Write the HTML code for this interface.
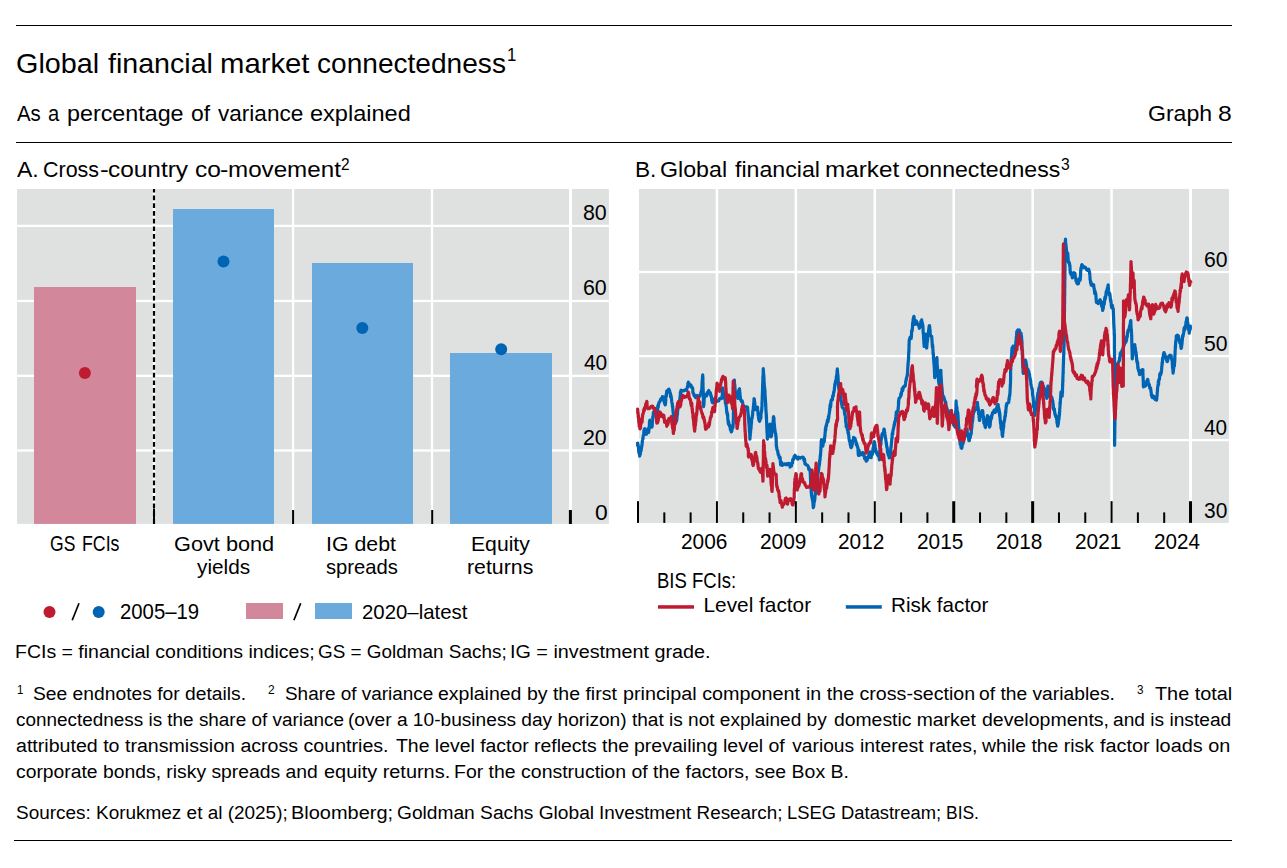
<!DOCTYPE html>
<html lang="en"><head><meta charset="utf-8"><title>Global financial market connectedness</title>
<style>
html,body{margin:0;padding:0;background:#fff;}
body{width:1287px;height:868px;position:relative;overflow:hidden;font-family:"Liberation Sans", sans-serif;color:#000;}
.t{position:absolute;white-space:nowrap;line-height:1;transform-origin:0 0;}
.rule{position:absolute;left:16px;width:1216px;height:1.2px;background:#000;}
svg{position:absolute;left:0;top:0;}
</style></head><body>
<div class="rule" style="top:24.9px"></div>
<div class="rule" style="top:141.9px"></div>
<div class="rule" style="top:839.9px;left:14px;width:1218px"></div>
<svg width="1287" height="868" viewBox="0 0 1287 868">
<rect x="17" y="189" width="591.9" height="334.9" fill="#dfe0e0"/>
<rect x="17" y="224.75" width="591.9" height="2.3" fill="#fff"/>
<rect x="17" y="299.85" width="591.9" height="2.3" fill="#fff"/>
<rect x="17" y="374.65000000000003" width="591.9" height="2.3" fill="#fff"/>
<rect x="17" y="449.35" width="591.9" height="2.3" fill="#fff"/>
<rect x="291.95000000000005" y="189" width="2.3" height="334.9" fill="#fff"/>
<rect x="430.85" y="189" width="2.3" height="334.9" fill="#fff"/>
<rect x="568.95" y="189" width="3.1" height="334.9" fill="#fff"/>
<rect x="34" y="287" width="102" height="236.89999999999998" fill="#d2879b"/>
<rect x="173" y="209" width="101" height="314.9" fill="#6baadc"/>
<rect x="312" y="263" width="101" height="260.9" fill="#6baadc"/>
<rect x="450" y="353" width="102" height="170.89999999999998" fill="#6baadc"/>
<rect x="152.75" y="189" width="2.5" height="334.9" fill="#fff"/>
<line x1="154" y1="189" x2="154" y2="523.9" stroke="#000" stroke-width="2.2" stroke-dasharray="4.7 3.0" stroke-dashoffset="1.1"/>
<rect x="153" y="508.5" width="2" height="15.5" fill="#000"/>
<rect x="292.1" y="510" width="2" height="14" fill="#000"/>
<rect x="431.2" y="510" width="2" height="14" fill="#000"/>
<rect x="568.9" y="510" width="3" height="14" fill="#000"/>
<circle cx="84.9" cy="373" r="6" fill="#be1a30"/>
<circle cx="223.5" cy="261.6" r="6" fill="#0064b4"/>
<circle cx="362.3" cy="328" r="6" fill="#0064b4"/>
<circle cx="501.2" cy="349.2" r="6" fill="#0064b4"/>
<circle cx="49.5" cy="612" r="6" fill="#be1a30"/>
<circle cx="98.7" cy="612" r="6" fill="#0064b4"/>
<rect x="246" y="603" width="37" height="16" fill="#d2879b"/>
<rect x="315" y="603" width="37" height="16" fill="#6baadc"/>
<line x1="72.2" y1="620.3" x2="79.0" y2="603.2" stroke="#000" stroke-width="1.7"/>
<line x1="293.9" y1="620.3" x2="300.7" y2="603.2" stroke="#000" stroke-width="1.7"/>
<rect x="639" y="189" width="589.9000000000001" height="333.9" fill="#dfe0e0"/>
<rect x="639" y="270.85" width="589.9000000000001" height="2.3" fill="#fff"/>
<rect x="639" y="354.95000000000005" width="589.9000000000001" height="2.3" fill="#fff"/>
<rect x="639" y="438.95000000000005" width="589.9000000000001" height="2.3" fill="#fff"/>
<rect x="715.6800000000001" y="189" width="2.5" height="333.9" fill="#fff"/>
<rect x="794.61" y="189" width="2.5" height="333.9" fill="#fff"/>
<rect x="873.54" y="189" width="2.5" height="333.9" fill="#fff"/>
<rect x="952.47" y="189" width="2.5" height="333.9" fill="#fff"/>
<rect x="1031.4" y="189" width="2.5" height="333.9" fill="#fff"/>
<rect x="1110.33" y="189" width="2.5" height="333.9" fill="#fff"/>
<rect x="1188.96" y="189" width="3.1" height="333.9" fill="#fff"/>
<path d="M637.5 442.1 L637.6 445.4 L637.7 443.2 L637.8 444.7 L638.0 445.0 L638.1 444.9 L638.2 445.7 L638.3 446.6 L638.5 447.9 L638.6 449.5 L638.7 451.3 L638.8 451.5 L639.0 453.1 L639.1 453.4 L639.2 453.6 L639.3 453.8 L639.4 453.5 L639.6 453.2 L639.7 456.1 L639.9 454.9 L640.1 454.8 L640.3 454.2 L640.5 451.5 L640.7 450.7 L640.8 449.4 L641.0 450.9 L641.2 449.5 L641.4 448.8 L641.6 446.7 L641.8 446.4 L641.9 444.7 L642.0 444.7 L642.1 444.8 L642.2 441.9 L642.3 442.6 L642.4 440.8 L642.5 440.1 L642.6 439.5 L642.7 438.7 L642.8 438.9 L643.0 438.9 L643.1 437.3 L643.2 435.8 L643.3 435.7 L643.5 435.1 L643.6 435.0 L643.8 433.7 L643.9 430.6 L644.1 429.9 L644.2 429.6 L644.4 430.6 L644.5 429.1 L644.7 428.7 L644.9 429.9 L645.1 428.9 L645.3 430.6 L645.5 432.3 L645.7 433.4 L645.9 432.1 L646.2 434.5 L647.1 433.1 L648.0 432.5 L648.2 430.8 L648.3 428.7 L648.4 428.3 L648.6 430.8 L648.7 432.4 L648.8 430.8 L649.0 429.0 L649.1 429.5 L649.2 427.4 L649.4 424.5 L649.5 421.3 L649.6 423.6 L649.8 420.2 L649.9 420.8 L650.2 420.6 L650.5 423.0 L650.8 423.2 L651.1 426.1 L651.4 426.3 L651.8 427.2 L651.9 426.8 L652.0 424.9 L652.1 424.6 L652.2 426.5 L652.3 422.7 L652.4 422.2 L652.5 421.9 L652.6 420.0 L652.7 419.4 L652.8 416.6 L652.9 416.6 L653.0 416.7 L653.1 417.4 L653.2 417.0 L653.3 414.4 L653.4 412.4 L653.5 414.6 L653.6 412.7 L654.4 411.0 L655.2 412.4 L656.0 412.5 L656.7 414.3 L656.9 411.3 L657.0 411.6 L657.1 411.1 L657.3 410.7 L657.4 411.6 L657.5 410.4 L657.7 407.8 L657.8 405.7 L657.9 405.9 L658.1 407.5 L658.2 407.2 L658.3 404.8 L658.5 405.5 L658.6 403.8 L659.1 402.3 L659.5 402.3 L660.0 401.1 L660.5 400.0 L661.0 398.6 L661.5 398.7 L662.0 399.6 L662.4 396.6 L662.9 396.7 L663.2 397.4 L663.5 398.1 L663.8 397.4 L664.0 400.6 L664.3 402.3 L664.6 403.8 L664.9 403.4 L665.2 405.0 L665.4 403.9 L665.5 404.3 L665.6 402.0 L665.7 401.3 L665.8 399.9 L665.8 397.9 L665.9 397.5 L666.0 396.0 L666.1 394.9 L666.2 394.9 L666.3 394.0 L666.3 396.4 L666.4 396.4 L666.5 395.0 L666.6 393.6 L666.7 390.9 L667.6 390.6 L668.5 389.3 L668.9 389.2 L669.3 390.2 L669.7 391.2 L670.0 393.5 L670.4 393.3 L670.6 397.0 L670.7 395.5 L670.9 397.1 L671.0 395.3 L671.2 398.2 L671.3 397.2 L671.5 399.1 L671.6 400.1 L671.8 402.0 L672.0 402.9 L672.1 403.5 L672.3 403.5 L672.4 406.7 L672.4 405.4 L672.5 406.1 L672.6 406.3 L672.7 407.6 L672.8 407.3 L672.8 408.4 L672.9 410.4 L673.0 410.3 L673.1 412.1 L673.2 412.0 L673.3 414.9 L673.3 414.6 L673.4 417.3 L673.5 416.3 L673.8 417.0 L674.1 418.7 L674.4 420.1 L674.8 421.5 L675.1 422.3 L675.4 422.5 L675.7 420.6 L676.0 422.4 L676.1 421.5 L676.2 421.0 L676.4 421.4 L676.5 418.5 L676.6 419.5 L676.7 420.6 L676.9 418.2 L677.0 415.8 L677.1 416.4 L677.2 414.7 L677.4 414.6 L677.5 414.2 L677.6 410.2 L677.7 410.5 L677.9 409.2 L678.0 407.4 L678.2 408.3 L678.4 405.9 L678.5 405.2 L678.7 404.7 L678.9 405.0 L679.0 404.6 L679.2 404.0 L679.4 402.2 L679.6 400.7 L679.7 401.1 L679.8 399.2 L679.9 398.0 L680.0 399.0 L680.1 396.9 L680.2 395.6 L680.3 397.1 L680.3 395.6 L680.4 392.0 L680.5 392.0 L680.6 394.7 L680.7 396.2 L680.8 392.4 L680.9 391.8 L681.0 390.2 L681.9 391.2 L682.8 390.5 L683.8 390.9 L684.7 390.0 L685.6 390.3 L686.6 390.5 L686.7 388.8 L686.9 388.8 L687.1 388.1 L687.2 387.9 L687.4 386.6 L687.6 387.3 L687.8 386.6 L687.9 383.7 L688.1 382.8 L688.3 383.2 L688.4 382.2 L688.8 384.6 L689.3 383.8 L689.7 384.9 L690.3 386.2 L690.9 385.0 L691.5 387.0 L691.8 387.7 L692.0 387.6 L692.2 388.1 L692.5 387.6 L692.7 388.4 L692.9 392.7 L693.2 392.8 L693.4 393.5 L693.8 394.4 L694.1 395.7 L694.5 395.0 L694.9 396.0 L695.3 397.3 L695.9 397.7 L696.5 396.3 L697.1 395.5 L697.8 396.1 L698.4 396.2 L699.0 396.7 L699.4 395.7 L699.8 396.1 L700.2 394.6 L700.7 393.7 L701.1 391.8 L701.5 392.0 L701.5 390.5 L701.6 390.1 L701.7 390.9 L701.7 389.9 L701.8 389.6 L701.8 389.2 L701.9 386.6 L702.0 387.3 L702.0 385.4 L702.1 382.6 L702.1 381.9 L702.2 381.8 L702.3 379.4 L702.3 382.7 L702.4 380.5 L702.4 380.2 L702.5 377.1 L702.5 377.1 L702.6 376.7 L702.7 374.8 L702.7 374.9 L702.7 375.6 L702.8 376.9 L702.8 376.0 L702.8 378.2 L702.8 378.6 L702.9 378.6 L702.9 377.4 L702.9 380.0 L702.9 381.2 L702.9 385.4 L703.0 383.1 L703.0 386.1 L703.0 387.4 L703.0 387.4 L703.1 387.7 L703.1 388.6 L703.1 387.1 L703.1 390.5 L703.1 390.2 L703.2 390.1 L703.2 391.5 L703.2 389.2 L703.2 390.6 L703.2 391.8 L703.3 392.3 L703.3 395.6 L703.3 398.5 L703.3 398.1 L703.4 398.1 L703.4 399.4 L703.4 399.4 L703.4 400.7 L703.4 402.0 L703.5 402.2 L703.5 402.6 L703.5 403.8 L703.5 404.7 L703.6 406.3 L703.6 404.8 L703.6 406.6 L703.7 405.1 L703.7 405.6 L703.8 403.1 L703.9 404.7 L703.9 405.0 L704.0 402.0 L704.1 402.6 L704.1 398.4 L704.2 398.8 L704.3 396.6 L704.3 398.5 L704.4 398.4 L704.5 397.4 L704.5 395.2 L704.6 394.3 L705.5 395.3 L706.5 395.8 L706.8 395.8 L707.2 392.7 L707.6 393.6 L707.9 393.5 L708.3 391.5 L708.8 390.5 L709.3 392.0 L709.8 393.1 L710.3 392.6 L710.8 395.7 L711.0 395.1 L711.2 397.0 L711.3 396.1 L711.5 397.1 L711.7 400.3 L711.9 399.2 L712.1 402.0 L712.7 402.9 L713.3 402.3 L713.9 399.1 L714.5 400.4 L715.4 400.1 L716.2 401.6 L717.0 401.4 L717.9 400.6 L718.7 400.8 L719.5 398.8 L720.3 398.2 L721.2 398.6 L722.0 398.3 L722.1 397.5 L722.1 397.9 L722.2 397.3 L722.2 394.7 L722.3 394.9 L722.4 394.8 L722.4 393.0 L722.5 392.1 L722.6 387.8 L722.6 388.9 L722.8 389.9 L723.0 389.3 L723.2 392.4 L723.4 394.5 L723.7 393.1 L723.9 393.0 L724.1 394.6 L724.3 396.2 L724.5 397.5 L724.6 398.0 L724.8 398.8 L724.9 398.4 L725.1 400.3 L725.3 400.3 L725.4 402.9 L725.6 404.0 L725.7 402.1 L725.9 404.4 L726.0 404.0 L726.2 406.9 L726.3 406.9 L726.5 409.0 L726.6 410.4 L726.7 412.4 L726.8 411.8 L726.9 411.7 L727.0 413.6 L727.1 411.9 L727.2 413.3 L727.3 414.0 L727.4 415.0 L727.5 414.1 L727.6 414.2 L727.7 414.8 L727.8 419.3 L727.9 419.3 L728.0 421.0 L728.1 421.2 L728.2 422.0 L728.4 424.2 L728.6 421.3 L728.8 423.3 L729.0 423.9 L729.2 424.5 L729.5 426.3 L729.8 425.0 L730.1 426.2 L730.4 429.9 L730.7 429.5 L731.0 430.2 L731.3 431.9 L731.5 431.6 L731.7 431.6 L731.9 430.1 L732.1 428.8 L732.4 428.4 L732.6 426.2 L732.8 426.1 L733.0 427.3 L733.2 424.6 L733.2 422.5 L733.2 420.6 L733.2 421.3 L733.3 421.7 L733.3 420.0 L733.3 419.1 L733.3 420.0 L733.3 418.4 L733.4 418.2 L733.4 416.3 L733.4 417.1 L733.4 416.4 L733.4 414.3 L733.4 412.6 L733.5 415.2 L733.5 411.2 L733.5 409.5 L733.5 406.5 L733.5 408.7 L733.6 408.2 L733.6 407.4 L733.6 404.8 L733.6 405.3 L733.6 403.9 L733.6 402.5 L733.7 402.6 L733.7 402.7 L733.7 401.7 L733.7 400.4 L733.7 400.9 L733.8 400.0 L733.8 398.4 L733.8 398.4 L733.8 397.6 L733.8 397.5 L733.8 396.9 L733.9 396.0 L733.9 393.6 L733.9 394.5 L733.9 393.9 L733.9 391.4 L734.0 392.1 L734.0 390.4 L734.0 388.0 L734.0 387.8 L734.0 385.7 L734.1 387.3 L734.1 384.5 L734.1 386.3 L734.1 383.6 L734.1 383.0 L734.1 383.9 L734.2 382.7 L734.2 380.6 L734.3 381.0 L734.4 380.1 L734.4 383.3 L734.5 382.9 L734.6 384.4 L734.7 385.4 L734.8 384.7 L734.9 387.1 L735.0 390.2 L735.1 388.6 L735.1 389.0 L735.2 390.8 L735.3 392.9 L735.4 391.7 L735.5 393.1 L735.6 394.3 L735.7 395.2 L736.6 394.8 L737.5 396.8 L737.8 398.4 L738.0 393.7 L738.2 392.2 L738.5 392.5 L738.7 390.9 L738.9 389.9 L739.2 389.6 L739.4 388.9 L739.5 388.8 L739.6 390.6 L739.7 391.1 L739.9 392.7 L740.0 394.6 L740.1 395.9 L740.2 395.7 L740.3 398.5 L740.4 397.2 L740.5 398.8 L740.6 399.3 L741.0 400.3 L741.4 401.3 L741.8 400.6 L742.1 400.7 L742.5 402.2 L742.8 403.6 L743.1 404.6 L743.4 405.9 L743.8 406.2 L744.7 406.6 L745.6 407.0 L746.6 406.8 L747.5 407.2 L747.6 407.9 L747.6 407.5 L747.7 410.7 L747.8 412.1 L747.9 412.1 L748.0 411.8 L748.1 414.1 L748.1 413.9 L748.2 414.4 L748.3 416.0 L748.4 415.8 L748.5 417.1 L748.6 417.3 L748.6 419.3 L748.7 419.8 L748.8 421.5 L748.8 422.1 L748.9 422.7 L748.9 423.5 L749.0 424.8 L749.1 423.7 L749.1 423.6 L749.2 425.6 L749.2 426.9 L749.3 427.4 L749.3 430.2 L749.4 430.5 L749.4 432.0 L749.5 431.7 L749.5 430.4 L749.6 430.5 L749.6 433.9 L749.7 434.4 L749.8 434.5 L749.8 437.2 L749.9 439.1 L749.9 438.8 L750.0 438.9 L750.0 437.8 L750.1 435.7 L750.2 433.6 L750.3 435.5 L750.3 432.6 L750.4 432.4 L750.5 432.3 L750.6 432.4 L750.6 429.0 L750.7 429.2 L750.8 428.1 L750.8 429.8 L750.9 428.0 L751.0 426.3 L751.1 427.9 L751.1 426.2 L751.2 425.0 L751.3 424.5 L751.4 423.0 L751.5 423.0 L751.6 420.7 L751.7 418.6 L751.8 418.2 L751.9 419.0 L752.0 417.6 L752.1 418.2 L752.2 417.5 L752.4 416.1 L752.5 415.1 L752.6 414.8 L752.7 413.7 L752.7 412.1 L752.8 411.2 L752.9 410.4 L753.0 410.9 L753.1 411.2 L753.2 410.1 L753.3 408.3 L753.4 406.7 L753.5 406.0 L753.6 404.3 L753.7 403.8 L753.8 402.7 L753.9 402.2 L754.0 398.7 L754.1 399.7 L754.2 400.3 L754.3 398.8 L754.4 401.6 L754.5 401.5 L754.6 401.2 L754.7 403.9 L754.8 402.6 L754.9 406.9 L755.0 405.0 L755.1 406.8 L755.2 408.5 L755.3 408.8 L755.4 408.7 L755.5 408.3 L755.6 409.6 L756.5 409.2 L757.4 408.8 L757.5 407.1 L757.6 410.0 L757.7 409.5 L757.8 410.5 L757.9 411.9 L758.0 412.3 L758.0 414.4 L758.1 413.1 L758.2 415.6 L758.3 415.2 L758.4 416.4 L758.5 417.6 L758.6 417.1 L758.7 419.6 L759.6 421.4 L760.5 418.4 L760.7 416.5 L760.8 418.0 L760.9 418.2 L761.0 413.4 L761.2 413.1 L761.3 411.9 L761.4 412.0 L761.5 411.2 L761.7 409.3 L761.8 409.4 L761.8 409.8 L761.8 407.3 L761.9 407.2 L761.9 407.1 L761.9 407.9 L762.0 406.1 L762.0 404.7 L762.0 402.3 L762.1 402.4 L762.1 403.1 L762.1 401.8 L762.1 401.7 L762.2 399.2 L762.2 399.2 L762.2 397.5 L762.3 395.9 L762.3 394.9 L762.3 396.1 L762.4 395.3 L762.4 393.6 L762.4 392.4 L762.4 392.7 L762.5 390.8 L762.5 391.4 L762.5 390.2 L762.6 388.2 L762.6 387.4 L762.6 385.6 L762.7 384.4 L762.7 384.1 L762.7 383.5 L762.8 382.9 L762.8 381.7 L762.8 380.9 L762.8 381.2 L762.9 378.9 L762.9 376.2 L762.9 379.6 L763.0 378.4 L763.0 377.5 L763.0 377.9 L763.1 377.4 L763.1 377.1 L763.1 375.9 L763.1 374.7 L763.2 373.4 L763.2 371.8 L763.2 370.7 L763.3 368.7 L763.3 371.2 L763.4 371.5 L763.5 371.2 L763.5 374.1 L763.6 373.5 L763.6 375.0 L763.7 374.7 L763.8 374.7 L763.8 377.9 L763.9 378.4 L764.0 377.2 L764.0 379.8 L764.1 381.6 L764.1 381.3 L764.2 382.9 L764.3 384.7 L764.3 385.7 L764.4 386.0 L764.5 386.7 L764.5 388.5 L764.6 388.1 L764.6 387.9 L764.7 388.3 L764.8 393.1 L764.8 390.3 L764.9 391.1 L764.9 389.7 L765.0 391.9 L765.0 393.0 L765.1 394.0 L765.1 395.9 L765.2 397.9 L765.2 397.7 L765.3 396.9 L765.3 397.6 L765.4 398.9 L765.4 399.0 L765.5 400.4 L765.5 402.1 L765.6 402.8 L765.6 405.7 L765.7 403.0 L765.7 404.6 L765.7 406.8 L765.8 405.6 L765.8 405.0 L765.9 409.7 L765.9 410.6 L766.0 410.9 L766.0 412.4 L766.1 410.8 L766.1 411.7 L766.2 414.3 L766.2 414.4 L766.2 412.9 L766.3 414.6 L766.3 417.8 L766.3 416.3 L766.4 415.7 L766.4 415.1 L766.5 418.0 L766.5 419.6 L766.5 420.0 L766.6 420.8 L766.6 421.9 L766.6 422.4 L766.7 423.2 L766.7 425.8 L766.8 426.0 L766.8 427.3 L766.8 425.5 L766.9 426.5 L766.9 429.6 L766.9 430.2 L767.0 432.0 L767.0 430.2 L767.0 432.6 L767.1 432.5 L767.1 433.7 L767.2 433.8 L767.2 434.0 L767.2 434.5 L767.3 436.3 L767.3 438.8 L767.3 437.8 L767.4 439.2 L767.6 437.2 L767.8 436.3 L768.0 437.3 L768.2 435.8 L768.4 434.1 L768.6 434.7 L768.7 434.2 L768.8 433.5 L768.9 432.4 L769.0 430.6 L769.1 431.1 L769.2 429.1 L769.3 428.8 L769.4 428.1 L769.5 428.5 L769.7 426.5 L769.8 426.5 L769.9 424.1 L769.9 425.0 L770.0 426.3 L770.1 427.2 L770.2 425.6 L770.3 428.8 L770.4 428.8 L770.4 429.3 L770.5 432.7 L770.6 432.3 L770.7 434.0 L770.8 432.1 L770.9 434.8 L770.9 435.7 L771.0 436.6 L771.1 436.8 L771.2 436.3 L771.4 435.2 L771.5 436.0 L771.7 433.6 L771.8 431.0 L771.9 432.6 L772.1 430.2 L772.2 429.8 L772.3 429.8 L772.4 430.9 L772.5 429.4 L772.6 428.5 L772.6 427.0 L772.7 425.9 L772.8 424.8 L772.9 424.3 L772.9 422.2 L773.0 422.3 L773.1 422.9 L773.2 421.4 L773.2 420.0 L773.3 420.0 L773.4 417.6 L773.4 417.0 L773.5 419.2 L773.6 416.5 L773.7 418.2 L773.7 417.9 L773.8 417.6 L773.9 417.6 L774.0 419.4 L774.0 422.1 L774.1 421.9 L774.2 423.5 L774.2 423.2 L774.3 424.1 L774.4 425.3 L774.5 429.2 L774.5 427.8 L774.6 426.6 L774.7 428.9 L774.8 429.1 L774.8 429.8 L775.0 429.9 L775.1 432.1 L775.2 431.6 L775.4 433.2 L775.5 433.4 L775.7 433.6 L775.8 435.8 L775.9 436.8 L776.1 436.4 L776.1 438.0 L776.1 439.7 L776.2 440.1 L776.2 441.0 L776.2 441.7 L776.3 442.6 L776.3 442.7 L776.3 444.8 L776.4 446.4 L776.4 445.0 L776.4 446.1 L776.4 446.7 L776.7 446.9 L776.9 449.5 L777.2 449.8 L777.4 450.7 L777.7 450.9 L777.9 452.8 L778.3 455.1 L778.6 454.9 L778.9 455.1 L779.2 457.6 L779.5 458.3 L779.8 457.3 L780.0 458.0 L780.2 457.5 L780.3 460.8 L780.5 462.9 L780.7 465.0 L780.9 463.9 L781.0 463.7 L781.5 462.3 L781.9 465.0 L782.3 465.4 L783.3 464.2 L784.4 463.9 L785.4 464.6 L786.3 463.7 L787.2 464.8 L788.1 463.6 L789.0 463.4 L789.9 463.7 L790.1 467.1 L790.3 466.5 L790.7 465.1 L791.1 465.4 L791.5 466.0 L791.8 463.6 L792.2 462.6 L792.5 463.1 L792.7 459.6 L793.0 459.7 L793.3 458.9 L793.5 459.2 L793.8 459.3 L794.1 456.7 L795.0 455.3 L795.9 456.9 L796.6 457.5 L797.2 457.6 L797.8 459.2 L798.6 457.2 L799.4 458.1 L800.1 458.2 L800.9 457.5 L801.8 457.5 L802.8 457.1 L803.0 457.2 L803.3 457.5 L803.5 458.1 L803.8 459.6 L804.0 460.5 L804.5 459.1 L805.0 464.2 L805.4 463.6 L805.9 464.2 L806.5 465.0 L807.1 465.0 L807.8 465.6 L808.4 467.0 L808.6 468.1 L808.9 469.7 L809.2 468.2 L809.4 470.1 L809.7 469.7 L810.0 469.6 L810.2 472.3 L810.3 473.4 L810.3 474.8 L810.4 475.7 L810.4 473.6 L810.4 476.3 L810.5 479.4 L810.5 479.0 L810.6 480.3 L810.6 481.8 L810.7 483.3 L810.7 479.4 L810.7 481.1 L810.8 482.4 L810.8 483.3 L810.9 485.0 L810.9 484.4 L811.0 483.1 L811.0 486.3 L811.1 487.4 L811.1 489.8 L811.2 491.2 L811.2 491.4 L811.3 493.2 L811.3 491.3 L811.4 492.6 L811.4 492.1 L811.5 495.1 L811.7 495.7 L811.9 497.4 L812.1 498.0 L812.3 499.1 L812.5 500.3 L812.7 500.1 L812.8 502.0 L812.9 502.0 L812.9 503.2 L813.0 501.2 L813.0 502.2 L813.1 505.9 L813.2 506.7 L813.2 505.3 L813.3 505.5 L813.3 507.7 L813.5 506.2 L813.6 507.1 L813.7 505.8 L813.8 505.7 L814.0 502.8 L814.1 502.5 L814.2 502.2 L814.3 501.8 L814.5 501.4 L814.6 499.7 L814.7 499.8 L814.8 499.7 L814.9 498.3 L815.0 495.3 L815.1 494.3 L815.2 493.2 L815.3 495.1 L815.4 494.3 L815.5 492.6 L815.6 490.8 L815.7 489.6 L815.8 490.0 L815.9 489.1 L816.0 487.4 L816.1 486.0 L816.2 486.7 L816.4 483.5 L816.5 483.3 L816.6 484.1 L816.7 484.0 L816.8 483.2 L816.9 481.3 L817.0 481.4 L817.1 480.3 L817.2 478.6 L817.4 477.0 L817.5 476.4 L817.6 476.2 L817.8 474.9 L817.9 473.7 L818.0 471.0 L818.2 473.0 L818.3 471.9 L818.4 471.0 L818.6 469.7 L818.7 470.1 L818.8 467.5 L818.9 466.2 L819.1 466.5 L819.2 466.0 L819.3 464.6 L819.4 464.6 L819.6 463.4 L819.6 462.1 L819.7 460.3 L819.8 460.4 L819.9 461.0 L820.0 459.5 L820.1 458.5 L820.1 458.8 L820.2 456.8 L820.3 455.3 L820.4 455.0 L820.5 456.2 L820.6 453.8 L820.6 452.7 L820.7 452.3 L820.8 451.0 L820.8 449.7 L820.9 450.7 L820.9 447.1 L821.0 447.8 L821.0 448.0 L821.1 447.9 L821.1 446.2 L821.1 445.3 L821.2 443.3 L821.2 440.7 L821.3 441.5 L821.3 441.2 L821.3 440.8 L821.4 441.1 L821.4 439.7 L821.6 441.3 L821.7 442.9 L821.8 442.3 L822.0 442.8 L822.1 442.0 L822.3 443.6 L822.4 443.8 L822.5 445.3 L822.7 445.6 L822.9 446.0 L823.1 443.0 L823.3 443.7 L823.5 440.5 L823.7 441.1 L823.9 441.2 L824.1 441.3 L824.3 441.6 L824.5 438.4 L824.6 437.5 L824.7 436.6 L824.8 436.2 L824.9 436.8 L825.0 434.4 L825.1 432.6 L825.2 431.9 L825.2 432.9 L825.3 430.8 L825.4 428.3 L825.5 428.5 L825.6 429.9 L825.7 430.4 L825.8 427.5 L826.0 425.9 L826.2 426.4 L826.4 426.3 L826.6 424.6 L826.8 423.5 L827.0 422.8 L827.4 420.2 L827.9 422.0 L828.3 419.8 L828.4 416.6 L828.5 418.8 L828.7 417.6 L828.8 417.4 L829.0 414.1 L829.1 414.5 L829.2 414.0 L829.3 413.3 L829.4 412.4 L829.5 411.3 L829.6 410.4 L829.7 408.3 L829.8 410.6 L829.9 408.0 L830.0 405.7 L830.1 406.1 L830.2 405.1 L830.3 404.3 L830.6 407.2 L830.8 404.7 L831.0 400.8 L831.3 400.4 L831.5 399.9 L831.7 399.6 L832.0 399.8 L832.2 398.6 L832.4 400.0 L832.6 397.1 L832.8 395.7 L833.0 396.3 L833.3 396.1 L833.5 393.6 L833.6 392.2 L833.7 393.0 L833.9 392.2 L834.0 392.0 L834.1 391.4 L834.3 390.0 L834.4 388.6 L834.5 387.5 L834.7 386.5 L834.8 384.1 L834.9 384.8 L835.1 385.0 L835.2 384.3 L835.3 382.2 L835.5 381.1 L835.7 381.9 L835.9 381.5 L836.2 378.6 L836.4 376.3 L836.6 377.2 L836.7 374.7 L836.8 377.2 L836.9 375.3 L837.0 375.0 L837.0 371.3 L837.1 371.9 L837.2 371.6 L837.3 368.9 L837.4 370.3 L837.5 371.2 L837.5 372.2 L837.6 372.2 L837.6 373.3 L837.7 374.7 L837.8 375.4 L837.8 376.2 L837.9 374.6 L837.9 376.5 L838.0 376.2 L838.0 378.4 L838.1 378.5 L838.1 377.8 L838.2 381.3 L838.3 381.9 L838.4 382.4 L838.4 383.5 L838.5 384.2 L838.6 386.0 L838.7 388.4 L838.8 387.4 L838.9 388.8 L839.0 389.9 L839.1 389.4 L839.2 390.9 L839.3 392.5 L839.5 392.4 L839.6 392.6 L839.7 392.4 L839.9 395.2 L840.0 394.8 L840.1 396.1 L840.3 395.3 L840.4 396.8 L840.5 396.2 L840.7 397.5 L840.8 400.3 L840.9 400.5 L841.1 400.0 L841.3 401.1 L841.4 402.4 L841.6 402.6 L841.8 404.8 L842.0 405.3 L842.2 407.2 L843.1 408.3 L844.0 408.5 L844.1 409.7 L844.3 410.7 L844.4 409.0 L844.5 413.4 L844.6 411.1 L844.8 414.6 L844.9 413.8 L845.0 412.5 L845.1 413.5 L845.3 416.1 L845.4 416.9 L845.5 417.9 L845.7 422.3 L845.8 421.4 L846.0 420.6 L846.1 423.3 L846.2 426.7 L846.4 424.0 L846.5 424.3 L846.7 424.9 L846.9 424.5 L847.1 425.4 L847.3 429.1 L847.5 430.3 L847.8 430.0 L847.9 431.0 L848.0 432.9 L848.1 430.6 L848.3 434.0 L848.4 432.4 L848.5 433.0 L848.6 435.3 L848.7 434.9 L848.9 437.0 L849.0 438.2 L849.2 440.3 L849.4 440.2 L849.5 441.0 L849.7 441.4 L849.9 442.3 L850.1 443.0 L850.2 444.3 L850.6 445.7 L850.9 447.5 L851.2 447.7 L851.5 446.9 L851.9 446.4 L852.1 443.4 L852.3 442.9 L852.4 444.1 L852.6 440.4 L852.8 440.7 L853.0 441.3 L853.2 440.7 L853.4 439.4 L853.6 437.4 L853.8 439.1 L854.4 438.0 L855.0 438.5 L855.6 440.6 L855.9 441.5 L856.1 443.1 L856.3 444.8 L856.6 443.2 L856.8 445.0 L857.0 444.8 L857.2 446.2 L857.5 447.3 L857.7 447.0 L857.9 448.6 L858.0 448.5 L858.2 453.6 L858.4 455.4 L858.6 453.7 L858.8 451.7 L859.0 450.0 L859.2 451.2 L859.3 455.5 L860.3 453.7 L861.2 454.5 L861.8 453.2 L862.5 452.5 L863.1 452.7 L863.5 452.9 L863.9 456.0 L864.3 456.1 L864.7 458.8 L865.1 458.1 L865.6 457.6 L866.2 461.2 L866.8 459.3 L867.2 460.3 L867.6 457.4 L867.9 458.4 L868.3 457.1 L868.7 455.8 L868.9 454.6 L869.2 457.1 L869.4 455.0 L869.7 452.0 L869.9 451.9 L870.1 452.2 L870.3 454.0 L870.4 455.4 L870.6 455.5 L870.8 456.9 L871.0 456.6 L871.2 457.6 L871.3 456.1 L871.5 455.1 L871.7 454.4 L871.8 454.5 L872.0 453.3 L872.2 454.6 L872.3 451.7 L872.5 454.0 L872.7 451.5 L872.9 450.0 L873.0 448.7 L873.2 449.3 L873.3 447.0 L873.5 447.2 L873.6 445.6 L873.8 442.7 L874.0 443.0 L874.1 444.9 L874.3 441.7 L874.4 443.7 L874.6 442.6 L874.7 445.6 L874.9 444.4 L875.0 445.1 L875.2 446.8 L875.4 448.1 L875.5 448.6 L875.7 451.7 L876.0 452.1 L876.2 451.0 L876.4 452.5 L876.7 453.1 L876.9 454.0 L877.1 454.1 L877.4 454.7 L878.0 455.7 L878.6 455.4 L879.2 457.2 L879.3 459.8 L879.4 456.4 L879.5 452.8 L879.6 453.2 L879.7 452.3 L879.7 450.8 L879.8 451.0 L879.9 450.2 L880.0 450.8 L880.1 451.3 L880.2 447.2 L880.2 446.8 L880.3 444.5 L880.4 443.6 L880.5 444.6 L880.6 444.5 L880.8 442.8 L880.9 444.6 L881.0 440.3 L881.2 440.2 L881.3 439.9 L881.4 438.0 L881.6 437.7 L881.7 436.7 L882.0 434.3 L882.2 434.9 L882.5 433.4 L882.7 433.8 L883.0 433.6 L883.2 434.2 L883.5 432.9 L883.7 430.6 L884.0 429.0 L884.2 429.4 L884.3 429.4 L884.4 433.4 L884.6 432.6 L884.7 432.5 L884.8 432.4 L884.9 433.9 L885.0 434.7 L885.1 436.3 L885.2 436.1 L885.3 436.8 L885.5 438.5 L885.6 438.7 L885.7 438.7 L885.9 440.4 L886.0 441.3 L886.1 442.1 L886.3 443.6 L886.4 442.9 L886.5 444.6 L886.7 446.4 L886.8 446.9 L886.9 447.4 L887.1 447.3 L887.2 448.2 L887.3 449.2 L887.5 452.5 L887.7 452.6 L887.9 453.3 L888.1 454.6 L888.3 454.5 L888.4 455.2 L888.6 455.8 L888.8 455.3 L889.0 454.1 L889.2 457.8 L890.0 457.5 L890.1 457.4 L890.2 455.7 L890.2 455.5 L890.3 455.3 L890.4 455.0 L890.5 453.3 L890.6 452.9 L890.7 448.9 L890.7 450.2 L890.8 450.0 L890.9 447.1 L891.0 446.8 L891.1 446.8 L891.2 447.2 L891.2 445.1 L891.3 445.9 L891.4 443.8 L891.5 442.5 L891.6 442.2 L891.7 440.1 L891.8 438.4 L891.9 439.3 L892.0 438.1 L892.0 437.4 L892.1 438.0 L892.2 433.3 L892.3 433.8 L892.4 434.8 L892.5 433.4 L892.7 434.3 L892.9 430.9 L893.1 430.4 L893.3 429.2 L893.5 428.4 L893.7 427.9 L893.9 426.8 L894.0 425.3 L894.2 424.3 L894.4 425.2 L894.5 424.3 L894.7 421.9 L894.8 422.0 L895.0 422.2 L895.1 422.1 L895.3 420.6 L895.4 421.0 L895.6 418.6 L895.8 416.9 L895.9 415.7 L896.1 415.7 L896.3 411.8 L896.5 415.0 L896.7 414.4 L896.8 412.2 L897.3 411.0 L897.7 411.1 L898.1 410.5 L898.1 408.0 L898.2 409.1 L898.3 408.1 L898.3 406.2 L898.4 406.2 L898.5 404.0 L898.5 402.0 L898.6 400.3 L898.6 404.1 L898.7 401.6 L898.8 400.4 L898.8 399.8 L898.9 398.7 L899.0 398.2 L899.5 398.1 L900.0 397.3 L900.6 396.4 L900.8 393.8 L901.0 395.6 L901.2 394.5 L901.4 394.4 L901.6 392.0 L901.8 391.0 L902.2 388.6 L902.6 390.8 L902.9 389.7 L903.3 387.0 L903.7 387.3 L904.0 386.4 L904.4 386.0 L904.8 386.3 L905.2 386.1 L905.5 384.0 L905.7 381.8 L906.0 380.3 L906.2 380.3 L906.3 378.4 L906.5 379.0 L906.7 377.4 L906.9 376.7 L907.0 377.0 L907.2 375.0 L907.4 375.2 L907.5 372.0 L907.5 373.0 L907.6 371.0 L907.6 371.0 L907.7 370.1 L907.7 369.3 L907.8 367.6 L907.8 367.7 L907.9 365.8 L908.0 366.0 L908.0 364.5 L908.1 362.8 L908.1 364.6 L908.2 363.3 L908.2 361.3 L908.3 361.6 L908.3 361.5 L908.4 360.4 L908.4 360.1 L908.5 359.3 L908.5 356.4 L908.6 358.5 L908.6 355.7 L908.6 354.9 L908.7 354.3 L908.7 354.3 L908.7 352.8 L908.8 351.6 L908.8 350.9 L908.9 351.9 L908.9 351.2 L908.9 349.9 L909.0 348.8 L909.0 346.0 L909.0 345.1 L909.1 343.4 L909.1 346.0 L909.2 341.9 L909.2 340.5 L909.2 340.0 L909.3 340.6 L909.9 337.6 L910.5 337.0 L911.1 338.6 L911.2 335.8 L911.3 337.5 L911.4 336.8 L911.5 334.6 L911.6 330.9 L911.7 331.5 L911.8 332.1 L911.8 331.0 L911.9 330.5 L912.0 330.3 L912.1 329.4 L912.2 331.0 L912.3 329.6 L912.4 327.9 L912.5 327.4 L912.6 323.0 L912.7 323.6 L912.8 323.8 L912.9 321.6 L913.0 322.6 L913.1 321.8 L913.2 318.5 L913.3 320.3 L913.4 319.7 L913.5 318.3 L913.6 317.1 L913.8 319.3 L914.0 316.4 L914.2 318.3 L914.3 321.8 L914.5 323.8 L914.7 323.9 L914.9 324.3 L915.5 323.0 L916.1 320.8 L916.7 321.7 L917.1 324.1 L917.5 323.4 L917.8 324.8 L918.2 325.1 L918.6 324.9 L919.0 326.4 L919.4 328.3 L919.8 327.1 L920.0 325.5 L920.3 325.2 L920.5 323.8 L920.7 323.6 L920.9 321.4 L921.1 321.2 L921.3 322.0 L921.5 320.6 L921.7 319.9 L921.8 321.4 L922.0 323.8 L922.1 322.4 L922.3 322.5 L922.4 324.8 L922.5 325.8 L922.7 324.6 L922.8 325.1 L922.9 327.0 L923.0 327.7 L923.1 328.8 L923.1 330.8 L923.2 333.0 L923.2 333.6 L923.3 332.3 L923.3 332.4 L923.4 332.5 L923.4 333.2 L923.5 336.2 L923.5 337.0 L923.6 334.8 L923.6 337.0 L923.7 339.7 L923.8 338.0 L923.8 340.5 L923.9 343.4 L923.9 340.4 L924.0 341.4 L924.0 341.7 L924.1 344.0 L924.1 345.3 L924.2 346.5 L924.3 346.0 L924.4 344.4 L924.5 343.4 L924.5 344.1 L924.6 341.2 L924.7 340.6 L924.8 339.4 L924.9 338.7 L925.0 339.9 L925.1 337.7 L925.2 338.4 L925.3 335.9 L925.3 334.1 L925.4 334.1 L925.5 338.3 L925.6 337.3 L925.7 339.1 L925.8 338.5 L925.8 339.3 L925.9 338.9 L926.0 341.7 L926.1 342.6 L926.2 341.8 L926.3 343.9 L926.3 345.6 L926.4 346.7 L926.5 346.7 L926.6 348.2 L926.7 347.8 L926.8 347.2 L926.8 343.8 L926.9 343.0 L927.0 345.1 L927.1 342.6 L927.2 342.0 L927.3 341.1 L927.3 339.7 L927.4 341.6 L927.5 338.9 L927.6 339.9 L927.7 338.1 L927.8 336.4 L927.8 335.7 L927.9 334.3 L928.1 333.7 L928.2 333.7 L928.4 332.6 L928.5 331.6 L928.7 329.7 L928.8 330.2 L928.9 328.1 L929.1 327.2 L929.2 325.9 L929.4 327.7 L929.5 325.7 L929.6 326.1 L929.7 328.5 L929.7 328.0 L929.8 327.3 L929.9 329.3 L929.9 330.9 L930.0 332.6 L930.1 330.2 L930.1 331.3 L930.2 334.5 L930.3 335.4 L930.3 335.4 L930.4 335.4 L931.0 335.9 L931.6 336.9 L931.7 336.4 L931.8 338.7 L931.9 338.6 L932.0 340.4 L932.1 342.4 L932.1 342.1 L932.2 344.2 L932.3 346.0 L932.4 347.1 L932.5 345.2 L932.6 344.8 L932.6 345.6 L932.7 345.8 L932.8 347.2 L932.9 349.6 L933.0 350.6 L933.0 352.0 L933.1 354.2 L933.2 353.4 L933.2 352.9 L933.3 353.1 L933.4 353.7 L933.4 356.3 L933.5 358.9 L933.6 359.1 L933.7 358.8 L933.7 359.9 L933.8 361.9 L933.9 361.3 L933.9 363.0 L934.0 363.4 L934.1 363.4 L934.1 365.0 L934.2 367.1 L934.2 366.8 L934.2 366.3 L934.3 366.1 L934.3 367.0 L934.4 370.5 L934.4 370.9 L934.4 371.6 L934.5 372.8 L934.5 373.1 L934.5 374.1 L934.6 373.6 L934.6 376.5 L934.6 375.3 L934.7 377.5 L934.7 374.8 L934.8 377.7 L934.8 375.4 L934.9 376.6 L935.0 374.2 L935.0 372.9 L935.1 374.3 L935.2 375.3 L935.3 374.4 L935.3 375.1 L935.4 373.3 L935.5 369.7 L935.6 366.8 L935.6 366.9 L935.7 366.3 L935.8 365.2 L935.9 365.6 L935.9 367.1 L936.0 365.2 L936.1 364.8 L936.2 364.0 L936.3 361.6 L936.4 362.7 L936.5 360.0 L936.7 359.9 L936.8 357.9 L936.9 357.6 L936.9 359.2 L937.0 361.6 L937.0 359.2 L937.1 361.2 L937.1 365.2 L937.2 364.4 L937.2 364.7 L937.2 366.0 L937.3 366.1 L937.3 367.1 L937.4 367.3 L937.4 366.2 L937.5 368.4 L937.5 369.0 L937.6 371.6 L937.6 369.4 L937.7 369.8 L937.7 374.0 L937.8 373.3 L937.8 375.8 L937.9 374.6 L938.0 376.7 L938.1 375.1 L938.2 375.0 L938.3 376.9 L938.4 378.8 L938.5 379.2 L938.6 382.2 L938.7 381.2 L938.8 383.1 L938.9 382.6 L939.0 382.6 L939.1 384.7 L939.2 383.1 L939.3 380.2 L939.4 381.3 L939.5 382.1 L939.6 381.0 L939.7 378.9 L939.8 376.9 L939.9 376.0 L940.0 376.8 L940.1 378.2 L940.2 374.6 L940.2 374.1 L940.3 374.8 L940.4 373.7 L940.5 372.3 L940.6 370.5 L940.7 370.5 L940.8 371.1 L940.8 371.3 L940.9 370.3 L940.9 373.4 L941.0 375.0 L941.0 376.1 L941.1 375.4 L941.1 378.0 L941.2 378.9 L941.2 378.7 L941.3 378.0 L941.3 380.3 L941.4 382.3 L941.4 380.0 L941.5 382.7 L941.5 383.2 L941.6 384.4 L941.7 385.5 L941.8 387.4 L941.9 387.6 L941.9 386.5 L942.0 388.7 L942.1 390.0 L942.2 390.1 L942.3 392.8 L942.4 392.0 L942.5 393.8 L942.6 395.2 L942.7 395.1 L942.7 395.6 L942.8 395.7 L943.1 396.0 L943.5 396.5 L943.8 396.8 L944.1 398.0 L944.4 398.6 L944.7 400.4 L945.0 400.9 L945.3 402.7 L945.6 401.9 L945.8 402.3 L946.0 405.4 L946.3 407.1 L946.5 407.7 L946.8 407.7 L947.0 411.0 L947.2 409.9 L947.5 409.9 L947.7 411.7 L948.0 410.2 L948.2 411.0 L948.4 412.2 L948.8 411.1 L949.3 414.0 L949.7 416.7 L950.1 417.2 L950.5 416.5 L950.9 417.2 L951.2 416.7 L951.5 418.2 L951.8 419.9 L952.2 419.0 L952.5 421.7 L952.8 420.4 L953.1 421.4 L953.4 423.4 L953.7 425.1 L954.0 425.3 L954.3 424.3 L954.6 424.3 L954.9 427.1 L954.9 426.6 L955.0 426.2 L955.0 423.1 L955.1 424.0 L955.1 424.1 L955.1 421.6 L955.2 420.3 L955.2 421.2 L955.3 419.0 L955.3 419.6 L955.3 420.5 L955.4 417.5 L955.4 417.3 L955.5 416.7 L955.5 416.2 L955.5 415.2 L955.6 414.4 L955.6 412.5 L955.7 411.8 L955.7 411.9 L955.7 412.3 L955.8 411.1 L955.8 411.2 L955.9 409.8 L955.9 408.0 L955.9 407.6 L956.0 407.2 L956.0 403.4 L956.1 403.7 L956.1 400.9 L956.1 402.4 L956.3 404.8 L956.4 405.2 L956.5 406.3 L956.7 406.6 L956.8 407.6 L956.9 407.2 L957.1 411.3 L957.2 411.4 L957.4 412.3 L957.5 411.7 L957.6 412.8 L957.8 412.9 L957.8 414.1 L957.9 413.8 L957.9 416.3 L958.0 415.3 L958.0 416.9 L958.1 418.0 L958.1 416.7 L958.2 419.8 L958.2 420.6 L958.3 420.3 L958.3 422.5 L958.4 422.0 L958.4 424.2 L958.5 424.7 L958.6 424.7 L958.6 427.1 L958.7 427.0 L958.7 426.9 L958.8 428.3 L958.8 429.2 L958.9 427.9 L959.0 429.5 L959.0 430.8 L959.1 433.9 L959.1 434.6 L959.2 433.4 L959.3 434.7 L959.3 435.6 L959.4 438.0 L959.4 439.0 L959.5 438.7 L959.6 438.9 L959.6 439.2 L959.8 437.9 L960.0 439.5 L960.2 444.4 L960.4 444.0 L960.7 443.4 L960.9 445.4 L961.1 447.9 L961.3 447.1 L961.5 447.3 L961.8 448.3 L962.1 446.4 L962.4 444.6 L962.7 443.1 L963.0 443.7 L963.3 442.1 L963.6 441.2 L963.8 441.3 L964.0 438.8 L964.2 436.9 L964.4 437.6 L964.6 436.7 L964.8 435.5 L965.0 434.4 L965.2 435.0 L965.5 435.2 L965.8 433.7 L966.1 432.9 L966.5 432.0 L966.8 430.7 L967.1 429.4 L967.2 430.2 L967.3 432.8 L967.5 435.8 L967.6 434.6 L967.7 434.5 L967.9 434.1 L968.0 436.6 L968.1 434.8 L968.3 435.8 L968.4 436.1 L968.5 437.3 L968.7 439.5 L968.8 440.1 L968.9 440.6 L969.1 440.0 L969.3 440.7 L969.5 438.9 L969.8 435.8 L970.0 436.3 L970.2 437.8 L970.4 435.9 L970.6 434.9 L970.7 434.3 L970.8 433.5 L971.0 432.6 L971.1 434.4 L971.3 432.3 L971.4 429.4 L971.5 429.6 L971.6 428.3 L971.7 428.2 L971.8 427.3 L971.9 425.9 L972.0 425.2 L972.1 423.9 L972.2 421.9 L972.3 422.2 L972.4 420.0 L972.5 419.6 L972.5 421.3 L972.6 421.4 L972.7 419.4 L972.8 418.8 L972.9 418.0 L973.0 416.7 L973.1 414.3 L973.2 413.4 L973.3 414.1 L973.6 412.7 L973.9 411.3 L974.2 411.7 L974.5 409.5 L974.8 409.1 L975.2 408.2 L975.5 408.8 L975.9 407.9 L976.3 409.5 L976.7 408.0 L977.0 404.8 L977.2 404.8 L977.4 402.3 L977.6 404.6 L977.9 407.4 L978.1 407.5 L978.3 409.2 L978.4 409.1 L978.5 411.3 L978.6 414.1 L978.7 413.7 L978.8 414.0 L978.9 414.3 L979.0 414.1 L979.1 416.8 L979.2 418.1 L979.3 417.7 L979.4 420.4 L979.5 420.2 L979.7 420.4 L979.9 417.5 L980.1 416.8 L980.3 415.3 L980.5 415.0 L980.8 415.1 L981.0 415.8 L981.2 415.1 L981.4 412.7 L982.0 410.7 L982.6 410.6 L982.7 410.9 L982.8 412.5 L982.9 412.9 L983.0 414.2 L983.1 415.7 L983.2 417.5 L983.2 417.1 L983.3 417.3 L983.4 417.2 L983.5 419.5 L983.6 418.1 L983.7 416.8 L983.8 422.6 L983.9 423.0 L984.2 423.7 L984.6 422.4 L985.0 426.5 L985.4 427.5 L985.7 426.1 L985.9 424.2 L986.0 425.3 L986.2 423.6 L986.3 423.3 L986.5 421.7 L986.7 422.1 L986.8 419.1 L987.0 419.1 L987.1 420.0 L987.3 417.5 L987.4 415.5 L987.6 416.0 L987.7 417.3 L987.9 416.2 L988.0 416.9 L988.1 419.3 L988.3 420.0 L988.4 419.1 L988.5 420.6 L988.7 422.6 L988.8 423.5 L988.9 424.4 L989.1 424.5 L989.2 423.3 L989.3 425.3 L989.5 427.1 L989.6 425.7 L989.8 426.0 L989.9 426.3 L990.1 425.4 L990.2 425.0 L990.4 421.1 L990.5 421.4 L990.7 419.7 L990.9 419.4 L991.0 417.8 L991.2 416.6 L991.3 417.6 L991.5 418.5 L991.7 416.6 L991.9 414.6 L992.1 415.1 L992.4 413.7 L992.6 412.6 L993.2 413.1 L993.8 410.9 L994.4 410.0 L995.4 412.3 L996.3 411.6 L996.5 409.9 L996.8 407.3 L997.0 406.7 L997.2 408.0 L997.5 406.0 L997.7 405.1 L997.9 404.5 L998.2 404.7 L998.3 408.2 L998.5 407.1 L998.6 408.7 L998.8 408.4 L998.9 409.4 L999.1 409.5 L999.2 411.5 L999.4 411.2 L999.5 414.8 L999.6 413.0 L999.7 416.2 L999.7 413.9 L999.8 412.9 L999.9 415.0 L1000.0 416.6 L1000.1 417.9 L1000.1 419.0 L1000.2 419.8 L1000.3 420.6 L1000.4 421.2 L1000.5 423.3 L1000.6 422.8 L1000.6 423.3 L1000.8 422.5 L1000.9 425.6 L1001.0 427.6 L1001.2 428.6 L1001.3 428.5 L1001.4 428.9 L1001.6 429.8 L1001.7 428.9 L1001.8 429.8 L1002.0 430.9 L1002.1 433.3 L1002.2 435.1 L1002.4 433.7 L1002.5 436.2 L1002.6 436.3 L1002.7 431.9 L1002.8 432.7 L1002.9 433.1 L1003.0 431.2 L1003.1 430.8 L1003.2 428.1 L1003.3 428.5 L1003.4 427.7 L1003.5 427.8 L1003.6 427.4 L1003.7 426.1 L1003.8 421.3 L1003.9 423.0 L1004.0 422.6 L1004.1 421.9 L1004.2 421.0 L1004.3 421.3 L1004.4 420.2 L1004.6 419.1 L1004.7 420.0 L1004.8 417.0 L1004.9 416.1 L1005.0 417.1 L1005.1 416.9 L1005.2 416.1 L1005.3 416.6 L1005.4 415.7 L1005.5 411.5 L1005.6 411.3 L1005.8 413.0 L1005.9 409.8 L1006.0 409.5 L1006.2 406.6 L1006.3 405.5 L1006.4 406.6 L1006.6 405.5 L1006.7 403.5 L1006.9 404.0 L1007.8 402.8 L1008.7 402.5 L1008.8 401.4 L1008.9 399.2 L1009.0 399.4 L1009.1 398.4 L1009.2 399.5 L1009.3 396.7 L1009.5 396.3 L1009.6 395.6 L1009.7 396.3 L1009.8 393.9 L1009.9 393.8 L1010.0 392.9 L1010.0 392.5 L1010.1 390.8 L1010.1 389.4 L1010.1 389.4 L1010.2 388.0 L1010.2 387.7 L1010.3 386.9 L1010.3 386.2 L1010.3 384.4 L1010.4 385.6 L1010.4 384.5 L1010.5 383.0 L1010.5 382.9 L1010.5 380.4 L1010.6 379.8 L1010.6 379.9 L1010.6 377.7 L1010.6 376.0 L1010.6 374.8 L1010.6 373.2 L1010.6 373.4 L1010.6 373.3 L1010.6 373.6 L1010.6 370.3 L1010.6 371.4 L1010.6 369.2 L1010.6 369.6 L1010.7 370.6 L1010.7 367.3 L1010.8 368.8 L1010.8 366.4 L1010.9 365.1 L1010.9 363.6 L1011.0 363.8 L1011.1 365.5 L1011.1 361.4 L1011.2 358.6 L1011.2 359.9 L1011.3 362.4 L1011.3 360.6 L1011.4 360.8 L1011.4 356.3 L1011.5 357.2 L1011.5 355.3 L1011.6 354.3 L1011.6 354.3 L1011.7 352.8 L1011.8 352.3 L1011.8 350.1 L1011.9 350.9 L1012.1 347.6 L1012.4 350.0 L1012.6 350.6 L1012.9 348.4 L1013.1 346.2 L1013.3 348.5 L1013.4 348.4 L1013.6 349.5 L1013.7 348.9 L1013.9 351.9 L1014.0 351.7 L1014.2 352.4 L1014.4 353.5 L1014.5 352.1 L1014.6 352.0 L1014.7 352.5 L1014.8 350.7 L1015.0 349.9 L1015.1 348.8 L1015.2 348.5 L1015.3 346.8 L1015.5 344.8 L1015.6 345.3 L1015.7 346.8 L1015.8 344.7 L1015.8 342.4 L1015.9 341.6 L1016.0 341.6 L1016.1 340.8 L1016.2 338.6 L1016.3 336.9 L1016.3 336.8 L1016.4 336.8 L1016.5 335.7 L1016.6 334.0 L1016.7 332.6 L1016.8 333.1 L1016.8 331.6 L1017.8 330.0 L1018.7 331.8 L1019.3 330.0 L1019.9 332.0 L1020.6 334.1 L1020.7 334.1 L1020.9 333.5 L1021.1 333.3 L1021.3 337.5 L1021.5 335.8 L1021.6 338.5 L1021.8 339.3 L1021.8 340.3 L1021.9 341.6 L1021.9 343.2 L1021.9 341.9 L1022.0 343.2 L1022.0 342.2 L1022.0 344.7 L1022.0 347.0 L1022.1 346.5 L1022.1 348.9 L1022.1 349.8 L1022.2 351.3 L1022.2 353.1 L1022.2 352.1 L1022.3 354.3 L1022.3 353.6 L1022.3 352.8 L1022.3 355.3 L1022.4 355.0 L1022.4 353.4 L1022.4 357.2 L1022.5 358.6 L1022.5 360.8 L1022.5 361.3 L1022.6 361.3 L1022.6 359.0 L1022.6 361.6 L1022.7 364.3 L1022.7 362.8 L1022.7 365.4 L1022.8 367.0 L1022.8 366.8 L1022.8 367.9 L1022.9 368.1 L1022.9 366.7 L1023.0 367.5 L1023.0 370.4 L1023.0 370.7 L1023.1 372.4 L1023.3 373.4 L1023.5 372.2 L1023.7 370.1 L1023.9 368.1 L1024.1 366.8 L1024.3 368.1 L1024.4 367.8 L1024.6 367.5 L1024.7 367.9 L1024.8 366.2 L1025.0 364.0 L1025.1 361.1 L1025.3 360.5 L1025.4 360.8 L1025.5 360.1 L1025.7 362.4 L1025.8 361.0 L1026.0 362.4 L1026.1 362.3 L1026.2 363.5 L1026.4 365.4 L1026.5 364.3 L1026.6 366.7 L1026.8 367.5 L1027.2 369.4 L1027.5 370.2 L1027.9 369.2 L1028.3 370.4 L1028.6 371.5 L1028.8 372.3 L1028.9 371.6 L1029.1 374.3 L1029.2 374.2 L1029.3 374.7 L1029.5 374.2 L1029.6 376.0 L1029.8 377.0 L1029.9 378.7 L1030.1 378.5 L1030.2 378.4 L1030.4 380.9 L1030.6 381.1 L1030.7 380.6 L1030.9 384.4 L1031.1 384.8 L1031.2 385.3 L1031.4 386.6 L1031.6 387.1 L1031.8 387.4 L1031.9 389.2 L1032.0 388.3 L1032.1 389.5 L1032.2 388.8 L1032.3 389.8 L1032.4 391.3 L1032.5 393.3 L1032.6 395.1 L1032.7 394.9 L1032.8 396.1 L1032.9 396.8 L1033.0 397.1 L1033.1 396.6 L1033.2 400.1 L1033.3 399.3 L1033.4 402.1 L1033.5 402.8 L1033.6 407.0 L1033.7 403.6 L1033.8 405.0 L1033.9 403.6 L1034.0 406.9 L1034.1 405.7 L1034.2 406.7 L1034.3 408.0 L1034.4 409.2 L1034.4 409.7 L1034.5 410.0 L1034.6 411.4 L1034.7 413.0 L1034.7 414.1 L1034.8 414.0 L1034.9 415.4 L1035.0 415.3 L1035.1 414.8 L1035.2 411.4 L1035.4 410.7 L1035.5 410.8 L1035.6 406.6 L1035.7 407.7 L1035.9 406.9 L1036.0 405.7 L1036.1 406.0 L1036.2 406.7 L1036.4 403.7 L1036.5 401.7 L1036.6 403.2 L1036.7 402.2 L1036.9 400.8 L1037.0 400.3 L1037.1 398.9 L1037.2 398.4 L1037.4 397.1 L1037.5 397.0 L1037.6 394.9 L1037.8 395.5 L1037.9 392.9 L1038.0 395.6 L1038.2 394.0 L1038.3 393.5 L1038.5 393.7 L1038.6 390.3 L1038.8 388.6 L1039.1 388.3 L1039.3 387.4 L1039.5 386.4 L1039.8 386.2 L1040.0 384.8 L1040.2 382.9 L1040.5 382.6 L1041.7 382.1 L1041.9 383.5 L1042.2 383.0 L1042.4 386.2 L1042.6 386.2 L1042.9 385.8 L1043.1 385.4 L1043.3 387.2 L1043.6 387.2 L1043.8 389.5 L1044.0 388.0 L1044.3 388.0 L1044.5 390.9 L1044.7 391.6 L1045.0 394.3 L1045.2 393.9 L1045.4 394.5 L1045.8 393.6 L1046.3 394.3 L1046.7 398.4 L1046.8 397.2 L1046.9 394.4 L1046.9 395.2 L1047.0 396.7 L1047.1 396.1 L1047.2 395.0 L1047.3 392.9 L1047.4 389.1 L1047.5 390.0 L1047.6 391.6 L1047.7 388.0 L1047.7 390.0 L1047.8 387.1 L1047.9 386.1 L1048.0 387.1 L1048.2 386.0 L1048.3 388.1 L1048.4 390.6 L1048.5 388.9 L1048.7 390.7 L1048.8 390.5 L1048.9 392.6 L1049.0 394.4 L1049.2 394.7 L1049.6 394.3 L1050.0 397.3 L1050.5 398.0 L1050.9 396.3 L1051.4 396.9 L1051.8 397.5 L1052.3 399.5 L1052.4 401.7 L1052.5 401.4 L1052.7 400.5 L1052.8 401.6 L1053.0 404.0 L1053.1 404.7 L1053.2 403.8 L1053.4 408.1 L1053.5 408.1 L1053.7 409.9 L1053.9 408.5 L1054.0 408.8 L1054.2 410.1 L1054.4 408.9 L1054.6 411.5 L1054.8 413.1 L1055.0 414.6 L1055.2 414.1 L1055.5 416.1 L1055.7 415.4 L1055.9 417.1 L1056.2 417.5 L1056.4 416.3 L1056.6 419.2 L1056.8 419.1 L1057.0 422.8 L1057.2 423.4 L1057.4 424.5 L1057.7 426.2 L1057.9 424.8 L1058.0 423.8 L1058.1 424.7 L1058.3 423.7 L1058.4 422.4 L1058.6 420.1 L1058.7 419.1 L1058.8 418.0 L1059.0 419.3 L1059.1 416.7 L1059.2 415.3 L1059.2 417.0 L1059.3 415.7 L1059.4 412.5 L1059.4 412.7 L1059.5 414.6 L1059.5 412.6 L1059.6 412.4 L1059.7 410.7 L1059.7 408.4 L1059.8 408.4 L1059.9 408.1 L1059.9 407.3 L1060.0 406.2 L1060.0 404.4 L1060.1 401.8 L1060.2 403.8 L1060.2 402.0 L1060.3 403.7 L1060.3 401.3 L1060.4 401.2 L1060.5 399.2 L1060.5 398.5 L1060.6 398.3 L1060.7 398.1 L1060.7 396.1 L1060.8 394.9 L1060.8 393.9 L1060.9 393.9 L1061.0 391.8 L1061.3 393.5 L1061.6 392.0 L1061.9 395.1 L1062.2 396.2 L1062.2 393.8 L1062.3 391.2 L1062.3 393.1 L1062.3 392.1 L1062.4 392.8 L1062.4 392.4 L1062.4 391.3 L1062.5 393.1 L1062.5 389.7 L1062.5 387.7 L1062.6 388.1 L1062.6 386.5 L1062.6 386.8 L1062.6 385.1 L1062.7 382.9 L1062.7 386.4 L1062.7 383.1 L1062.8 381.5 L1062.8 379.8 L1062.8 382.2 L1062.9 381.0 L1062.9 380.3 L1062.9 377.6 L1063.0 376.4 L1063.0 376.4 L1063.0 375.4 L1063.1 373.5 L1063.1 372.2 L1063.1 371.9 L1063.1 372.2 L1063.2 373.1 L1063.2 370.4 L1063.2 368.7 L1063.3 367.5 L1063.3 367.6 L1063.3 367.1 L1063.3 366.2 L1063.4 364.9 L1063.4 364.5 L1063.4 363.2 L1063.5 363.0 L1063.5 360.9 L1063.5 358.9 L1063.5 360.0 L1063.6 359.0 L1063.6 359.3 L1063.6 355.9 L1063.6 357.5 L1063.7 355.0 L1063.7 355.5 L1063.7 352.2 L1063.8 354.6 L1063.8 353.6 L1063.8 353.9 L1063.8 349.4 L1063.9 348.7 L1063.9 347.9 L1063.9 346.9 L1063.9 348.2 L1064.0 346.1 L1064.0 346.6 L1064.0 346.4 L1064.1 343.2 L1064.1 343.0 L1064.1 342.7 L1064.1 343.9 L1064.1 342.4 L1064.1 339.7 L1064.1 339.4 L1064.1 339.6 L1064.1 338.2 L1064.2 337.7 L1064.2 339.9 L1064.2 336.8 L1064.2 334.3 L1064.2 333.4 L1064.2 330.5 L1064.2 330.7 L1064.2 330.3 L1064.2 330.1 L1064.2 331.1 L1064.3 325.4 L1064.3 329.1 L1064.3 326.4 L1064.3 327.7 L1064.3 326.1 L1064.3 325.5 L1064.3 327.1 L1064.3 325.7 L1064.3 321.9 L1064.3 322.5 L1064.4 320.8 L1064.4 320.7 L1064.4 318.6 L1064.4 319.7 L1064.4 316.9 L1064.4 316.4 L1064.4 314.8 L1064.4 314.9 L1064.4 314.9 L1064.4 313.4 L1064.4 312.7 L1064.5 312.5 L1064.5 312.3 L1064.5 310.2 L1064.5 309.7 L1064.5 308.7 L1064.5 308.1 L1064.5 306.8 L1064.5 305.8 L1064.5 306.5 L1064.5 303.1 L1064.6 302.9 L1064.6 304.7 L1064.6 302.1 L1064.6 300.0 L1064.6 298.2 L1064.6 298.4 L1064.6 299.5 L1064.6 299.9 L1064.6 298.8 L1064.6 297.4 L1064.7 295.9 L1064.7 293.5 L1064.7 293.6 L1064.7 292.5 L1064.7 292.8 L1064.7 293.9 L1064.7 291.1 L1064.7 291.3 L1064.7 290.2 L1064.7 287.8 L1064.7 287.8 L1064.8 286.6 L1064.8 285.3 L1064.8 285.3 L1064.8 285.5 L1064.8 282.3 L1064.8 283.9 L1064.8 281.8 L1064.8 281.3 L1064.8 280.0 L1064.8 279.9 L1064.9 279.6 L1064.9 280.0 L1064.9 279.9 L1064.9 276.1 L1064.9 278.2 L1064.9 274.9 L1064.9 274.2 L1064.9 273.8 L1064.9 274.9 L1064.9 271.1 L1065.0 271.5 L1065.0 270.9 L1065.0 269.4 L1065.0 270.8 L1065.0 268.6 L1065.0 268.0 L1065.0 267.3 L1065.0 265.7 L1065.0 265.8 L1065.0 261.6 L1065.1 261.3 L1065.1 262.3 L1065.1 262.5 L1065.1 261.7 L1065.1 260.3 L1065.1 258.3 L1065.1 259.3 L1065.1 259.1 L1065.1 257.4 L1065.1 255.3 L1065.1 254.5 L1065.2 252.9 L1065.2 252.0 L1065.2 252.7 L1065.2 252.3 L1065.2 254.6 L1065.2 250.2 L1065.2 248.3 L1065.2 249.7 L1065.2 247.2 L1065.2 247.6 L1065.3 246.7 L1065.3 245.9 L1065.3 244.9 L1065.3 245.3 L1065.3 244.6 L1065.3 242.1 L1065.3 240.5 L1065.3 240.6 L1065.4 241.2 L1065.5 239.0 L1065.6 241.9 L1065.7 245.4 L1065.8 243.9 L1065.9 244.4 L1066.0 244.3 L1066.1 246.7 L1066.2 247.3 L1066.3 247.3 L1066.4 249.4 L1066.5 252.9 L1066.6 250.9 L1067.0 253.5 L1067.4 252.4 L1067.8 253.6 L1067.9 255.3 L1067.9 255.4 L1068.0 256.2 L1068.1 260.0 L1068.1 259.6 L1068.2 259.1 L1068.2 261.2 L1068.3 261.8 L1068.4 261.7 L1068.4 262.3 L1068.7 261.7 L1069.1 263.1 L1069.4 262.7 L1069.7 266.0 L1069.9 265.1 L1070.0 267.3 L1070.2 272.6 L1070.4 271.6 L1070.6 272.3 L1070.7 274.2 L1070.9 272.3 L1071.3 272.6 L1071.7 274.2 L1072.0 275.9 L1072.4 277.8 L1072.8 276.8 L1073.4 273.9 L1074.0 272.6 L1074.6 273.8 L1074.9 273.2 L1075.1 274.9 L1075.3 277.1 L1075.6 278.2 L1075.8 278.2 L1076.0 281.1 L1076.3 279.7 L1076.5 280.4 L1076.9 283.4 L1077.3 282.5 L1077.6 283.9 L1078.0 282.6 L1078.4 283.8 L1078.7 282.3 L1079.1 278.9 L1079.5 280.4 L1079.9 280.4 L1080.2 279.9 L1080.3 279.3 L1080.3 277.5 L1080.4 278.3 L1080.4 275.6 L1080.5 276.5 L1080.6 273.4 L1080.6 271.9 L1080.7 271.8 L1080.7 271.4 L1080.8 269.4 L1080.8 270.6 L1080.9 269.9 L1081.0 267.6 L1081.2 268.8 L1081.4 266.9 L1081.5 267.2 L1081.7 265.0 L1081.9 264.7 L1082.4 265.5 L1082.9 266.1 L1083.4 266.5 L1084.0 267.7 L1084.9 267.1 L1085.8 267.8 L1086.7 269.9 L1087.5 270.3 L1088.3 269.9 L1088.7 269.1 L1089.2 271.0 L1089.6 272.1 L1089.6 273.7 L1089.7 274.3 L1089.8 274.2 L1089.8 274.0 L1089.9 275.7 L1090.0 276.9 L1090.0 278.7 L1090.1 279.5 L1090.2 279.7 L1090.4 281.0 L1090.7 283.6 L1090.9 281.8 L1091.1 285.0 L1091.4 285.2 L1091.6 284.0 L1091.8 283.6 L1092.1 285.6 L1092.8 285.2 L1093.5 284.8 L1093.7 284.8 L1093.8 286.1 L1094.0 287.8 L1094.1 288.6 L1094.3 289.8 L1094.4 289.9 L1094.5 290.8 L1094.7 293.7 L1095.0 290.8 L1095.2 292.3 L1095.4 294.1 L1095.6 293.0 L1095.8 295.0 L1095.9 295.1 L1096.0 296.1 L1096.0 297.1 L1096.1 298.0 L1096.2 300.1 L1096.3 301.0 L1096.4 302.4 L1097.3 302.5 L1098.3 303.5 L1098.7 302.0 L1099.2 301.2 L1099.7 300.3 L1100.1 299.8 L1100.8 301.3 L1101.4 301.9 L1101.5 303.8 L1101.6 306.3 L1101.7 306.3 L1101.9 306.3 L1102.0 305.1 L1102.1 306.5 L1102.2 306.7 L1102.4 306.4 L1102.5 307.7 L1102.6 310.5 L1102.8 309.4 L1103.0 309.2 L1103.2 308.7 L1103.3 307.8 L1103.5 305.4 L1103.7 304.1 L1103.9 304.5 L1104.1 304.6 L1104.3 303.9 L1104.5 300.8 L1104.7 298.8 L1104.9 297.4 L1105.1 299.7 L1105.2 298.1 L1105.4 298.2 L1105.5 298.1 L1105.7 296.6 L1105.8 295.8 L1105.9 294.3 L1106.1 293.3 L1106.2 291.5 L1106.3 292.1 L1106.5 291.0 L1106.7 292.0 L1106.9 290.4 L1107.1 289.6 L1107.2 288.5 L1107.4 288.2 L1107.6 288.8 L1107.8 287.8 L1108.0 285.3 L1108.1 285.3 L1108.1 284.8 L1108.2 285.7 L1108.3 287.6 L1108.4 288.1 L1108.5 288.9 L1108.6 290.9 L1108.7 291.6 L1108.7 293.4 L1108.8 293.3 L1109.2 294.9 L1109.7 293.2 L1110.1 295.7 L1110.2 296.5 L1110.3 299.1 L1110.5 300.3 L1110.6 299.0 L1110.7 302.0 L1110.8 301.1 L1110.9 300.1 L1111.1 302.4 L1111.2 303.5 L1111.3 305.4 L1111.7 307.7 L1112.1 306.7 L1112.4 305.2 L1112.8 309.1 L1113.2 308.7 L1113.2 309.1 L1113.3 308.7 L1113.3 310.5 L1113.3 311.4 L1113.4 311.1 L1113.4 314.3 L1113.4 311.7 L1113.5 315.3 L1113.5 316.1 L1113.6 319.0 L1113.6 317.0 L1113.6 316.6 L1113.7 320.9 L1113.7 320.1 L1113.7 321.7 L1113.8 324.1 L1113.8 322.7 L1113.8 324.5 L1113.9 325.3 L1113.9 325.6 L1113.9 327.3 L1114.0 325.8 L1114.0 326.7 L1114.0 327.1 L1114.1 330.1 L1114.1 329.1 L1114.1 329.9 L1114.2 329.7 L1114.2 331.5 L1114.2 334.5 L1114.3 333.0 L1114.3 333.9 L1114.3 335.8 L1114.4 335.3 L1114.4 333.8 L1114.4 336.9 L1114.4 338.2 L1114.4 340.4 L1114.4 343.3 L1114.4 342.6 L1114.4 344.5 L1114.4 344.5 L1114.4 344.3 L1114.4 344.7 L1114.4 345.1 L1114.4 344.2 L1114.4 344.8 L1114.4 346.5 L1114.4 348.2 L1114.4 349.5 L1114.4 348.3 L1114.4 349.7 L1114.5 350.3 L1114.5 352.7 L1114.5 352.9 L1114.5 354.5 L1114.5 353.9 L1114.5 354.3 L1114.5 357.6 L1114.5 357.0 L1114.5 357.4 L1114.5 358.0 L1114.5 360.1 L1114.5 361.7 L1114.5 361.8 L1114.5 362.4 L1114.5 362.7 L1114.5 363.7 L1114.5 365.0 L1114.5 363.4 L1114.5 364.8 L1114.5 365.9 L1114.5 367.1 L1114.5 366.9 L1114.5 367.7 L1114.5 370.4 L1114.5 370.3 L1114.5 369.9 L1114.5 372.6 L1114.5 374.1 L1114.5 375.9 L1114.5 374.7 L1114.5 373.7 L1114.5 377.5 L1114.5 378.3 L1114.5 378.1 L1114.5 376.4 L1114.5 378.5 L1114.5 379.8 L1114.5 380.5 L1114.5 382.5 L1114.5 382.5 L1114.5 384.4 L1114.5 384.0 L1114.5 384.9 L1114.5 385.1 L1114.5 385.9 L1114.5 388.9 L1114.5 387.4 L1114.5 389.6 L1114.5 390.7 L1114.5 390.7 L1114.5 391.0 L1114.5 392.9 L1114.5 392.6 L1114.5 393.8 L1114.5 395.2 L1114.5 395.3 L1114.5 394.4 L1114.5 396.2 L1114.5 396.9 L1114.5 397.7 L1114.5 398.6 L1114.5 397.0 L1114.5 399.3 L1114.5 402.4 L1114.5 401.1 L1114.5 402.4 L1114.5 402.5 L1114.5 403.1 L1114.5 406.1 L1114.5 405.7 L1114.5 406.6 L1114.5 408.3 L1114.5 410.3 L1114.5 410.0 L1114.5 412.1 L1114.5 412.6 L1114.5 411.1 L1114.5 415.3 L1114.6 415.2 L1114.6 414.3 L1114.6 417.1 L1114.6 416.6 L1114.6 415.1 L1114.6 418.8 L1114.6 418.8 L1114.6 419.2 L1114.6 421.0 L1114.6 421.7 L1114.6 422.2 L1114.6 425.5 L1114.6 427.5 L1114.6 425.3 L1114.6 423.5 L1114.6 424.7 L1114.6 429.0 L1114.6 426.5 L1114.6 428.7 L1114.6 430.7 L1114.6 431.1 L1114.6 433.5 L1114.6 434.8 L1114.6 434.1 L1114.6 435.4 L1114.6 435.4 L1114.6 437.0 L1114.6 437.7 L1114.6 435.9 L1114.6 437.4 L1114.6 438.7 L1114.6 439.5 L1114.6 440.7 L1114.6 441.8 L1114.6 441.8 L1114.6 443.5 L1114.6 440.3 L1114.6 441.9 L1114.6 442.7 L1114.6 445.3 L1114.6 442.4 L1114.6 443.7 L1114.6 442.5 L1114.6 440.0 L1114.7 439.1 L1114.7 441.3 L1114.7 441.1 L1114.7 439.7 L1114.7 437.8 L1114.7 436.6 L1114.7 438.3 L1114.7 437.2 L1114.7 436.7 L1114.7 434.1 L1114.8 433.9 L1114.8 431.1 L1114.8 429.4 L1114.8 431.8 L1114.8 429.6 L1114.8 430.9 L1114.8 431.7 L1114.8 428.7 L1114.8 427.6 L1114.9 425.6 L1114.9 424.1 L1114.9 426.2 L1114.9 423.9 L1114.9 423.3 L1114.9 421.0 L1114.9 422.0 L1114.9 421.4 L1114.9 420.9 L1114.9 418.3 L1115.0 416.8 L1115.0 417.1 L1115.0 415.9 L1115.0 414.8 L1115.0 414.5 L1115.0 416.8 L1115.0 415.4 L1115.0 415.4 L1115.0 412.3 L1115.0 410.9 L1115.1 410.2 L1115.1 411.8 L1115.1 409.8 L1115.1 407.0 L1115.1 405.4 L1115.1 404.8 L1115.1 403.5 L1115.1 403.2 L1115.1 401.8 L1115.2 402.4 L1115.2 402.5 L1115.2 400.2 L1115.2 400.6 L1115.2 402.1 L1115.2 400.2 L1115.2 399.3 L1115.2 397.1 L1115.2 397.7 L1115.2 397.1 L1115.3 397.3 L1115.3 395.3 L1115.3 392.4 L1115.3 391.9 L1115.3 392.5 L1115.3 391.6 L1115.3 390.1 L1115.3 391.3 L1115.3 389.5 L1115.4 388.4 L1115.4 386.4 L1115.4 384.2 L1115.4 386.5 L1115.4 385.9 L1115.4 385.3 L1115.4 383.3 L1115.4 380.7 L1115.4 381.7 L1115.4 381.6 L1115.5 380.6 L1115.5 378.5 L1115.5 379.2 L1115.5 377.0 L1115.6 373.8 L1115.7 375.3 L1115.8 373.4 L1115.9 374.5 L1116.0 374.1 L1116.1 372.3 L1116.3 371.7 L1116.4 371.9 L1116.5 371.3 L1116.6 369.2 L1116.7 367.7 L1116.8 368.7 L1116.9 367.2 L1117.0 368.3 L1117.1 365.8 L1117.2 366.5 L1117.4 364.1 L1118.0 362.9 L1118.6 362.1 L1119.2 360.7 L1119.4 360.8 L1119.6 357.7 L1119.7 359.6 L1119.9 358.1 L1120.1 356.2 L1120.2 353.3 L1120.4 355.7 L1120.6 354.3 L1120.7 353.4 L1120.9 352.4 L1121.1 352.5 L1121.4 351.7 L1121.8 352.5 L1122.1 350.2 L1122.5 352.6 L1122.9 348.4 L1123.2 347.4 L1123.6 346.6 L1123.9 345.8 L1124.3 344.9 L1124.6 343.3 L1125.0 343.2 L1125.3 342.9 L1125.7 340.5 L1126.1 341.7 L1126.2 340.4 L1126.3 341.2 L1126.5 340.3 L1126.6 338.7 L1126.7 336.4 L1126.9 337.3 L1127.0 337.4 L1127.1 336.8 L1127.3 336.7 L1127.4 334.3 L1127.5 332.7 L1127.7 333.0 L1127.8 331.1 L1127.9 331.1 L1128.5 329.7 L1129.2 329.9 L1129.3 327.7 L1129.5 326.3 L1129.6 326.9 L1129.7 325.5 L1129.9 326.7 L1130.0 325.5 L1130.2 323.6 L1130.3 323.4 L1130.5 321.2 L1130.6 321.3 L1130.8 320.6 L1130.8 320.7 L1130.9 321.9 L1130.9 323.4 L1131.0 325.1 L1131.0 326.4 L1131.1 328.1 L1131.1 329.9 L1131.2 331.0 L1131.2 332.3 L1131.3 331.0 L1131.3 329.4 L1131.4 329.3 L1131.4 331.5 L1131.5 331.9 L1131.5 333.9 L1131.6 333.6 L1131.6 335.6 L1131.6 336.0 L1131.7 335.2 L1131.7 339.7 L1131.7 336.9 L1131.7 338.3 L1131.8 341.1 L1131.8 340.7 L1131.8 342.0 L1131.8 342.6 L1131.8 342.9 L1131.9 343.3 L1131.9 346.9 L1131.9 347.5 L1131.9 346.8 L1132.0 349.0 L1132.0 347.9 L1132.0 349.9 L1132.0 349.1 L1132.0 350.5 L1132.1 349.3 L1132.1 348.6 L1132.1 349.3 L1132.1 352.8 L1132.2 355.5 L1132.2 355.9 L1132.2 356.5 L1132.2 355.2 L1132.2 357.4 L1132.3 359.0 L1132.4 357.4 L1132.4 355.2 L1132.5 354.3 L1132.6 354.9 L1132.7 353.9 L1132.8 356.0 L1132.9 355.2 L1133.0 353.6 L1133.1 352.8 L1133.2 350.9 L1133.2 348.8 L1133.3 348.4 L1133.4 347.6 L1133.5 347.2 L1133.9 346.6 L1134.3 345.6 L1134.8 344.7 L1134.9 347.1 L1135.0 346.9 L1135.2 348.2 L1135.3 347.8 L1135.4 351.3 L1135.6 350.1 L1135.7 352.5 L1135.9 351.6 L1136.0 352.6 L1136.1 352.4 L1136.2 353.4 L1136.3 354.0 L1136.4 355.7 L1136.5 357.4 L1136.6 359.9 L1136.7 358.1 L1136.8 360.7 L1136.9 362.1 L1137.0 360.4 L1137.1 361.1 L1137.2 362.2 L1137.4 363.4 L1137.5 364.2 L1137.7 362.5 L1137.8 367.5 L1137.9 368.6 L1138.1 367.1 L1138.2 368.4 L1138.3 369.3 L1138.5 370.0 L1138.7 371.2 L1138.9 369.6 L1139.1 371.5 L1139.3 372.5 L1139.5 374.7 L1139.7 374.5 L1140.1 374.4 L1140.5 371.5 L1140.8 372.3 L1141.2 373.2 L1141.6 370.6 L1142.2 369.7 L1142.8 369.5 L1142.9 369.5 L1142.9 371.8 L1142.9 372.2 L1143.0 374.8 L1143.0 374.5 L1143.0 375.5 L1143.0 376.4 L1143.1 376.7 L1143.1 376.7 L1143.1 377.8 L1143.2 379.7 L1143.2 381.3 L1143.2 379.6 L1143.3 380.9 L1143.3 383.0 L1143.3 385.3 L1143.3 383.8 L1143.4 384.9 L1143.4 385.8 L1143.4 386.4 L1143.5 387.0 L1144.4 385.6 L1145.3 385.5 L1145.6 386.0 L1145.9 384.4 L1146.3 385.1 L1146.6 381.4 L1146.9 381.8 L1147.2 381.2 L1147.6 379.4 L1147.9 379.9 L1148.3 383.7 L1148.7 383.4 L1149.1 384.5 L1149.3 384.8 L1149.5 386.1 L1149.8 388.2 L1150.0 388.2 L1150.2 388.3 L1150.5 387.8 L1150.7 388.8 L1150.9 390.8 L1151.2 392.8 L1151.5 395.9 L1151.8 395.6 L1152.2 397.4 L1152.5 395.3 L1152.8 396.0 L1153.4 397.9 L1154.0 396.4 L1154.6 398.5 L1155.3 399.5 L1155.9 399.2 L1156.5 400.1 L1156.6 398.1 L1156.7 398.7 L1156.7 399.5 L1156.8 398.3 L1156.9 396.8 L1157.0 396.3 L1157.1 396.1 L1157.1 395.6 L1157.2 393.3 L1157.3 392.0 L1157.4 392.1 L1157.4 391.7 L1157.5 389.9 L1157.6 387.8 L1157.7 387.0 L1157.8 386.6 L1157.9 386.1 L1158.0 385.6 L1158.2 383.9 L1158.3 381.4 L1158.4 383.5 L1158.6 384.4 L1158.7 381.2 L1158.9 379.5 L1159.0 379.6 L1159.2 379.6 L1159.4 379.6 L1159.6 377.5 L1159.8 373.8 L1160.0 375.2 L1160.2 375.2 L1160.4 375.1 L1160.7 374.5 L1160.9 372.2 L1161.1 373.2 L1161.3 372.7 L1161.5 370.7 L1161.6 369.0 L1161.7 368.7 L1161.8 366.2 L1161.8 366.4 L1161.9 365.6 L1162.0 365.6 L1162.1 362.3 L1162.2 362.2 L1162.3 363.8 L1162.4 363.0 L1162.5 362.1 L1162.5 359.6 L1162.6 358.2 L1162.7 358.8 L1162.9 357.7 L1163.0 358.1 L1163.2 357.4 L1163.3 356.0 L1163.5 353.9 L1163.7 355.5 L1163.8 353.6 L1164.0 352.5 L1164.2 352.9 L1164.5 354.0 L1164.8 354.2 L1165.0 355.9 L1165.3 357.1 L1165.6 356.2 L1165.8 357.5 L1166.1 359.2 L1166.4 359.9 L1166.7 359.7 L1167.0 361.6 L1167.3 361.6 L1167.6 360.8 L1167.8 360.1 L1168.0 358.7 L1168.3 358.0 L1168.5 358.3 L1168.7 357.0 L1168.9 356.1 L1169.9 355.3 L1170.8 356.4 L1171.1 355.5 L1171.4 357.6 L1171.7 359.3 L1172.1 360.7 L1172.1 359.0 L1172.2 362.3 L1172.3 362.5 L1172.3 364.8 L1172.4 364.6 L1172.4 364.4 L1172.5 367.9 L1172.6 364.7 L1172.6 366.8 L1172.7 366.8 L1172.8 369.3 L1172.8 369.2 L1172.9 370.5 L1173.0 371.6 L1173.0 373.1 L1173.2 369.3 L1173.3 372.1 L1173.4 371.4 L1173.5 369.1 L1173.6 369.1 L1173.7 368.3 L1173.8 367.3 L1174.0 366.2 L1174.1 364.0 L1174.2 366.6 L1174.3 364.6 L1174.4 366.2 L1174.5 362.6 L1174.6 361.1 L1174.6 361.1 L1174.7 362.3 L1174.7 360.6 L1174.7 358.2 L1174.8 358.0 L1174.8 360.2 L1174.9 356.0 L1174.9 355.9 L1175.0 355.0 L1175.0 353.9 L1175.0 353.9 L1175.1 352.9 L1175.1 351.6 L1175.2 349.9 L1175.2 350.4 L1175.3 348.3 L1175.4 345.3 L1175.5 347.2 L1175.5 347.4 L1175.6 343.9 L1175.7 341.2 L1175.8 341.8 L1175.9 341.7 L1175.9 341.2 L1176.0 340.3 L1176.1 340.8 L1176.2 338.5 L1176.2 337.2 L1176.3 335.9 L1176.4 336.9 L1177.3 335.1 L1178.3 335.8 L1178.4 335.9 L1178.6 337.7 L1178.8 340.0 L1179.0 339.0 L1179.2 340.4 L1179.3 341.0 L1179.5 341.6 L1179.7 342.8 L1180.0 341.6 L1180.2 341.8 L1180.4 343.3 L1180.7 344.4 L1180.9 347.3 L1181.1 348.4 L1181.4 348.1 L1181.5 346.9 L1181.6 346.5 L1181.6 346.2 L1181.7 344.9 L1181.8 345.3 L1181.9 343.6 L1182.0 343.8 L1182.1 342.6 L1182.2 339.8 L1182.3 338.2 L1182.4 340.3 L1182.4 338.3 L1182.5 336.1 L1182.6 337.3 L1182.8 335.2 L1183.0 336.7 L1183.2 334.7 L1183.4 334.3 L1183.7 332.7 L1183.9 330.0 L1184.1 328.4 L1184.3 327.6 L1184.5 330.1 L1184.9 329.5 L1185.3 326.3 L1185.7 327.4 L1185.8 325.7 L1186.0 321.6 L1186.1 325.0 L1186.2 325.0 L1186.3 322.9 L1186.4 323.6 L1186.5 322.1 L1186.6 320.2 L1186.7 318.3 L1186.9 318.7 L1187.0 317.8 L1187.1 318.4 L1187.2 318.3 L1187.3 318.1 L1187.4 321.7 L1187.5 319.7 L1187.6 323.6 L1187.7 323.4 L1187.8 324.8 L1187.9 322.8 L1188.0 326.1 L1188.2 327.5 L1188.4 327.9 L1188.6 329.4 L1188.8 330.5 L1189.0 329.9 L1189.2 333.2 L1189.5 331.4 L1189.7 330.0 L1189.9 328.2 L1190.1 329.7 L1190.3 328.5 L1190.5 326.1 L1190.7 326.5" fill="none" stroke="#0064b4" stroke-width="3.2" stroke-linejoin="round" stroke-linecap="butt"/>
<path d="M637.5 409.7 L637.6 409.1 L637.7 411.3 L637.8 413.3 L637.9 412.7 L638.0 412.1 L638.1 413.9 L638.2 415.7 L638.3 417.6 L638.4 416.0 L638.5 415.9 L638.6 418.7 L638.7 420.0 L638.8 422.2 L638.9 422.9 L639.0 422.3 L639.1 422.4 L639.2 426.4 L639.3 424.9 L639.4 424.3 L639.5 424.2 L639.6 426.1 L639.7 427.4 L639.8 427.8 L639.9 428.9 L640.1 428.4 L640.3 428.3 L640.4 428.2 L640.6 426.6 L640.8 423.0 L640.9 424.3 L641.1 421.6 L641.3 421.7 L641.4 419.6 L641.6 420.1 L641.7 418.8 L641.9 419.0 L642.1 422.3 L642.2 418.9 L642.4 418.2 L642.6 414.8 L642.7 414.4 L642.9 414.8 L643.1 413.5 L643.3 413.1 L643.5 412.1 L643.7 410.0 L644.0 410.6 L644.2 408.6 L644.4 410.6 L644.7 407.9 L644.9 407.9 L645.2 406.5 L645.5 406.5 L645.7 404.2 L646.0 404.7 L646.3 403.0 L646.5 403.5 L646.8 401.4 L646.9 402.5 L647.0 402.1 L647.0 404.4 L647.1 405.4 L647.2 407.7 L647.3 406.7 L647.4 407.5 L648.0 408.7 L648.6 408.7 L649.4 408.5 L650.2 407.9 L651.0 406.5 L651.8 406.2 L652.5 406.0 L653.3 407.6 L654.1 409.5 L654.9 408.4 L655.0 410.6 L655.2 411.1 L655.4 411.7 L655.6 411.8 L655.8 413.0 L655.9 415.2 L656.1 413.6 L656.2 413.6 L656.3 417.2 L656.4 417.0 L656.4 418.3 L656.5 419.2 L656.6 417.6 L656.7 421.9 L656.8 423.1 L656.9 422.2 L656.9 423.1 L657.0 423.2 L657.1 423.2 L657.3 422.2 L657.5 422.1 L657.7 422.5 L657.9 421.6 L658.1 420.0 L658.3 420.5 L658.4 417.6 L658.6 417.9 L658.8 417.9 L659.0 415.7 L659.2 414.1 L659.8 412.0 L660.5 412.7 L661.0 414.1 L661.5 416.4 L662.0 414.6 L662.4 415.6 L662.9 416.8 L663.4 417.4 L663.8 415.2 L664.2 418.7 L664.6 422.2 L665.0 422.4 L665.4 420.8 L665.9 421.1 L666.4 422.5 L666.8 426.3 L667.3 424.6 L667.5 424.0 L667.8 424.6 L668.0 422.3 L668.2 423.4 L668.5 420.2 L668.7 418.8 L668.9 419.3 L669.2 418.4 L670.1 419.3 L671.0 418.1 L671.2 416.7 L671.3 417.9 L671.4 418.9 L671.6 419.9 L671.7 422.1 L671.9 422.3 L672.0 424.2 L672.1 424.6 L672.3 424.7 L672.4 425.8 L672.5 427.1 L672.7 428.6 L672.8 428.0 L673.0 428.6 L673.1 428.0 L673.2 431.8 L673.4 433.5 L673.5 432.3 L673.6 430.9 L673.8 428.8 L673.9 429.3 L674.0 428.9 L674.1 430.6 L674.3 428.4 L674.4 425.8 L674.5 422.4 L674.6 425.2 L674.8 424.3 L674.9 421.2 L675.0 421.8 L675.1 419.3 L675.3 424.0 L675.4 420.4 L675.5 420.4 L675.6 418.4 L675.7 414.7 L675.8 415.4 L675.9 413.3 L676.0 414.6 L676.1 411.3 L676.2 411.0 L676.3 413.0 L676.4 413.6 L676.5 409.9 L676.6 409.1 L676.8 409.3 L677.0 409.3 L677.1 406.6 L677.3 405.5 L677.5 404.6 L677.6 403.1 L677.8 402.7 L678.0 404.4 L678.1 403.8 L678.3 404.7 L678.5 401.3 L678.7 402.0 L678.9 401.6 L679.1 403.0 L679.3 402.6 L679.5 402.4 L679.7 406.0 L680.0 406.9 L680.3 405.9 L680.6 405.7 L680.8 403.7 L681.1 401.4 L681.4 401.0 L681.7 399.7 L681.9 397.9 L682.2 397.8 L683.0 395.5 L683.7 396.9 L684.5 397.3 L685.2 396.4 L685.9 397.1 L686.4 396.7 L686.9 396.1 L687.4 396.2 L687.9 393.3 L688.4 392.2 L688.6 393.8 L688.8 393.7 L689.0 396.6 L689.1 397.0 L689.3 398.4 L689.5 399.2 L689.7 397.9 L689.9 399.5 L690.1 399.3 L690.4 399.7 L690.6 400.7 L690.8 403.0 L691.1 404.5 L691.3 405.6 L691.5 404.3 L691.7 404.4 L691.8 403.2 L691.9 406.1 L692.0 408.5 L692.2 408.3 L692.3 410.0 L692.4 411.1 L692.5 413.0 L692.7 412.1 L692.8 413.1 L692.9 412.9 L693.0 416.7 L693.0 417.8 L693.1 417.2 L693.2 418.0 L693.3 418.7 L693.4 419.5 L693.5 419.9 L693.5 420.4 L693.6 420.0 L693.7 421.1 L693.8 424.8 L693.9 425.3 L694.0 425.4 L694.1 425.7 L694.1 426.6 L694.2 427.8 L694.3 427.6 L694.4 429.0 L694.5 430.1 L694.6 429.9 L694.6 431.1 L694.7 429.1 L694.8 428.0 L694.9 429.5 L695.0 425.6 L695.1 426.2 L695.2 425.5 L695.3 424.7 L695.4 424.8 L695.4 425.5 L695.5 424.0 L695.6 422.7 L695.7 421.2 L695.8 420.7 L695.9 421.2 L696.0 419.4 L696.1 417.3 L696.2 415.9 L696.2 415.1 L696.3 413.9 L696.4 416.0 L696.5 414.9 L696.6 413.8 L696.7 414.8 L696.8 412.1 L696.9 412.3 L697.0 411.9 L697.1 408.4 L697.2 406.7 L697.3 406.3 L697.4 407.8 L697.4 408.3 L697.5 404.9 L697.6 406.0 L697.7 404.1 L697.8 402.9 L697.9 401.7 L698.0 401.1 L698.1 398.5 L698.2 398.1 L698.3 397.1 L698.4 398.5 L698.7 401.9 L699.0 404.5 L699.3 402.4 L699.6 401.8 L699.8 402.0 L699.9 402.4 L700.0 406.6 L700.2 406.9 L700.3 406.0 L700.4 408.2 L700.6 409.1 L700.7 407.3 L700.9 409.4 L701.1 409.8 L701.3 411.1 L701.6 412.1 L701.8 412.5 L702.0 413.7 L702.3 413.7 L702.5 413.9 L702.7 416.4 L703.0 417.7 L703.3 418.4 L703.7 416.8 L704.0 418.5 L704.3 420.8 L704.6 420.5 L704.7 422.6 L704.8 422.4 L705.0 423.8 L705.1 424.1 L705.2 425.2 L705.3 427.3 L705.5 426.6 L705.6 429.3 L705.7 427.9 L705.8 428.6 L706.5 428.6 L707.1 426.3 L707.7 425.8 L708.3 426.1 L708.6 426.8 L708.8 422.8 L709.0 423.6 L709.3 425.1 L709.5 424.2 L709.7 421.7 L710.0 419.9 L710.2 419.5 L710.4 417.3 L710.6 417.1 L710.8 416.7 L711.0 416.0 L711.2 416.8 L711.4 414.9 L711.6 412.2 L711.8 413.7 L712.1 411.9 L712.3 410.5 L712.5 410.1 L712.7 409.1 L712.9 407.5 L713.1 407.3 L713.3 407.9 L713.6 408.3 L713.9 409.0 L714.2 411.3 L714.5 411.4 L714.6 411.6 L714.7 410.9 L714.8 406.7 L714.8 406.1 L714.9 406.5 L715.0 406.6 L715.0 407.0 L715.1 405.7 L715.2 403.9 L715.3 403.0 L715.3 401.9 L715.4 401.5 L715.5 401.4 L715.6 399.6 L715.6 397.9 L715.7 396.7 L715.8 397.5 L715.9 398.3 L715.9 397.5 L716.0 396.6 L716.1 395.7 L716.1 393.8 L716.2 393.5 L716.3 390.7 L716.4 390.3 L716.4 389.0 L716.5 389.7 L716.6 387.9 L716.7 387.3 L716.7 387.2 L716.8 387.8 L716.9 384.9 L717.0 383.2 L717.0 383.8 L717.2 383.4 L717.5 385.5 L717.7 385.7 L717.9 386.8 L718.1 385.8 L718.3 389.0 L718.5 389.7 L718.8 387.7 L719.1 390.2 L719.3 388.9 L719.6 391.3 L719.9 387.8 L720.1 385.0 L720.4 384.3 L720.6 385.3 L720.8 383.2 L721.1 382.5 L721.3 381.9 L721.5 379.4 L721.8 379.3 L722.0 378.5 L722.9 376.3 L723.9 377.5 L724.2 379.1 L724.5 379.3 L724.8 378.7 L725.2 377.7 L725.5 381.0 L725.5 381.7 L725.6 380.7 L725.6 382.8 L725.7 382.3 L725.7 384.5 L725.8 386.0 L725.8 387.3 L725.9 388.2 L725.9 388.9 L726.0 388.2 L726.0 389.4 L726.1 390.2 L726.1 391.3 L726.2 392.8 L726.2 394.3 L726.3 396.6 L726.3 392.9 L726.3 396.0 L726.5 396.6 L726.7 400.4 L726.9 400.7 L727.1 398.3 L727.2 400.5 L727.4 400.8 L727.6 402.6 L727.8 400.6 L728.1 400.3 L728.3 399.6 L728.5 398.9 L728.8 397.6 L729.0 395.1 L729.2 396.5 L729.5 396.4 L729.7 397.1 L729.9 396.5 L730.2 398.2 L730.4 399.8 L730.6 399.9 L730.9 400.7 L731.1 403.2 L731.3 402.0 L731.5 402.2 L731.7 401.4 L731.9 403.2 L732.0 404.3 L732.2 405.0 L732.4 406.2 L732.6 409.0 L732.6 408.0 L732.6 406.8 L732.6 408.7 L732.6 406.1 L732.7 402.6 L732.7 403.4 L732.7 401.6 L732.7 403.5 L732.7 400.2 L732.8 399.3 L732.8 397.2 L732.8 398.0 L732.8 396.4 L732.8 396.5 L732.9 395.6 L732.9 394.5 L732.9 395.4 L732.9 395.2 L732.9 393.5 L733.0 391.3 L733.0 389.8 L733.0 390.3 L733.0 392.5 L733.0 389.3 L733.0 387.3 L733.1 386.2 L733.1 384.8 L733.1 383.9 L733.1 384.0 L733.1 385.4 L733.2 383.7 L733.2 382.2 L733.3 381.1 L733.3 383.6 L733.4 384.7 L733.5 384.2 L733.5 384.7 L733.6 386.7 L733.7 389.2 L733.7 390.1 L733.8 390.5 L733.9 390.5 L733.9 391.8 L734.0 392.4 L734.1 395.8 L734.2 393.5 L734.2 394.2 L734.3 397.0 L734.4 396.6 L734.4 397.8 L734.5 398.7 L734.5 399.3 L734.6 399.5 L734.7 398.8 L734.7 399.7 L734.8 404.3 L734.8 404.6 L734.9 405.2 L735.0 406.3 L735.0 406.8 L735.1 408.1 L735.1 407.5 L735.2 407.9 L735.3 410.0 L735.3 409.7 L735.4 408.9 L735.4 410.6 L735.5 411.3 L735.6 413.4 L735.6 413.1 L735.7 414.2 L735.8 414.6 L735.9 417.9 L736.0 417.7 L736.1 418.4 L736.2 419.0 L736.3 420.1 L736.4 421.8 L736.5 423.4 L736.6 420.9 L736.7 424.2 L736.8 424.2 L736.9 424.4 L737.0 428.3 L737.1 427.1 L737.2 427.9 L737.3 428.4 L737.5 425.0 L737.6 425.2 L737.8 425.0 L737.9 423.4 L738.0 419.7 L738.2 420.2 L738.3 420.1 L738.5 418.4 L738.6 420.9 L738.8 418.5 L739.4 417.2 L740.0 416.3 L740.6 415.6 L740.8 413.8 L741.0 413.9 L741.1 413.7 L741.3 412.1 L741.4 411.5 L741.6 409.2 L741.7 410.1 L741.9 408.4 L742.0 408.4 L742.2 406.5 L742.4 405.8 L742.5 406.0 L742.9 405.3 L743.3 409.9 L743.6 409.0 L744.0 409.2 L744.4 409.5 L744.4 412.2 L744.4 413.6 L744.5 413.4 L744.5 411.8 L744.5 412.8 L744.5 415.1 L744.6 415.0 L744.6 414.8 L744.6 415.2 L744.6 416.4 L744.7 418.3 L744.7 418.7 L744.7 420.2 L744.7 424.6 L744.8 425.4 L744.8 422.9 L744.8 424.2 L744.8 424.9 L744.9 425.4 L744.9 427.5 L744.9 427.2 L744.9 427.6 L745.0 428.2 L745.0 429.5 L745.1 431.9 L745.1 432.7 L745.2 431.0 L745.2 432.0 L745.3 432.5 L745.4 435.1 L745.4 435.9 L745.5 437.5 L745.5 437.4 L745.6 435.7 L745.6 438.5 L745.7 439.8 L745.8 441.1 L745.8 439.9 L745.9 441.7 L745.9 441.9 L746.0 442.6 L746.1 444.6 L746.1 445.8 L746.2 445.3 L746.2 446.3 L746.9 444.1 L747.5 446.7 L748.1 449.7 L748.2 450.5 L748.2 448.6 L748.3 450.1 L748.4 452.8 L748.4 455.8 L748.5 456.8 L748.6 456.7 L748.6 457.1 L748.7 457.0 L749.3 455.8 L749.9 455.3 L750.6 454.3 L751.2 454.7 L751.3 455.0 L751.5 456.6 L751.6 459.0 L751.8 459.6 L751.9 459.9 L752.0 459.8 L752.2 458.7 L752.3 460.5 L752.5 462.5 L752.6 461.9 L752.8 464.9 L752.9 464.6 L753.1 465.5 L753.2 464.3 L753.4 462.2 L753.5 464.9 L753.7 461.4 L753.8 462.1 L754.0 460.1 L754.1 459.9 L754.3 458.0 L754.5 457.2 L754.6 458.0 L754.8 459.0 L754.9 455.5 L755.1 454.7 L755.2 455.1 L755.4 452.8 L755.5 452.5 L755.7 452.4 L755.9 454.4 L756.0 455.4 L756.2 457.2 L756.4 457.3 L756.6 456.0 L756.7 458.3 L756.9 457.5 L757.1 459.9 L757.2 462.2 L757.4 461.4 L757.5 461.7 L757.7 464.1 L757.8 464.3 L757.9 463.3 L758.0 464.5 L758.2 467.6 L758.3 467.2 L758.4 468.2 L758.5 468.5 L758.6 469.1 L759.3 469.2 L759.9 471.3 L760.5 472.3 L761.1 471.3 L761.8 468.0 L762.4 469.9 L762.4 471.6 L762.5 472.9 L762.5 474.2 L762.6 473.1 L762.6 473.1 L762.6 474.7 L762.7 477.4 L762.7 474.8 L762.8 476.2 L762.8 476.6 L762.9 478.8 L762.9 481.2 L763.0 480.4 L763.0 480.5 L763.0 479.7 L763.0 478.8 L763.0 476.5 L763.0 478.0 L763.1 476.4 L763.1 476.7 L763.1 473.9 L763.1 475.3 L763.1 472.2 L763.1 473.6 L763.1 470.1 L763.1 472.2 L763.2 470.3 L763.2 467.7 L763.2 467.8 L763.2 468.1 L763.2 466.0 L763.2 465.4 L763.2 465.5 L763.2 464.5 L763.3 460.2 L763.3 461.3 L763.3 462.2 L763.3 461.8 L763.3 462.0 L763.3 459.5 L763.3 462.0 L763.3 460.3 L763.4 458.6 L763.4 458.4 L763.4 457.6 L763.4 455.8 L763.4 453.8 L763.4 454.5 L763.4 453.5 L763.4 449.9 L763.5 449.0 L763.5 450.1 L763.5 449.5 L763.5 449.0 L763.5 448.7 L763.5 447.5 L763.5 448.2 L763.5 445.4 L763.6 444.1 L763.6 444.0 L763.6 443.9 L763.6 443.4 L763.6 443.6 L763.6 440.6 L763.7 442.8 L763.8 443.2 L763.8 442.1 L763.9 443.3 L763.9 446.9 L764.0 447.2 L764.1 446.3 L764.1 444.2 L764.2 446.0 L764.3 447.2 L764.3 449.1 L764.4 452.9 L764.5 453.0 L764.5 453.0 L764.6 452.0 L764.7 451.9 L764.7 453.6 L764.8 454.4 L764.9 457.0 L765.0 457.6 L765.1 457.2 L765.3 459.7 L765.4 459.9 L765.6 458.9 L765.7 462.1 L765.8 461.9 L766.0 461.1 L766.1 463.5 L766.2 464.8 L766.4 464.9 L766.5 466.7 L766.6 468.0 L766.8 466.9 L766.9 465.6 L767.0 465.3 L767.2 468.4 L767.3 471.7 L767.4 473.0 L767.6 474.5 L767.7 476.1 L767.8 475.0 L768.0 475.2 L768.3 472.6 L768.6 473.4 L768.9 472.8 L769.2 471.5 L769.5 470.1 L769.8 469.3 L769.9 470.2 L770.0 472.7 L770.1 472.2 L770.2 473.6 L770.3 473.2 L770.3 474.7 L770.4 474.2 L770.5 476.2 L770.6 476.7 L770.7 478.1 L770.7 478.0 L770.8 477.8 L770.9 479.2 L771.0 481.9 L771.1 484.0 L771.2 483.0 L771.2 484.5 L771.3 485.5 L771.4 486.0 L771.5 484.3 L771.6 486.5 L771.7 486.2 L771.7 489.2 L771.8 490.4 L771.9 491.1 L772.0 488.1 L772.1 491.4 L772.1 491.5 L772.1 488.6 L772.2 489.8 L772.2 488.6 L772.2 487.4 L772.2 485.8 L772.3 484.3 L772.3 484.0 L772.3 487.6 L772.3 484.9 L772.4 483.4 L772.4 481.3 L772.4 480.1 L772.4 479.2 L772.5 478.0 L772.5 479.2 L772.5 477.7 L772.5 478.0 L772.6 475.2 L772.6 476.1 L772.6 474.8 L772.6 474.7 L772.7 473.2 L772.7 471.2 L772.7 472.5 L772.7 470.4 L772.8 469.5 L772.8 467.8 L772.8 468.0 L772.8 466.8 L772.9 466.7 L772.9 466.2 L772.9 464.3 L772.9 463.6 L773.1 464.8 L773.2 466.9 L773.3 467.9 L773.4 466.6 L773.5 468.8 L773.6 469.8 L773.7 470.6 L773.8 471.6 L774.0 471.6 L774.1 472.8 L774.2 473.8 L775.1 473.9 L776.1 474.2 L776.1 474.7 L776.1 476.3 L776.2 474.9 L776.2 476.3 L776.3 478.8 L776.3 479.4 L776.4 480.4 L776.4 479.6 L776.5 482.5 L776.5 485.0 L776.5 484.1 L776.6 483.6 L776.6 483.5 L776.7 486.0 L777.0 487.0 L777.3 486.7 L777.6 489.5 L777.9 490.5 L778.2 491.2 L778.5 490.4 L778.7 490.9 L778.8 493.0 L778.9 492.0 L779.1 494.7 L779.2 496.8 L779.3 497.6 L779.5 496.3 L779.6 496.3 L779.7 498.9 L779.9 500.3 L780.0 501.6 L780.1 502.6 L780.3 501.9 L780.4 502.0 L781.0 500.5 L781.6 503.7 L782.3 507.2 L782.9 505.3 L783.4 504.0 L783.8 504.2 L784.3 503.5 L784.8 501.6 L785.1 499.8 L785.4 498.5 L785.7 501.2 L785.9 498.3 L786.2 498.0 L786.6 501.2 L786.9 502.6 L787.2 503.1 L787.5 504.1 L787.9 501.9 L788.5 500.7 L789.1 499.4 L789.7 499.0 L790.3 499.8 L790.8 498.7 L791.2 500.7 L791.6 499.7 L792.0 503.0 L792.4 504.5 L792.8 503.3 L793.0 505.0 L793.3 502.6 L793.5 502.7 L793.7 501.0 L793.9 498.8 L794.1 498.2 L794.1 497.2 L794.1 497.3 L794.2 496.3 L794.2 498.1 L794.2 495.1 L794.3 493.2 L794.3 491.7 L794.3 490.6 L794.4 488.9 L794.4 488.3 L794.4 489.8 L794.5 488.8 L794.5 487.7 L794.5 487.4 L794.5 487.6 L794.6 486.6 L794.6 485.9 L794.6 483.6 L794.7 482.6 L794.7 481.8 L794.8 480.9 L794.9 479.4 L795.1 478.9 L795.2 478.4 L795.3 477.7 L795.4 476.8 L795.6 475.7 L795.7 477.0 L795.8 474.9 L795.9 473.7 L796.0 474.7 L796.1 474.3 L796.1 474.7 L796.2 476.8 L796.2 475.9 L796.3 474.2 L796.4 478.4 L796.4 481.3 L796.5 479.5 L796.5 480.4 L796.6 483.0 L796.7 481.3 L796.7 482.6 L796.8 483.2 L796.8 485.1 L796.9 484.2 L797.0 487.8 L797.0 488.3 L797.1 489.6 L797.1 489.8 L797.2 490.1 L797.4 489.0 L797.7 487.3 L797.9 487.8 L798.1 486.5 L798.4 486.2 L798.6 485.7 L798.8 486.2 L799.1 485.0 L799.2 483.0 L799.4 482.7 L799.5 483.8 L799.7 482.5 L799.8 480.0 L800.0 479.4 L800.1 478.3 L800.3 479.0 L800.5 477.6 L800.6 476.9 L800.8 478.4 L800.9 474.5 L801.1 474.0 L801.4 473.7 L801.6 474.2 L801.8 477.9 L802.1 479.0 L802.3 481.4 L802.5 478.5 L802.8 480.4 L803.7 482.7 L804.6 482.7 L805.0 484.6 L805.3 485.4 L805.6 485.3 L805.9 485.7 L806.2 486.4 L806.5 487.4 L807.5 487.1 L808.6 487.2 L809.6 487.1 L810.1 485.0 L810.6 483.8 L811.0 484.5 L811.5 483.3 L811.5 482.3 L811.6 484.2 L811.6 482.3 L811.6 480.1 L811.7 480.6 L811.7 482.0 L811.8 477.6 L811.8 476.0 L811.8 475.9 L811.9 474.4 L811.9 476.7 L812.0 475.1 L812.0 472.8 L812.0 472.6 L812.1 470.4 L812.1 470.1 L812.2 470.9 L812.2 474.7 L812.3 471.0 L812.3 473.5 L812.4 476.0 L812.4 476.6 L812.5 478.8 L812.5 478.3 L812.6 478.3 L812.6 478.5 L812.7 478.2 L812.7 481.6 L812.8 479.9 L812.8 481.1 L812.9 481.6 L812.9 482.0 L813.0 480.9 L813.0 483.3 L813.1 485.2 L813.1 486.4 L813.2 488.2 L813.2 488.2 L813.3 488.1 L813.3 489.7 L814.6 490.5 L814.6 488.6 L814.7 486.5 L814.7 485.8 L814.8 487.6 L814.8 487.6 L814.9 484.8 L814.9 484.5 L815.0 484.7 L815.0 484.9 L815.0 482.0 L815.1 481.0 L815.1 482.1 L815.2 483.2 L815.2 481.9 L815.3 477.8 L815.3 477.7 L815.4 476.3 L815.4 475.5 L815.5 474.0 L815.5 473.2 L815.5 472.9 L815.6 474.5 L815.6 473.2 L815.7 471.9 L815.7 470.4 L815.8 468.4 L815.8 467.8 L815.9 468.9 L815.9 468.2 L815.9 468.8 L816.0 466.4 L816.0 464.8 L816.1 463.0 L816.1 464.2 L816.2 463.0 L816.3 467.0 L816.3 466.4 L816.4 467.4 L816.5 466.7 L816.5 468.0 L816.6 468.4 L816.6 471.6 L816.7 472.2 L816.8 471.2 L816.8 470.5 L816.9 473.0 L817.0 473.9 L817.0 474.0 L817.1 476.6 L817.1 477.1 L817.2 478.1 L817.3 478.2 L817.3 479.4 L817.4 479.6 L817.5 479.1 L817.5 482.1 L817.6 483.4 L817.7 481.8 L817.8 484.0 L817.8 486.5 L817.9 486.8 L818.0 488.7 L818.1 488.0 L818.1 488.6 L818.2 487.8 L818.3 488.5 L818.4 488.2 L818.4 489.7 L818.5 492.1 L818.6 493.5 L818.8 494.1 L819.0 492.5 L819.2 490.1 L819.4 490.4 L819.6 489.4 L819.8 490.8 L820.0 491.0 L820.2 487.8 L820.3 485.7 L820.3 484.6 L820.4 484.5 L820.5 482.9 L820.6 483.2 L820.6 483.0 L820.7 482.6 L820.8 481.1 L820.8 478.8 L820.9 477.4 L821.0 477.3 L821.1 478.4 L821.1 478.6 L821.2 477.4 L821.3 475.7 L821.4 474.9 L821.4 473.3 L821.7 475.7 L821.9 476.3 L822.1 474.2 L822.4 477.0 L822.6 477.8 L822.8 477.7 L823.1 479.3 L823.3 479.8 L823.4 480.6 L823.5 479.3 L823.6 481.6 L823.7 483.5 L823.8 483.9 L823.9 482.8 L824.0 485.4 L824.1 487.1 L824.2 487.6 L824.3 488.7 L824.4 488.6 L824.5 488.8 L824.6 490.8 L824.7 491.0 L824.8 492.2 L825.0 496.9 L825.1 496.0 L825.2 494.9 L825.3 492.1 L825.5 492.5 L825.6 492.9 L825.8 490.7 L825.9 490.0 L826.1 486.7 L826.2 488.5 L826.4 487.1 L826.6 487.7 L826.7 488.1 L826.9 485.9 L827.0 485.0 L827.2 484.6 L827.4 483.0 L827.5 481.8 L827.7 480.2 L827.9 481.6 L828.0 481.1 L828.2 478.1 L828.4 478.8 L828.5 477.0 L828.6 474.3 L828.6 476.3 L828.7 473.4 L828.7 474.8 L828.8 473.6 L828.8 473.5 L828.8 472.4 L828.9 472.3 L828.9 470.8 L829.0 470.0 L829.0 468.7 L829.1 468.8 L829.1 466.5 L829.2 466.8 L829.2 467.0 L829.3 464.6 L829.3 463.9 L829.4 461.9 L829.4 461.0 L829.5 460.8 L829.5 459.7 L829.6 457.8 L829.7 457.7 L829.7 457.4 L829.8 457.0 L829.9 456.8 L829.9 453.2 L830.0 455.2 L830.1 453.5 L830.2 451.7 L830.2 451.0 L830.3 451.2 L830.4 451.3 L830.5 449.3 L830.5 448.7 L830.6 445.9 L830.7 446.5 L830.8 446.0 L831.0 446.3 L831.2 448.6 L831.4 451.0 L831.6 451.5 L831.8 450.0 L832.0 452.8 L832.2 452.1 L832.4 452.8 L832.6 453.4 L832.8 453.1 L832.9 452.7 L833.0 451.6 L833.2 450.3 L833.3 449.4 L833.4 448.2 L833.6 448.9 L833.7 446.9 L833.8 446.1 L834.0 445.2 L834.1 443.8 L834.2 443.3 L834.4 441.2 L834.5 442.3 L834.6 442.1 L834.6 440.6 L834.7 441.7 L834.8 438.7 L834.8 438.8 L834.9 438.2 L835.0 436.2 L835.0 435.3 L835.1 435.8 L835.2 434.5 L835.2 433.7 L835.3 434.3 L835.4 432.5 L835.5 429.1 L835.5 428.5 L835.6 429.6 L835.7 428.3 L835.7 427.1 L835.9 423.8 L836.1 425.2 L836.3 426.6 L836.6 423.2 L836.8 420.4 L837.0 422.1 L837.2 420.9 L837.4 420.2 L837.6 419.8 L837.6 417.9 L837.6 418.4 L837.6 418.6 L837.6 417.5 L837.5 415.5 L837.5 416.1 L837.5 414.4 L837.5 414.1 L837.5 411.7 L837.5 412.2 L837.5 411.9 L837.5 411.9 L837.5 409.9 L837.5 409.2 L837.5 407.1 L837.4 407.6 L837.4 406.3 L837.5 406.8 L837.6 404.4 L837.7 402.0 L837.8 402.0 L837.9 401.3 L837.9 399.9 L838.0 400.4 L838.1 400.5 L838.2 399.3 L838.3 399.2 L838.3 397.8 L838.4 395.7 L838.6 394.1 L838.8 393.4 L839.0 393.8 L839.1 393.7 L839.3 392.1 L839.5 392.0 L839.7 389.6 L839.8 388.6 L840.0 389.7 L840.1 388.4 L840.3 388.0 L840.4 383.9 L840.5 384.0 L840.7 383.7 L840.8 386.9 L840.9 389.4 L841.0 388.1 L841.1 387.7 L841.2 388.1 L841.3 388.9 L841.4 391.5 L841.5 392.1 L842.0 393.5 L842.4 392.2 L842.8 389.7 L842.9 390.8 L843.1 391.3 L843.2 393.1 L843.4 394.4 L843.5 394.0 L843.7 395.0 L843.7 396.6 L843.8 396.6 L843.9 397.6 L844.0 399.0 L844.1 398.8 L844.1 398.9 L844.2 401.7 L844.3 401.8 L844.4 401.6 L844.5 403.3 L844.6 402.2 L844.6 404.5 L844.7 402.0 L844.8 401.9 L844.8 399.7 L844.9 399.6 L844.9 401.0 L845.0 399.6 L845.0 397.4 L845.1 399.6 L845.1 397.0 L845.2 398.0 L845.2 395.5 L845.3 394.2 L845.3 397.1 L845.4 396.4 L845.5 398.1 L845.5 399.7 L845.6 397.9 L845.7 399.4 L845.8 399.7 L845.8 401.8 L845.9 402.3 L846.0 401.6 L846.0 403.4 L846.1 405.4 L846.2 405.4 L846.2 406.9 L846.3 406.7 L846.4 407.8 L846.4 409.1 L846.5 409.7 L846.7 410.4 L846.9 409.6 L847.1 408.7 L847.3 407.7 L847.5 406.2 L847.8 404.3 L847.8 406.3 L847.9 408.7 L848.0 408.2 L848.0 408.1 L848.1 408.8 L848.2 411.0 L848.2 411.3 L848.3 410.4 L848.4 411.6 L848.4 411.9 L848.5 413.2 L848.6 413.3 L848.7 414.0 L848.7 417.5 L848.8 418.8 L848.9 416.6 L848.9 417.1 L849.0 419.2 L849.1 419.6 L849.1 419.3 L849.2 422.4 L849.3 421.1 L849.4 423.9 L849.4 425.4 L849.5 425.3 L849.6 425.4 L849.7 426.8 L849.7 428.0 L849.8 426.3 L849.9 428.8 L850.0 428.5 L850.1 427.7 L850.3 426.5 L850.4 424.8 L850.5 424.1 L850.7 423.2 L850.8 426.5 L850.9 422.4 L851.1 423.7 L851.2 422.4 L851.3 421.1 L851.5 419.7 L851.6 418.5 L851.8 419.7 L851.9 418.3 L852.0 416.7 L852.2 415.4 L852.3 414.8 L852.5 412.5 L852.6 412.1 L852.7 411.8 L853.2 411.7 L853.7 411.4 L854.1 407.9 L854.6 408.7 L855.2 409.2 L855.8 407.4 L856.0 406.8 L856.1 410.0 L856.3 410.4 L856.5 410.7 L856.6 410.4 L856.8 412.5 L856.9 413.0 L857.1 414.6 L857.2 415.9 L857.3 417.3 L857.4 417.1 L857.5 417.3 L857.6 418.6 L857.7 419.4 L857.8 420.5 L857.9 420.7 L858.0 421.6 L858.1 422.0 L858.2 422.7 L858.3 424.5 L858.4 425.0 L858.5 422.7 L858.6 422.7 L858.7 421.9 L858.7 420.8 L858.8 420.5 L858.9 418.4 L859.0 418.5 L859.1 417.6 L859.2 412.4 L859.2 414.5 L859.3 415.0 L859.4 416.2 L859.5 412.6 L859.6 412.1 L859.6 413.4 L859.6 412.8 L859.7 415.7 L859.7 416.3 L859.7 415.6 L859.8 415.5 L859.8 416.9 L859.8 421.2 L859.9 423.0 L859.9 418.7 L859.9 418.5 L860.0 421.9 L860.0 422.7 L860.0 422.9 L860.1 425.0 L860.1 425.6 L860.2 426.6 L860.2 427.2 L860.3 426.7 L860.5 429.9 L860.6 429.4 L860.7 431.6 L860.9 432.4 L861.0 432.5 L861.2 433.2 L861.3 433.7 L861.4 433.8 L861.7 434.1 L861.9 436.2 L862.1 435.0 L862.4 435.2 L862.6 438.8 L862.8 440.3 L863.1 438.5 L863.3 440.7 L863.7 441.4 L864.0 443.3 L864.4 443.0 L864.8 443.4 L865.2 444.1 L865.3 445.2 L865.4 446.0 L865.5 446.2 L865.6 447.1 L865.7 447.6 L865.8 449.9 L865.9 449.3 L866.0 449.0 L866.1 450.2 L866.2 453.1 L866.4 451.8 L866.7 452.0 L866.9 451.7 L867.1 449.6 L867.4 449.9 L867.6 449.2 L867.8 447.8 L868.0 446.5 L868.5 445.7 L868.9 443.7 L869.3 443.7 L869.7 442.8 L870.1 443.3 L870.5 442.5 L870.6 441.0 L870.7 441.5 L870.8 441.6 L871.0 439.7 L871.1 437.6 L871.2 437.8 L871.3 433.8 L871.4 434.1 L871.5 435.0 L871.6 436.5 L871.7 433.2 L871.8 433.0 L872.2 436.6 L872.5 437.3 L872.9 433.1 L873.3 436.2 L873.6 436.3 L873.8 436.7 L873.9 434.7 L874.0 432.9 L874.1 432.2 L874.3 433.4 L874.4 432.5 L874.5 430.3 L874.6 429.7 L874.8 429.5 L874.9 427.8 L875.5 427.2 L876.1 425.6 L876.8 425.3 L876.9 425.5 L877.0 426.3 L877.1 425.9 L877.2 426.5 L877.3 430.0 L877.4 429.4 L877.5 429.5 L877.7 431.6 L877.8 434.7 L877.9 436.1 L878.0 435.0 L878.1 434.6 L878.2 435.5 L878.4 436.0 L878.5 437.1 L878.6 439.2 L878.7 438.7 L878.9 439.4 L879.0 440.8 L879.1 442.1 L879.2 442.2 L879.4 442.7 L879.5 443.1 L879.6 444.2 L879.7 446.6 L879.9 447.3 L880.0 444.4 L880.1 448.4 L880.3 449.5 L880.4 449.4 L880.5 450.6 L880.7 448.3 L880.8 449.6 L880.9 454.0 L881.1 457.2 L881.2 458.9 L881.3 456.5 L881.5 457.1 L881.6 458.7 L881.7 458.2 L882.1 459.5 L882.5 456.8 L882.8 456.6 L883.2 454.3 L883.6 454.8 L883.7 455.6 L883.7 457.8 L883.8 456.4 L883.9 457.8 L883.9 461.0 L884.0 459.1 L884.1 460.8 L884.1 462.0 L884.2 461.9 L884.3 462.6 L884.3 465.5 L884.4 466.7 L884.5 466.9 L884.6 467.2 L884.6 466.2 L884.7 467.8 L884.8 471.0 L884.8 470.3 L884.9 469.6 L885.0 468.5 L885.1 470.4 L885.2 472.5 L885.2 473.0 L885.3 473.9 L885.4 475.6 L885.5 477.4 L885.6 477.7 L885.6 479.6 L885.7 477.5 L885.8 479.6 L885.9 480.8 L886.0 479.5 L886.0 482.8 L886.1 481.1 L886.2 481.2 L886.3 486.7 L886.4 487.5 L886.5 487.2 L886.5 488.8 L886.6 489.7 L886.7 488.2 L886.8 487.9 L886.9 488.6 L887.0 486.4 L887.1 485.4 L887.2 483.9 L887.4 484.3 L887.5 482.3 L887.6 481.1 L887.7 479.4 L887.8 478.6 L887.9 479.2 L888.0 479.2 L888.1 477.6 L888.2 475.7 L888.3 476.2 L888.5 475.9 L888.6 475.2 L888.7 475.5 L888.9 475.9 L889.0 477.7 L889.1 480.1 L889.3 479.6 L889.4 479.9 L889.6 479.6 L889.7 480.7 L889.9 483.2 L890.0 483.6 L890.1 484.2 L890.2 480.2 L890.3 481.3 L890.4 479.1 L890.4 479.6 L890.5 475.7 L890.6 476.5 L890.7 475.4 L890.8 477.0 L890.9 475.7 L891.0 476.1 L891.1 473.7 L891.2 475.2 L891.2 472.1 L891.3 473.6 L891.4 470.6 L891.5 468.4 L891.6 469.4 L891.7 467.6 L891.7 466.9 L891.8 464.5 L891.9 464.4 L892.0 464.3 L892.1 462.8 L892.2 463.0 L892.2 459.3 L892.3 461.4 L892.4 459.9 L892.5 460.1 L892.6 458.9 L892.8 457.2 L892.9 456.3 L893.0 456.3 L893.2 456.2 L893.3 454.3 L893.5 452.7 L893.6 453.1 L893.7 452.4 L894.1 451.2 L894.6 451.9 L895.0 454.2 L895.0 455.3 L895.1 455.0 L895.2 453.9 L895.2 452.6 L895.3 449.6 L895.3 450.8 L895.4 448.8 L895.5 447.1 L895.5 449.3 L895.6 445.5 L895.7 447.0 L895.7 445.6 L895.8 443.2 L895.8 443.2 L895.9 441.4 L896.0 441.5 L896.0 440.0 L896.1 438.3 L896.2 441.9 L896.2 438.5 L896.5 440.7 L896.8 440.7 L897.1 442.2 L897.5 441.8 L897.5 439.7 L897.5 436.0 L897.6 439.3 L897.6 439.3 L897.7 436.8 L897.7 437.8 L897.7 437.4 L897.8 439.5 L897.8 436.5 L897.8 435.7 L897.9 434.5 L897.9 433.8 L898.0 432.0 L898.0 430.4 L898.0 430.7 L898.1 430.9 L898.1 427.5 L898.2 425.8 L898.2 426.0 L898.2 427.8 L898.3 425.5 L898.3 422.3 L898.4 423.7 L898.4 423.6 L898.4 424.5 L898.5 422.1 L898.5 422.9 L898.5 419.4 L898.6 419.6 L898.6 418.3 L898.7 415.6 L898.7 415.8 L899.1 416.5 L899.4 416.1 L899.8 413.6 L900.2 414.0 L900.6 412.2 L901.5 413.0 L902.4 411.4 L902.6 412.6 L902.8 411.9 L902.9 413.1 L903.1 414.3 L903.3 414.2 L903.4 415.2 L903.6 416.6 L903.8 417.7 L904.0 419.6 L904.1 418.2 L904.3 419.6 L904.5 419.0 L904.7 417.7 L904.9 417.6 L905.1 416.0 L905.3 416.9 L905.5 415.0 L905.7 412.7 L906.0 413.6 L906.2 413.0 L906.4 410.0 L906.7 410.0 L907.0 409.8 L907.2 410.3 L907.5 410.6 L907.8 408.1 L908.0 406.2 L908.1 406.2 L908.1 406.4 L908.2 405.4 L908.3 404.0 L908.3 401.9 L908.4 404.6 L908.4 400.6 L908.5 398.3 L908.6 400.0 L908.6 399.3 L908.7 398.9 L908.7 397.9 L908.8 398.7 L908.9 398.1 L908.9 395.0 L909.0 395.2 L909.0 392.2 L909.1 389.9 L909.2 392.2 L909.2 390.5 L909.3 389.1 L909.4 388.1 L909.5 387.0 L909.6 387.5 L909.7 386.4 L909.8 384.5 L909.9 384.2 L910.0 384.2 L910.1 381.9 L910.2 381.9 L910.3 380.0 L910.4 380.5 L910.5 381.8 L910.6 380.2 L910.7 379.8 L910.8 378.3 L910.9 375.5 L911.0 374.8 L911.1 374.6 L911.2 374.3 L911.3 372.4 L911.4 372.7 L911.5 370.7 L911.6 370.4 L911.7 369.7 L911.8 367.5 L911.9 368.9 L912.0 367.6 L912.1 366.6 L912.2 367.4 L912.3 365.6 L912.4 366.4 L912.5 367.8 L912.6 371.1 L912.7 370.9 L912.7 372.7 L912.8 371.9 L912.9 372.4 L913.0 374.3 L913.1 376.3 L913.2 374.6 L913.3 376.3 L913.4 378.1 L913.5 379.0 L913.6 379.6 L913.7 381.4 L913.8 381.9 L913.9 381.1 L914.0 383.3 L914.1 382.9 L914.2 384.3 L914.3 386.9 L914.4 389.7 L914.4 390.0 L914.5 389.4 L914.6 388.3 L914.7 388.5 L914.7 392.0 L914.8 392.2 L914.9 390.7 L914.9 394.3 L915.0 394.9 L915.1 396.5 L915.1 396.5 L915.2 394.0 L915.3 395.3 L915.3 397.1 L915.4 398.2 L915.5 400.0 L915.5 400.2 L915.5 401.2 L915.5 402.3 L915.9 401.5 L916.2 399.6 L916.6 398.2 L917.0 395.6 L917.4 398.4 L917.6 397.3 L917.9 397.2 L918.2 395.1 L918.5 395.1 L918.7 393.4 L919.0 392.3 L919.3 393.0 L919.6 392.6 L919.8 394.2 L919.9 394.4 L920.1 394.6 L920.3 397.3 L920.4 398.6 L920.6 397.4 L920.7 396.9 L920.9 399.1 L921.1 400.0 L921.5 399.7 L921.8 403.8 L922.2 400.5 L922.6 401.3 L922.9 403.5 L923.1 405.6 L923.2 403.4 L923.4 404.9 L923.5 408.3 L923.6 409.9 L923.8 409.1 L923.9 409.6 L924.0 409.3 L924.2 411.1 L924.3 409.0 L924.4 406.5 L924.6 405.6 L924.7 406.7 L924.8 404.8 L924.9 406.5 L925.1 406.8 L925.2 406.0 L925.3 404.7 L925.4 402.9 L925.7 404.1 L925.9 405.3 L926.1 405.8 L926.4 406.8 L926.6 405.5 L926.8 406.0 L927.1 406.2 L927.3 408.7 L927.5 408.5 L927.8 406.2 L928.0 404.6 L928.3 403.9 L928.5 404.4 L928.6 405.2 L928.7 405.6 L928.7 405.8 L928.8 407.1 L928.9 410.2 L929.0 409.0 L929.0 409.6 L929.1 412.8 L929.2 413.2 L929.2 411.7 L929.3 414.4 L929.4 413.0 L929.4 415.3 L929.5 412.9 L929.6 414.4 L929.6 417.8 L929.7 417.7 L929.8 418.8 L930.0 418.0 L930.2 417.4 L930.3 416.1 L930.5 414.9 L930.7 416.9 L930.9 416.8 L931.1 414.8 L931.3 411.8 L931.5 410.9 L931.6 410.9 L932.0 410.5 L932.3 411.3 L932.6 408.4 L932.9 407.4 L933.0 407.8 L933.1 409.1 L933.3 409.1 L933.4 411.0 L933.5 413.2 L933.6 412.6 L933.8 413.1 L933.9 414.3 L934.0 413.6 L934.1 416.5 L934.3 414.2 L934.4 413.6 L934.5 412.2 L934.7 414.1 L934.8 411.8 L935.0 410.4 L935.1 412.3 L935.2 410.0 L935.4 408.4 L935.4 407.5 L935.5 407.1 L935.5 405.3 L935.6 404.8 L935.6 404.1 L935.7 404.5 L935.7 404.1 L935.8 403.5 L935.8 401.6 L935.9 401.6 L935.9 399.8 L936.0 400.3 L936.0 399.0 L936.0 397.1 L936.1 397.8 L936.1 394.3 L936.2 393.2 L936.2 392.4 L936.3 392.5 L936.3 390.6 L936.4 389.5 L936.4 387.7 L936.5 389.0 L936.5 387.9 L936.6 390.5 L936.6 388.0 L936.6 387.5 L936.6 390.4 L936.7 390.5 L936.7 392.2 L936.7 390.7 L936.7 393.4 L936.7 394.8 L936.7 394.0 L936.7 393.7 L936.8 394.7 L936.8 396.3 L936.8 400.0 L936.8 401.1 L936.8 401.6 L936.8 400.3 L936.8 400.2 L936.9 401.5 L936.9 401.7 L936.9 402.1 L936.9 403.0 L936.9 405.2 L936.9 405.3 L936.9 406.3 L937.0 406.5 L937.0 407.2 L937.0 407.8 L937.0 410.5 L937.0 410.7 L937.0 412.8 L937.0 412.0 L937.0 413.8 L937.1 412.0 L937.1 413.0 L937.1 414.3 L937.1 414.6 L937.1 415.9 L937.1 415.8 L937.1 417.3 L937.2 417.7 L937.2 419.2 L937.2 419.8 L937.2 419.7 L937.2 420.9 L937.2 422.4 L937.2 423.0 L937.3 422.3 L937.3 423.3 L937.4 421.3 L937.4 421.0 L937.4 420.5 L937.5 418.1 L937.5 419.3 L937.5 420.6 L937.6 416.3 L937.6 418.1 L937.6 414.7 L937.7 415.7 L937.7 411.5 L937.8 413.1 L937.8 411.9 L937.8 409.3 L937.9 408.4 L937.9 407.3 L937.9 406.5 L938.0 407.3 L938.0 406.4 L938.0 402.7 L938.1 403.6 L938.1 404.3 L938.2 403.5 L938.2 404.7 L938.2 400.3 L938.3 400.8 L938.3 400.2 L938.3 400.2 L938.4 397.3 L938.4 395.7 L938.4 396.1 L938.5 396.1 L938.6 393.1 L938.7 394.2 L938.8 393.6 L938.9 393.7 L939.0 389.2 L939.1 390.8 L939.2 389.2 L939.3 388.5 L939.4 389.3 L939.5 390.1 L939.6 388.0 L939.7 386.3 L940.3 387.3 L941.0 384.8 L941.0 385.4 L941.0 385.9 L941.0 386.0 L941.1 387.9 L941.1 391.4 L941.1 390.9 L941.1 391.6 L941.2 391.7 L941.2 393.7 L941.2 393.8 L941.2 393.0 L941.3 394.5 L941.3 397.1 L941.3 396.7 L941.3 398.7 L941.4 398.3 L941.4 401.3 L941.4 400.7 L941.4 401.5 L941.5 401.2 L941.5 402.9 L941.5 402.8 L941.5 401.7 L941.6 404.0 L941.6 403.6 L941.6 407.1 L941.6 408.1 L941.7 408.0 L941.7 409.3 L941.7 406.3 L941.7 410.8 L941.8 410.3 L941.8 412.2 L941.8 415.7 L941.8 412.4 L941.8 413.2 L941.9 414.9 L941.9 416.1 L941.9 414.5 L941.9 415.4 L942.0 419.1 L942.0 418.5 L942.0 420.1 L942.0 418.9 L942.1 419.6 L942.1 419.2 L942.1 422.2 L942.1 424.8 L942.2 424.9 L942.2 425.1 L942.2 426.1 L942.3 425.9 L942.3 424.3 L942.4 424.2 L942.4 425.3 L942.5 425.5 L942.5 421.7 L942.6 419.0 L942.6 421.4 L942.7 420.5 L942.8 420.0 L942.8 418.6 L942.9 416.5 L942.9 416.7 L943.0 416.5 L943.0 415.9 L943.1 412.4 L943.1 413.3 L943.2 411.4 L943.2 410.2 L943.3 410.1 L943.3 408.7 L943.4 410.9 L943.5 407.8 L943.9 407.5 L944.4 405.9 L944.9 405.4 L945.3 404.2 L945.4 405.7 L945.5 407.2 L945.6 408.2 L945.7 406.5 L945.8 407.6 L945.9 409.0 L946.0 408.4 L946.1 410.7 L946.2 411.4 L946.3 412.4 L946.4 413.7 L946.5 413.4 L946.6 415.3 L946.8 417.5 L947.0 416.5 L947.2 417.9 L947.4 419.2 L947.6 418.4 L947.8 419.6 L947.9 421.3 L948.1 418.6 L948.2 419.8 L948.3 422.8 L948.4 424.7 L948.6 424.1 L948.7 426.6 L948.8 429.7 L948.9 428.9 L949.1 428.6 L949.1 427.9 L949.2 425.7 L949.3 426.3 L949.3 425.5 L949.4 425.4 L949.5 425.6 L949.5 423.5 L949.6 422.4 L949.7 421.6 L949.7 422.5 L949.8 418.4 L949.9 418.2 L949.9 416.9 L950.0 416.7 L950.1 417.0 L950.2 415.7 L950.2 415.4 L950.3 413.7 L950.7 412.1 L951.1 410.9 L951.5 410.5 L951.6 411.5 L951.7 412.1 L951.8 414.3 L951.9 415.7 L952.0 414.5 L952.1 414.4 L952.2 416.9 L952.2 416.5 L952.3 418.2 L952.4 419.8 L952.5 419.7 L952.6 422.8 L952.7 421.3 L952.8 422.4 L953.0 421.1 L953.1 416.9 L953.3 418.2 L953.5 418.0 L953.7 418.3 L953.8 417.0 L954.0 415.8 L954.3 415.9 L954.5 416.9 L954.7 419.1 L955.0 419.1 L955.2 421.4 L955.4 422.3 L955.7 421.2 L955.9 422.6 L956.0 420.8 L956.2 423.1 L956.3 423.2 L956.4 424.9 L956.6 427.5 L956.7 427.5 L956.8 427.8 L957.0 430.2 L957.1 429.1 L957.2 429.1 L957.4 431.9 L957.5 432.9 L957.6 431.3 L957.8 433.4 L958.0 435.1 L958.2 435.1 L958.5 435.4 L958.7 436.6 L958.9 437.6 L959.2 437.4 L959.4 439.7 L959.6 439.2 L959.8 438.2 L960.0 440.5 L960.1 436.9 L960.3 436.3 L960.5 432.9 L960.6 433.0 L960.8 432.1 L961.0 432.7 L961.1 431.8 L961.3 433.7 L961.5 430.8 L961.6 431.6 L961.8 432.8 L962.0 434.3 L962.1 435.7 L962.3 433.7 L962.4 438.1 L962.6 437.2 L962.7 436.9 L962.9 436.2 L963.0 438.0 L963.2 437.5 L963.3 440.7 L963.5 439.1 L963.7 439.2 L963.9 437.3 L964.1 437.1 L964.2 439.1 L964.4 437.9 L964.6 435.0 L964.7 433.1 L964.8 434.5 L965.0 430.7 L965.1 429.2 L965.2 431.4 L965.3 429.3 L965.5 430.4 L965.6 429.3 L965.7 430.3 L965.8 429.6 L966.0 427.4 L966.1 424.7 L966.2 424.6 L966.3 425.0 L966.5 422.5 L966.6 418.2 L966.8 418.9 L967.0 418.6 L967.2 418.3 L967.3 417.3 L967.5 418.1 L967.7 415.7 L967.9 415.4 L968.1 412.1 L968.3 410.1 L968.5 410.3 L968.7 410.2 L968.9 410.6 L969.0 410.5 L969.1 413.0 L969.1 414.4 L969.2 414.8 L969.2 415.6 L969.3 415.4 L969.4 415.5 L969.4 415.5 L969.5 417.3 L969.5 417.6 L969.6 419.2 L969.7 421.5 L969.7 422.7 L969.8 424.6 L969.8 423.1 L969.9 421.5 L969.9 422.9 L970.0 427.6 L970.1 428.2 L970.1 427.6 L970.2 429.0 L970.3 427.7 L970.4 428.9 L970.4 426.2 L970.5 424.8 L970.6 425.0 L970.7 422.4 L970.8 422.1 L970.8 424.0 L970.9 422.3 L971.0 419.3 L971.1 418.8 L971.2 418.3 L971.3 416.7 L971.3 417.0 L971.4 416.5 L971.6 415.8 L971.8 415.7 L972.1 414.4 L972.3 413.2 L972.5 411.2 L972.7 411.3 L972.8 412.2 L973.0 409.6 L973.2 407.7 L973.4 408.2 L973.5 407.3 L973.7 407.8 L973.9 406.6 L974.0 405.0 L974.2 402.4 L974.4 403.4 L974.5 402.4 L974.8 400.1 L975.0 398.5 L975.2 397.0 L975.5 399.0 L975.7 397.9 L975.9 393.5 L976.2 394.4 L976.4 395.7 L976.5 394.6 L976.5 394.3 L976.6 393.3 L976.7 393.7 L976.8 393.6 L976.8 391.6 L976.9 392.5 L977.0 390.3 L977.1 388.1 L977.1 388.0 L977.2 385.5 L977.3 385.5 L977.4 384.1 L977.4 383.8 L977.5 383.9 L977.6 380.3 L977.6 382.3 L977.4 383.5 L977.1 384.1 L976.9 386.0 L976.7 386.8 L976.4 387.0 L976.5 384.9 L976.5 385.8 L976.6 385.6 L976.7 382.3 L976.7 381.5 L976.8 380.1 L976.9 381.6 L977.0 379.8 L977.0 379.1 L977.6 381.4 L978.3 381.8 L978.9 381.6 L979.5 381.0 L980.1 379.6 L980.5 378.7 L980.8 378.9 L981.1 377.9 L981.4 375.8 L981.7 375.2 L981.9 378.3 L982.1 377.0 L982.2 376.2 L982.4 378.2 L982.5 378.0 L982.7 383.0 L982.8 382.9 L983.0 382.4 L983.1 383.8 L983.2 386.4 L983.3 384.2 L983.4 385.2 L983.5 384.1 L983.6 387.8 L983.7 388.0 L983.8 390.9 L983.9 389.6 L984.0 389.3 L984.2 390.0 L984.4 392.7 L984.6 392.2 L984.7 394.0 L984.9 394.0 L985.1 395.4 L985.7 395.5 L986.3 399.0 L987.0 398.0 L987.3 399.1 L987.7 400.7 L988.1 399.9 L988.5 399.2 L988.8 402.3 L989.8 405.0 L990.7 403.4 L991.1 401.2 L991.4 402.3 L991.8 401.2 L992.2 399.3 L992.6 398.7 L992.9 397.9 L993.3 397.5 L993.6 398.1 L994.0 398.6 L994.3 401.6 L994.7 402.7 L995.1 403.8 L995.4 399.9 L995.8 400.0 L996.2 399.3 L996.5 401.2 L996.9 399.9 L997.0 399.3 L997.1 398.1 L997.2 396.2 L997.3 395.2 L997.4 394.4 L997.5 391.1 L997.6 394.8 L997.7 394.1 L997.8 394.9 L998.0 393.7 L998.1 391.8 L998.2 390.0 L998.2 387.1 L998.3 386.1 L998.4 387.4 L998.4 385.9 L998.5 383.3 L998.6 383.8 L998.6 381.9 L998.7 382.2 L998.8 382.5 L999.4 380.4 L1000.0 379.5 L1000.6 379.7 L1000.8 380.5 L1001.0 381.6 L1001.2 381.3 L1001.4 382.3 L1001.5 380.8 L1001.7 383.5 L1001.9 386.1 L1002.2 383.8 L1002.5 383.3 L1002.8 383.6 L1003.1 382.6 L1003.3 383.2 L1003.4 380.0 L1003.5 378.9 L1003.7 380.6 L1003.8 378.0 L1004.0 377.4 L1004.1 375.3 L1004.2 374.3 L1004.4 373.4 L1004.7 371.7 L1005.0 369.5 L1005.3 369.6 L1005.6 369.2 L1005.9 371.3 L1006.2 370.0 L1006.4 369.6 L1006.5 367.5 L1006.6 365.2 L1006.7 366.1 L1006.9 364.2 L1007.0 363.9 L1007.1 364.5 L1007.2 362.7 L1007.4 361.7 L1007.5 360.5 L1007.7 362.6 L1007.9 363.5 L1008.1 364.6 L1008.3 366.6 L1008.5 363.9 L1008.7 365.8 L1009.2 367.4 L1009.6 368.2 L1010.0 368.6 L1010.2 368.3 L1010.4 365.1 L1010.5 365.1 L1010.7 366.1 L1010.9 364.3 L1011.1 363.0 L1011.2 362.6 L1011.6 359.7 L1012.0 360.6 L1012.4 361.8 L1012.7 359.6 L1013.1 358.3 L1013.7 358.0 L1014.4 356.4 L1015.0 355.7 L1015.2 354.9 L1015.3 352.1 L1015.5 353.4 L1015.7 351.0 L1015.9 350.4 L1016.0 351.1 L1016.2 349.9 L1016.4 349.3 L1016.6 349.8 L1016.7 349.6 L1016.9 349.6 L1017.1 345.9 L1017.3 345.8 L1017.5 343.1 L1017.6 343.2 L1017.7 343.7 L1017.8 340.8 L1018.0 340.7 L1018.1 340.6 L1018.2 338.8 L1018.3 337.1 L1018.5 338.5 L1018.6 335.1 L1018.7 335.1 L1018.8 335.6 L1019.0 333.9 L1019.1 336.6 L1019.2 337.8 L1019.3 337.6 L1019.4 339.6 L1019.5 339.6 L1019.6 337.7 L1019.7 338.7 L1019.8 340.3 L1019.9 341.2 L1020.4 339.9 L1020.8 344.9 L1021.2 343.3 L1021.3 342.6 L1021.5 345.2 L1021.6 346.3 L1021.7 348.8 L1021.9 348.7 L1022.0 349.3 L1022.2 350.5 L1022.3 349.7 L1022.4 350.5 L1022.5 350.7 L1022.5 353.5 L1022.6 353.4 L1022.6 355.8 L1022.7 354.9 L1022.7 356.8 L1022.8 357.0 L1022.8 358.6 L1022.9 358.7 L1022.9 359.5 L1023.0 359.5 L1023.0 362.1 L1023.1 362.0 L1023.1 363.1 L1023.2 364.2 L1023.2 363.3 L1023.3 363.5 L1023.3 365.1 L1023.4 367.8 L1023.4 367.0 L1023.6 366.6 L1023.9 367.2 L1024.1 368.8 L1024.3 369.1 L1024.5 370.1 L1024.7 372.6 L1024.9 373.1 L1025.2 372.0 L1025.5 370.0 L1025.9 369.8 L1026.2 369.8 L1026.2 368.2 L1026.2 370.6 L1026.3 372.2 L1026.3 372.9 L1026.4 374.1 L1026.4 375.3 L1026.5 374.1 L1026.5 375.7 L1026.5 377.7 L1026.6 379.7 L1026.6 377.8 L1026.7 378.6 L1026.7 378.4 L1026.7 380.6 L1026.8 381.7 L1026.8 381.2 L1026.8 384.1 L1026.9 387.5 L1026.9 383.9 L1026.9 387.7 L1026.9 386.5 L1027.0 388.5 L1027.0 389.4 L1027.0 391.3 L1027.0 390.8 L1027.1 390.4 L1027.1 391.7 L1027.1 393.7 L1027.1 392.9 L1027.2 394.8 L1027.2 395.5 L1027.2 396.5 L1027.2 397.1 L1027.3 398.6 L1027.3 399.9 L1027.3 399.6 L1027.4 400.0 L1027.4 398.4 L1027.4 401.4 L1027.5 400.3 L1027.7 403.6 L1027.8 403.2 L1028.0 404.0 L1028.1 406.3 L1028.2 408.3 L1028.4 409.7 L1028.5 408.3 L1028.6 409.6 L1028.9 410.0 L1029.1 407.3 L1029.3 406.5 L1029.5 404.5 L1029.7 404.0 L1029.9 404.6 L1030.0 405.6 L1030.1 405.8 L1030.3 406.2 L1030.4 409.4 L1030.5 410.1 L1030.6 408.5 L1030.8 412.6 L1030.9 411.4 L1031.0 411.9 L1031.1 412.2 L1031.3 412.7 L1031.4 414.6 L1032.2 413.5 L1033.0 415.6 L1033.1 416.0 L1033.1 419.3 L1033.2 419.3 L1033.3 419.9 L1033.3 420.8 L1033.4 421.7 L1033.5 422.0 L1033.6 419.5 L1033.6 423.0 L1033.7 423.4 L1033.7 425.5 L1033.7 426.2 L1033.8 426.0 L1033.8 426.1 L1033.8 426.5 L1033.9 428.7 L1033.9 429.6 L1033.9 429.5 L1034.0 430.6 L1034.0 432.4 L1034.1 432.3 L1034.1 433.5 L1034.1 433.9 L1034.2 432.1 L1034.2 435.3 L1034.2 437.1 L1034.3 438.9 L1034.3 440.8 L1034.4 439.5 L1034.4 441.2 L1034.5 441.9 L1034.6 442.5 L1034.6 444.1 L1034.7 445.3 L1034.7 443.7 L1034.8 446.9 L1034.8 446.6 L1034.9 447.0 L1035.0 445.2 L1035.1 444.8 L1035.2 443.0 L1035.4 444.4 L1035.5 443.6 L1035.6 441.1 L1035.7 441.8 L1035.9 440.7 L1036.0 439.6 L1036.1 438.9 L1036.2 438.0 L1036.3 436.6 L1036.4 436.5 L1036.4 433.1 L1036.5 432.2 L1036.6 433.3 L1036.7 433.9 L1036.8 430.2 L1036.9 430.5 L1036.9 429.2 L1037.0 428.7 L1037.1 429.0 L1037.2 429.7 L1037.3 429.7 L1037.4 426.7 L1037.4 426.7 L1037.4 425.1 L1037.5 421.5 L1037.5 422.5 L1037.6 420.4 L1037.6 419.2 L1037.7 419.7 L1037.7 417.3 L1037.8 420.0 L1037.8 419.0 L1037.8 417.8 L1037.9 417.0 L1037.9 415.9 L1038.0 414.6 L1038.0 414.6 L1038.1 412.3 L1038.2 412.1 L1038.2 411.4 L1038.3 411.4 L1038.4 408.5 L1038.5 408.6 L1038.5 407.7 L1038.6 407.7 L1038.7 407.1 L1038.7 405.9 L1038.8 405.3 L1038.9 404.5 L1038.9 404.8 L1039.0 403.1 L1039.1 402.2 L1039.1 399.6 L1039.2 399.4 L1039.4 399.5 L1039.6 399.4 L1039.8 396.4 L1040.0 396.0 L1040.3 395.0 L1040.5 394.6 L1040.6 393.1 L1040.7 392.2 L1040.8 391.8 L1040.9 391.3 L1041.0 391.7 L1041.1 389.0 L1041.2 387.4 L1041.3 388.4 L1041.4 387.9 L1041.5 386.3 L1041.6 384.1 L1041.7 384.9 L1042.6 383.1 L1042.6 385.2 L1042.6 385.7 L1042.7 385.9 L1042.7 386.4 L1042.8 388.3 L1042.8 388.6 L1042.8 387.1 L1042.9 388.3 L1042.9 387.5 L1042.9 390.9 L1043.0 393.2 L1043.0 394.6 L1043.1 392.8 L1043.1 396.9 L1043.1 398.5 L1043.2 397.2 L1043.2 395.0 L1043.2 396.2 L1043.3 399.4 L1043.3 400.4 L1043.4 400.7 L1043.4 399.0 L1043.5 400.0 L1043.6 404.4 L1043.6 404.1 L1043.7 402.9 L1043.8 402.1 L1043.8 405.6 L1043.9 407.6 L1043.9 407.3 L1044.0 408.0 L1044.1 409.1 L1044.1 409.5 L1044.2 410.5 L1044.3 410.6 L1044.4 411.3 L1044.4 414.3 L1044.5 414.9 L1044.6 416.4 L1044.7 418.5 L1044.8 414.8 L1044.9 416.7 L1044.9 419.1 L1045.0 419.1 L1045.1 419.2 L1045.2 420.9 L1045.3 421.0 L1045.3 421.1 L1045.4 422.9 L1045.5 422.2 L1045.6 421.5 L1045.7 421.8 L1045.8 420.4 L1045.9 418.7 L1046.0 421.9 L1046.1 418.5 L1046.1 416.8 L1046.2 415.8 L1046.3 414.3 L1046.4 412.2 L1046.5 413.0 L1046.6 414.3 L1046.7 411.5 L1047.1 409.7 L1047.5 410.3 L1047.9 409.3 L1048.1 410.7 L1048.2 411.2 L1048.3 410.7 L1048.5 412.1 L1048.6 412.8 L1048.7 414.8 L1048.9 412.4 L1049.0 415.6 L1049.2 417.4 L1049.2 416.8 L1049.3 415.8 L1049.3 414.0 L1049.4 413.9 L1049.5 412.7 L1049.5 410.4 L1049.6 409.2 L1049.6 406.8 L1049.7 408.8 L1049.8 408.6 L1049.8 409.1 L1049.9 407.8 L1049.9 407.3 L1050.0 404.1 L1050.0 401.8 L1050.1 402.1 L1050.2 401.9 L1050.2 402.1 L1050.3 401.1 L1050.3 400.1 L1050.4 399.5 L1050.4 399.0 L1050.5 398.2 L1050.5 397.6 L1050.5 395.8 L1050.6 395.1 L1050.6 392.7 L1050.6 391.8 L1050.6 391.9 L1050.7 392.2 L1050.7 390.4 L1050.7 388.4 L1050.8 390.1 L1050.8 387.9 L1050.8 385.6 L1050.8 385.1 L1050.9 384.2 L1050.9 381.8 L1050.9 382.9 L1051.0 385.2 L1051.0 382.6 L1051.0 381.8 L1051.1 382.3 L1051.2 381.0 L1051.2 379.8 L1051.3 380.6 L1051.4 377.3 L1051.5 376.9 L1051.5 377.0 L1051.6 376.1 L1051.7 373.6 L1051.8 372.5 L1051.8 374.9 L1051.9 372.9 L1052.0 371.5 L1052.0 372.1 L1052.1 368.4 L1052.2 368.6 L1052.3 367.8 L1052.3 368.5 L1052.4 365.9 L1052.4 365.8 L1052.5 364.0 L1052.6 364.1 L1052.6 363.8 L1052.7 362.8 L1052.7 361.5 L1052.8 361.2 L1052.9 360.0 L1052.9 358.7 L1053.0 359.0 L1053.0 358.9 L1053.1 355.7 L1053.2 354.4 L1053.2 353.7 L1053.3 354.2 L1053.3 351.8 L1053.4 354.0 L1053.5 352.4 L1053.5 351.2 L1054.1 351.4 L1054.8 348.9 L1055.4 348.7 L1055.6 348.4 L1055.8 348.8 L1056.1 345.6 L1056.3 346.9 L1056.5 345.9 L1056.8 344.6 L1057.0 344.7 L1057.2 342.4 L1057.6 341.3 L1057.9 341.5 L1058.2 339.5 L1058.5 339.0 L1058.6 339.9 L1058.7 338.0 L1058.8 336.7 L1058.9 334.7 L1059.0 333.2 L1059.1 334.9 L1059.3 332.0 L1059.4 331.8 L1059.5 331.3 L1059.5 331.0 L1059.6 331.7 L1059.6 332.4 L1059.6 336.6 L1059.7 336.5 L1059.7 338.2 L1059.7 340.2 L1059.8 340.1 L1059.8 341.0 L1059.8 339.8 L1059.9 339.6 L1059.9 342.6 L1060.0 344.2 L1060.0 342.4 L1060.0 344.8 L1060.1 345.2 L1060.1 346.5 L1060.1 347.7 L1060.2 349.8 L1060.2 348.0 L1060.2 348.7 L1060.3 351.0 L1060.3 350.5 L1060.3 351.3 L1060.5 350.4 L1060.6 347.4 L1060.7 347.1 L1060.8 348.2 L1061.0 346.3 L1061.1 343.9 L1061.2 343.7 L1061.3 343.8 L1061.5 343.7 L1061.6 342.6 L1061.7 342.4 L1061.7 339.8 L1061.8 338.9 L1061.9 337.8 L1061.9 337.3 L1062.0 337.6 L1062.1 338.3 L1062.1 336.1 L1062.2 336.4 L1062.3 336.0 L1062.3 332.6 L1062.4 331.3 L1062.5 331.4 L1062.5 329.1 L1062.6 330.5 L1062.6 327.5 L1062.6 326.4 L1062.6 327.8 L1062.6 326.0 L1062.6 326.5 L1062.6 324.2 L1062.7 325.3 L1062.7 323.2 L1062.7 323.5 L1062.7 323.4 L1062.7 319.8 L1062.7 318.8 L1062.7 316.9 L1062.7 316.4 L1062.7 318.2 L1062.7 317.1 L1062.7 317.3 L1062.7 317.5 L1062.8 316.6 L1062.8 315.4 L1062.8 313.0 L1062.8 311.8 L1062.8 311.6 L1062.8 311.7 L1062.8 311.5 L1062.8 309.9 L1062.8 308.1 L1062.8 307.3 L1062.8 308.5 L1062.8 306.7 L1062.9 307.7 L1062.9 304.2 L1062.9 304.4 L1062.9 303.1 L1062.9 302.8 L1062.9 300.4 L1062.9 300.1 L1062.9 299.3 L1062.9 298.1 L1062.9 296.1 L1062.9 294.6 L1062.9 294.9 L1062.9 295.5 L1063.0 294.8 L1063.0 294.1 L1063.0 293.4 L1063.0 290.6 L1063.0 292.0 L1063.0 290.8 L1063.0 288.8 L1063.0 287.9 L1063.0 288.9 L1063.0 287.7 L1063.0 284.6 L1063.0 287.5 L1063.0 283.7 L1063.0 285.6 L1063.1 284.8 L1063.1 281.7 L1063.1 282.8 L1063.1 282.7 L1063.1 281.9 L1063.1 280.6 L1063.1 279.2 L1063.1 278.1 L1063.1 276.3 L1063.1 276.1 L1063.1 276.7 L1063.1 274.8 L1063.1 276.0 L1063.1 271.7 L1063.2 271.6 L1063.2 269.2 L1063.2 267.6 L1063.2 268.8 L1063.2 268.1 L1063.2 267.0 L1063.2 265.5 L1063.2 265.5 L1063.2 263.3 L1063.2 263.7 L1063.2 262.9 L1063.2 261.2 L1063.2 262.1 L1063.2 259.2 L1063.3 260.4 L1063.3 260.1 L1063.3 259.8 L1063.3 258.7 L1063.3 258.5 L1063.3 256.7 L1063.3 254.6 L1063.3 255.0 L1063.3 253.3 L1063.3 252.7 L1063.3 252.5 L1063.3 250.7 L1063.3 251.8 L1063.3 248.6 L1063.4 250.3 L1063.4 248.9 L1063.4 249.9 L1063.4 249.1 L1063.4 247.7 L1063.4 246.3 L1063.4 244.7 L1063.4 243.9 L1063.4 245.0 L1063.4 245.5 L1063.4 246.4 L1063.4 248.0 L1063.4 248.2 L1063.5 250.0 L1063.5 250.6 L1063.5 251.1 L1063.5 252.8 L1063.5 254.1 L1063.5 252.9 L1063.5 254.2 L1063.5 259.0 L1063.5 257.8 L1063.5 258.4 L1063.5 257.5 L1063.5 260.0 L1063.5 262.0 L1063.5 262.1 L1063.6 261.8 L1063.6 262.4 L1063.6 260.9 L1063.6 263.8 L1063.6 264.3 L1063.6 265.8 L1063.6 266.9 L1063.6 267.5 L1063.6 270.6 L1063.6 270.7 L1063.6 269.4 L1063.6 271.0 L1063.6 272.1 L1063.6 272.3 L1063.7 274.6 L1063.7 273.7 L1063.7 272.3 L1063.7 273.2 L1063.7 275.7 L1063.7 275.5 L1063.7 277.3 L1063.7 276.5 L1063.7 279.0 L1063.7 279.6 L1063.7 279.6 L1063.7 280.5 L1063.7 281.7 L1063.7 284.0 L1063.8 284.6 L1063.8 284.8 L1063.8 285.8 L1063.8 287.5 L1063.8 288.2 L1063.8 290.4 L1063.8 288.8 L1063.8 290.6 L1063.8 290.9 L1063.8 290.6 L1063.8 292.5 L1063.8 294.0 L1063.8 295.2 L1063.8 295.6 L1063.9 294.6 L1063.9 296.0 L1063.9 297.3 L1063.9 299.8 L1063.9 299.4 L1063.9 299.8 L1063.9 300.6 L1063.9 301.7 L1063.9 301.4 L1063.9 302.7 L1064.0 304.3 L1064.0 304.6 L1064.0 303.1 L1064.0 304.6 L1064.0 307.3 L1064.0 306.7 L1064.1 308.9 L1064.1 309.4 L1064.1 308.9 L1064.1 311.2 L1064.1 309.0 L1064.1 308.8 L1064.2 309.9 L1064.2 313.3 L1064.2 314.0 L1064.2 315.9 L1064.2 316.2 L1064.2 317.1 L1064.3 317.1 L1064.3 317.8 L1064.3 320.2 L1064.3 320.4 L1064.4 319.8 L1064.5 322.0 L1064.6 325.1 L1064.7 325.2 L1064.8 323.7 L1065.0 325.8 L1065.1 326.4 L1065.2 326.5 L1065.3 328.6 L1065.4 330.2 L1065.5 329.2 L1065.6 330.2 L1065.7 330.4 L1065.8 331.5 L1065.9 333.0 L1066.1 333.5 L1066.2 335.0 L1066.3 335.7 L1066.4 336.3 L1066.6 335.6 L1066.7 338.0 L1066.8 337.4 L1066.9 339.9 L1067.1 340.4 L1067.2 341.2 L1067.4 341.6 L1067.5 341.8 L1067.7 342.2 L1067.9 344.2 L1068.1 345.4 L1068.3 346.8 L1068.4 347.3 L1068.6 349.1 L1068.8 349.5 L1069.1 350.2 L1069.3 350.6 L1069.5 351.5 L1069.7 352.6 L1069.8 352.7 L1069.9 352.4 L1070.1 354.8 L1070.2 356.2 L1070.4 356.7 L1070.5 357.7 L1070.6 356.8 L1070.8 357.4 L1070.9 359.6 L1071.2 360.5 L1071.5 360.2 L1071.8 362.7 L1072.2 362.9 L1072.2 365.1 L1072.3 364.2 L1072.4 365.1 L1072.4 365.3 L1072.5 365.6 L1072.6 367.4 L1072.6 366.8 L1072.7 368.9 L1072.8 370.9 L1073.1 371.4 L1073.4 372.4 L1073.7 371.6 L1074.0 373.3 L1074.6 372.2 L1075.3 375.8 L1075.9 376.1 L1076.5 374.7 L1077.1 378.6 L1077.8 378.2 L1078.7 379.3 L1079.6 377.7 L1080.4 379.0 L1081.3 375.2 L1082.1 375.9 L1082.5 375.7 L1082.9 379.4 L1083.2 379.7 L1083.6 379.5 L1084.0 379.7 L1084.6 378.0 L1085.2 380.6 L1085.8 381.8 L1086.8 382.8 L1087.7 381.3 L1088.0 382.2 L1088.3 382.3 L1088.6 384.7 L1088.9 384.1 L1089.3 386.4 L1089.6 386.1 L1089.7 386.7 L1089.7 388.0 L1089.8 390.6 L1089.9 388.0 L1090.0 390.4 L1090.1 391.8 L1090.2 391.6 L1090.3 394.1 L1090.4 394.6 L1090.5 395.1 L1090.5 394.0 L1090.6 396.0 L1090.7 395.0 L1090.8 397.1 L1090.8 398.9 L1090.9 395.3 L1090.9 396.4 L1091.0 393.2 L1091.0 392.8 L1091.1 393.0 L1091.1 389.9 L1091.1 390.4 L1091.2 388.7 L1091.2 387.8 L1091.3 388.6 L1091.3 387.3 L1091.3 386.9 L1091.4 385.7 L1091.4 384.8 L1091.6 385.9 L1091.7 383.8 L1091.8 382.1 L1091.9 381.2 L1092.1 381.2 L1092.2 380.3 L1092.3 376.4 L1092.4 376.9 L1092.5 377.1 L1092.7 376.9 L1093.6 375.8 L1094.5 374.7 L1095.0 372.5 L1095.4 372.5 L1095.8 371.5 L1095.9 369.6 L1096.0 369.8 L1096.2 367.6 L1096.3 367.8 L1096.4 366.8 L1096.5 368.1 L1096.7 368.5 L1096.8 368.6 L1096.9 365.8 L1097.0 363.9 L1097.4 366.1 L1097.8 362.5 L1098.1 363.5 L1098.5 360.3 L1098.9 360.1 L1099.0 357.6 L1099.1 357.2 L1099.2 356.8 L1099.3 356.0 L1099.4 353.2 L1099.5 354.2 L1099.6 353.4 L1099.7 354.8 L1099.8 353.6 L1099.9 349.4 L1100.0 350.1 L1100.1 350.2 L1100.3 349.3 L1100.4 347.4 L1100.5 345.4 L1100.6 345.3 L1100.8 344.0 L1100.9 343.8 L1101.0 343.1 L1101.1 344.2 L1101.3 341.3 L1101.4 341.2 L1101.5 340.8 L1101.5 342.7 L1101.6 344.9 L1101.7 344.2 L1101.8 343.8 L1101.9 345.7 L1102.0 346.9 L1102.0 347.0 L1102.1 348.9 L1102.2 349.6 L1102.3 351.2 L1102.4 349.8 L1102.5 352.4 L1102.5 354.4 L1102.6 353.5 L1102.7 355.0 L1102.9 352.9 L1103.0 349.8 L1103.1 348.5 L1103.2 347.8 L1103.4 347.1 L1103.5 346.8 L1103.6 346.8 L1103.7 345.6 L1103.9 344.7 L1103.9 342.8 L1104.0 340.4 L1104.1 340.6 L1104.2 339.5 L1104.3 341.1 L1104.4 337.2 L1104.4 339.5 L1104.5 335.0 L1104.6 336.1 L1104.7 336.2 L1104.8 334.3 L1104.9 333.3 L1104.9 334.6 L1105.0 332.2 L1105.1 332.3 L1105.4 331.4 L1105.7 331.4 L1106.0 328.4 L1106.3 329.1 L1106.5 329.8 L1106.6 331.7 L1106.7 330.0 L1106.8 332.9 L1106.9 333.1 L1107.0 334.7 L1107.1 334.1 L1107.2 336.3 L1107.3 336.6 L1107.4 334.9 L1107.5 340.1 L1107.6 338.7 L1107.7 340.1 L1107.7 340.3 L1107.8 340.6 L1107.8 341.4 L1107.9 343.7 L1107.9 345.1 L1108.0 346.1 L1108.1 343.9 L1108.1 346.6 L1108.2 345.4 L1108.2 350.0 L1108.3 349.9 L1108.4 351.3 L1108.4 350.9 L1108.5 351.5 L1108.5 351.2 L1108.6 354.9 L1108.7 354.0 L1108.7 355.9 L1108.8 354.8 L1108.8 356.0 L1109.0 356.4 L1109.2 357.5 L1109.4 358.0 L1109.5 360.2 L1109.7 361.5 L1109.9 359.9 L1110.1 362.0 L1110.7 359.8 L1111.3 361.2 L1111.9 359.2 L1112.6 359.8 L1112.6 360.9 L1112.6 361.5 L1112.6 359.9 L1112.6 364.3 L1112.7 364.1 L1112.7 365.6 L1112.7 367.0 L1112.7 365.6 L1112.7 365.7 L1112.7 369.4 L1112.8 371.6 L1112.8 369.5 L1112.8 370.2 L1112.8 372.2 L1112.8 372.1 L1112.9 374.4 L1112.9 374.8 L1112.9 374.7 L1112.9 376.1 L1112.9 375.7 L1112.9 378.2 L1113.0 377.2 L1113.0 379.8 L1113.0 382.7 L1113.0 379.1 L1113.0 382.5 L1113.1 380.4 L1113.1 381.9 L1113.1 385.2 L1113.1 386.0 L1113.1 386.3 L1113.1 386.6 L1113.2 386.9 L1113.2 387.4 L1113.2 388.0 L1113.3 388.5 L1113.3 388.1 L1113.4 392.0 L1113.4 391.9 L1113.4 394.6 L1113.5 394.8 L1113.5 395.0 L1113.6 393.7 L1113.6 394.9 L1113.6 396.1 L1113.7 396.9 L1113.7 397.5 L1113.8 395.9 L1113.8 398.1 L1113.8 399.6 L1113.9 400.4 L1113.9 401.4 L1114.0 400.8 L1114.0 402.0 L1114.1 405.8 L1114.1 404.7 L1114.1 405.4 L1114.2 406.7 L1114.2 407.3 L1114.3 407.9 L1114.4 411.7 L1114.4 410.0 L1114.5 412.8 L1114.6 412.1 L1114.6 413.5 L1114.7 417.1 L1114.7 415.8 L1114.8 415.9 L1114.9 413.1 L1114.9 415.6 L1115.0 417.2 L1115.1 418.8 L1115.1 418.3 L1115.1 416.0 L1115.2 414.9 L1115.2 416.0 L1115.3 414.7 L1115.3 414.0 L1115.3 414.0 L1115.4 412.8 L1115.4 412.0 L1115.5 409.6 L1115.5 409.6 L1115.5 407.0 L1115.6 409.8 L1115.6 407.1 L1115.7 408.7 L1115.7 406.0 L1115.8 405.0 L1115.8 405.9 L1115.8 404.3 L1115.9 403.2 L1115.9 401.8 L1116.0 400.8 L1116.0 399.3 L1116.0 398.2 L1116.1 396.1 L1116.1 396.8 L1116.2 395.8 L1116.2 397.5 L1116.3 398.5 L1116.3 395.6 L1116.4 393.6 L1116.4 392.5 L1116.5 391.9 L1116.6 389.4 L1116.7 391.7 L1116.7 391.0 L1116.8 389.7 L1116.9 390.7 L1116.9 388.7 L1117.0 386.6 L1117.1 386.0 L1117.2 384.5 L1117.2 384.4 L1117.2 381.7 L1117.3 382.4 L1117.3 381.2 L1117.4 380.1 L1117.4 379.2 L1117.4 378.7 L1117.5 376.0 L1117.5 377.4 L1117.5 376.4 L1117.6 377.9 L1117.6 375.7 L1117.7 375.6 L1117.7 373.8 L1117.7 372.5 L1117.8 370.3 L1117.8 369.9 L1117.9 369.0 L1117.9 366.0 L1117.9 367.0 L1118.0 366.3 L1118.0 366.7 L1118.0 367.2 L1118.1 365.3 L1118.1 365.9 L1118.2 364.1 L1118.2 366.0 L1118.3 365.4 L1118.3 366.2 L1118.4 368.9 L1118.4 370.2 L1118.5 370.8 L1118.5 368.0 L1118.6 366.9 L1118.6 371.9 L1118.7 372.9 L1118.8 374.6 L1118.8 374.8 L1118.9 374.3 L1118.9 375.6 L1119.0 375.9 L1119.0 378.5 L1119.1 379.1 L1119.1 377.7 L1119.2 377.9 L1119.2 380.7 L1119.3 382.0 L1119.3 382.3 L1119.4 382.4 L1119.5 380.2 L1119.6 379.1 L1119.7 379.9 L1119.7 376.8 L1119.8 378.0 L1119.9 377.9 L1120.0 377.5 L1120.1 377.0 L1120.1 377.6 L1120.2 375.3 L1120.3 372.6 L1120.4 370.1 L1120.5 368.0 L1120.6 369.6 L1120.6 370.0 L1120.7 368.9 L1120.8 371.1 L1120.8 371.3 L1120.9 372.4 L1121.0 373.9 L1121.0 374.8 L1121.1 374.1 L1121.1 376.7 L1121.2 377.1 L1121.3 375.7 L1121.3 378.9 L1121.4 381.5 L1121.5 380.6 L1121.5 383.2 L1121.6 380.8 L1121.6 382.1 L1121.7 384.9 L1121.8 386.4 L1121.8 386.5 L1121.9 386.5 L1121.9 385.3 L1122.0 385.3 L1122.0 385.1 L1122.0 384.4 L1122.0 383.0 L1122.1 382.5 L1122.1 381.4 L1122.1 380.6 L1122.2 377.2 L1122.2 378.1 L1122.2 376.1 L1122.3 375.5 L1122.3 375.3 L1122.3 374.9 L1122.4 372.4 L1122.4 371.9 L1122.4 372.2 L1122.4 370.9 L1122.5 370.5 L1122.5 369.8 L1122.5 371.0 L1122.6 370.9 L1122.6 372.3 L1122.7 373.8 L1122.7 372.6 L1122.7 375.2 L1122.8 374.5 L1122.8 376.4 L1122.9 377.9 L1122.9 379.0 L1122.9 377.7 L1123.0 378.1 L1123.0 378.5 L1123.1 381.2 L1123.1 382.2 L1123.1 380.7 L1123.2 383.8 L1123.2 386.0 L1123.3 385.2 L1123.3 386.0 L1123.3 385.6 L1123.3 383.4 L1123.3 382.8 L1123.3 383.2 L1123.3 381.8 L1123.3 381.2 L1123.3 380.6 L1123.3 381.8 L1123.3 379.9 L1123.3 378.8 L1123.3 376.9 L1123.3 377.8 L1123.3 376.2 L1123.3 375.0 L1123.3 375.7 L1123.3 375.4 L1123.3 372.1 L1123.3 371.1 L1123.3 372.2 L1123.3 369.9 L1123.3 371.0 L1123.3 368.8 L1123.3 370.1 L1123.3 366.5 L1123.3 363.5 L1123.3 362.5 L1123.4 365.8 L1123.4 363.2 L1123.4 362.1 L1123.4 361.0 L1123.4 359.9 L1123.4 360.1 L1123.4 359.6 L1123.4 358.0 L1123.4 357.0 L1123.4 358.4 L1123.4 357.9 L1123.4 357.2 L1123.4 356.8 L1123.4 354.4 L1123.4 354.3 L1123.4 354.7 L1123.4 351.3 L1123.4 352.2 L1123.4 347.4 L1123.4 345.9 L1123.4 345.4 L1123.4 345.2 L1123.4 344.7 L1123.4 344.5 L1123.4 345.5 L1123.4 343.5 L1123.4 342.7 L1123.4 340.8 L1123.4 339.2 L1123.4 339.9 L1123.4 338.9 L1123.4 340.0 L1123.4 338.9 L1123.4 335.7 L1123.4 337.1 L1123.4 334.7 L1123.4 334.4 L1123.4 332.9 L1123.4 332.2 L1123.4 331.6 L1123.4 330.2 L1123.4 329.8 L1123.4 329.6 L1123.4 330.2 L1123.4 329.9 L1123.4 330.6 L1123.4 326.2 L1123.4 325.6 L1123.4 326.8 L1123.4 323.9 L1123.4 323.5 L1123.4 323.9 L1123.5 324.5 L1123.5 323.0 L1123.5 321.7 L1123.5 320.1 L1123.5 320.0 L1123.5 318.8 L1123.5 318.1 L1123.5 316.2 L1123.5 315.6 L1123.5 314.0 L1123.5 312.6 L1123.5 311.9 L1123.5 311.2 L1123.5 310.6 L1123.5 310.0 L1123.5 308.1 L1123.5 309.1 L1123.5 309.0 L1123.5 309.9 L1123.5 304.9 L1123.5 303.8 L1123.5 303.5 L1123.5 302.9 L1123.5 303.3 L1123.5 301.9 L1123.5 300.9 L1123.5 301.5 L1123.5 302.2 L1123.6 301.1 L1123.7 304.4 L1123.7 307.6 L1123.8 308.0 L1123.8 307.1 L1123.8 309.1 L1123.9 308.7 L1124.0 308.7 L1124.0 310.0 L1124.0 312.2 L1124.1 312.1 L1124.2 312.1 L1124.2 311.4 L1124.2 313.5 L1124.3 313.3 L1124.3 314.9 L1124.4 314.5 L1124.5 315.5 L1124.5 317.5 L1124.6 315.8 L1124.8 314.5 L1124.9 316.4 L1125.0 315.9 L1125.2 313.9 L1125.3 312.6 L1125.4 313.1 L1125.5 311.4 L1125.5 311.3 L1125.6 311.2 L1125.7 308.9 L1125.8 308.6 L1125.8 308.0 L1125.9 306.2 L1126.0 305.3 L1126.1 304.5 L1126.5 299.6 L1126.9 301.1 L1127.3 302.6 L1127.5 303.1 L1127.6 304.4 L1127.8 301.1 L1127.9 300.4 L1128.1 297.8 L1128.2 296.2 L1128.4 294.9 L1128.5 295.4 L1128.6 297.2 L1128.7 295.2 L1128.7 298.1 L1128.8 299.9 L1128.8 301.0 L1128.9 299.4 L1128.9 301.2 L1129.0 302.5 L1129.1 301.5 L1129.1 302.0 L1129.2 306.7 L1129.2 305.4 L1129.3 305.7 L1129.4 304.6 L1129.4 306.4 L1129.5 309.9 L1129.5 309.9 L1129.6 308.2 L1129.6 307.9 L1129.6 307.6 L1129.7 307.2 L1129.7 304.7 L1129.7 304.9 L1129.8 303.2 L1129.8 302.2 L1129.8 300.9 L1129.9 300.0 L1129.9 300.7 L1129.9 297.7 L1130.0 298.5 L1130.0 301.2 L1130.0 297.3 L1130.0 296.1 L1130.1 295.4 L1130.1 296.6 L1130.1 292.9 L1130.2 293.4 L1130.2 292.3 L1130.2 293.8 L1130.3 291.2 L1130.3 292.4 L1130.3 288.7 L1130.4 288.5 L1130.4 286.9 L1130.4 285.4 L1130.4 283.8 L1130.5 283.7 L1130.5 285.5 L1130.5 283.1 L1130.5 285.4 L1130.5 284.6 L1130.6 282.2 L1130.6 280.5 L1130.6 279.7 L1130.6 277.7 L1130.6 278.0 L1130.7 277.0 L1130.7 273.7 L1130.7 274.4 L1130.7 274.7 L1130.7 273.7 L1130.8 273.1 L1130.8 272.0 L1130.8 270.5 L1130.8 271.3 L1130.8 271.4 L1130.9 268.9 L1130.9 268.8 L1130.9 266.0 L1130.9 267.3 L1130.9 264.7 L1130.9 264.3 L1131.0 264.8 L1131.0 262.6 L1131.0 262.0 L1131.0 261.6 L1131.1 261.8 L1131.1 263.2 L1131.1 265.1 L1131.2 265.3 L1131.2 264.7 L1131.3 265.5 L1131.3 266.5 L1131.4 267.7 L1131.4 269.4 L1131.4 267.9 L1131.5 269.7 L1131.5 271.2 L1131.6 273.8 L1131.6 271.7 L1131.6 272.2 L1131.7 275.0 L1131.7 275.5 L1131.8 277.5 L1131.8 277.4 L1131.9 277.2 L1131.9 278.3 L1131.9 280.8 L1132.0 281.6 L1132.0 281.3 L1132.1 280.7 L1132.2 280.8 L1132.3 279.7 L1132.4 278.4 L1132.5 277.9 L1132.5 276.4 L1132.6 273.9 L1132.7 274.8 L1132.8 274.9 L1132.9 273.1 L1132.9 273.9 L1133.0 272.9 L1133.0 275.0 L1133.0 275.1 L1133.1 274.1 L1133.1 276.7 L1133.1 277.1 L1133.2 278.7 L1133.2 279.2 L1133.2 281.4 L1133.3 282.8 L1133.3 283.4 L1133.3 284.9 L1133.4 284.0 L1133.4 287.6 L1133.4 284.6 L1133.5 287.0 L1133.5 287.7 L1133.6 286.5 L1133.7 285.7 L1133.8 283.3 L1133.9 282.8 L1134.0 282.9 L1134.0 280.5 L1134.1 280.2 L1134.2 280.5 L1134.2 281.3 L1134.2 281.9 L1134.3 283.7 L1134.3 283.4 L1134.3 286.7 L1134.3 288.5 L1134.4 288.3 L1134.4 288.1 L1134.4 289.2 L1134.5 290.0 L1134.5 290.1 L1134.5 290.8 L1134.5 292.8 L1134.6 292.5 L1134.6 293.3 L1134.6 294.3 L1134.7 294.5 L1134.7 296.6 L1134.7 296.1 L1134.8 298.7 L1135.0 300.4 L1135.2 300.5 L1135.4 302.1 L1135.6 303.5 L1135.8 302.8 L1136.0 303.5 L1136.1 303.6 L1136.2 304.5 L1136.3 305.3 L1136.4 306.7 L1136.5 308.2 L1136.6 311.2 L1136.7 310.6 L1136.8 311.7 L1136.9 311.2 L1137.0 313.8 L1137.1 313.4 L1137.2 313.4 L1137.4 314.0 L1137.6 315.1 L1137.7 315.5 L1137.9 316.9 L1138.0 319.8 L1138.2 319.4 L1138.3 318.8 L1138.5 319.5 L1138.8 318.5 L1139.1 317.2 L1139.4 316.5 L1139.7 317.0 L1139.9 316.5 L1140.1 316.0 L1140.3 316.1 L1140.4 313.0 L1140.6 311.7 L1140.8 310.5 L1141.0 310.4 L1141.2 308.8 L1141.4 307.8 L1141.6 308.7 L1141.8 306.5 L1142.0 308.9 L1142.2 305.5 L1142.4 305.5 L1142.5 302.6 L1142.7 302.4 L1142.8 300.9 L1143.0 301.3 L1143.1 301.4 L1143.3 299.9 L1143.4 298.6 L1143.6 297.2 L1143.7 297.4 L1143.9 297.1 L1144.2 298.1 L1144.4 299.9 L1144.6 301.9 L1144.9 301.3 L1145.1 300.1 L1145.3 303.1 L1145.9 304.8 L1146.6 304.1 L1147.2 306.0 L1147.8 304.0 L1148.4 304.1 L1148.5 305.1 L1148.6 304.0 L1148.7 305.9 L1148.8 304.4 L1148.9 306.3 L1149.1 309.2 L1149.2 309.7 L1149.3 310.2 L1149.4 312.4 L1149.5 312.0 L1149.6 312.1 L1149.7 314.3 L1149.9 315.1 L1150.2 316.5 L1150.4 317.2 L1150.7 318.8 L1150.8 318.6 L1150.8 316.9 L1150.9 318.7 L1151.0 314.3 L1151.1 314.3 L1151.2 312.6 L1151.3 314.9 L1151.4 313.0 L1151.5 312.4 L1151.5 311.2 L1151.6 311.5 L1151.7 308.7 L1151.8 308.9 L1151.9 305.4 L1152.0 306.3 L1152.1 306.8 L1152.2 305.1 L1152.3 306.7 L1152.4 304.6 L1152.5 306.6 L1152.6 307.4 L1152.7 310.3 L1152.8 310.8 L1152.9 311.6 L1153.0 313.2 L1153.1 313.4 L1153.2 311.8 L1153.3 312.4 L1153.4 313.8 L1153.8 314.1 L1154.2 312.8 L1154.6 311.7 L1154.8 311.2 L1155.0 309.8 L1155.2 308.9 L1155.4 309.9 L1155.5 305.7 L1155.7 304.4 L1155.9 305.6 L1156.5 306.1 L1157.1 308.6 L1157.8 308.4 L1158.7 308.3 L1159.6 307.8 L1160.2 305.5 L1160.9 303.6 L1161.5 303.3 L1162.1 303.8 L1162.6 303.2 L1163.0 305.3 L1163.5 305.4 L1164.0 307.5 L1164.2 308.9 L1164.5 309.9 L1164.8 310.2 L1165.0 310.9 L1165.3 309.5 L1165.6 311.9 L1165.8 308.9 L1165.9 311.1 L1166.1 308.5 L1166.2 307.3 L1166.4 306.9 L1166.6 309.3 L1166.7 305.8 L1166.9 307.2 L1167.1 304.9 L1167.7 307.3 L1168.3 304.3 L1168.9 302.7 L1169.3 303.5 L1169.7 303.8 L1170.1 304.3 L1170.4 306.7 L1170.8 307.1 L1170.9 307.2 L1171.1 306.5 L1171.2 306.1 L1171.4 306.1 L1171.5 305.0 L1171.6 301.8 L1171.8 302.7 L1171.9 298.1 L1172.1 299.9 L1172.4 300.4 L1172.7 297.1 L1173.0 298.1 L1173.3 295.5 L1173.6 295.7 L1173.9 294.0 L1174.2 293.0 L1174.5 292.3 L1174.8 291.0 L1175.2 291.2 L1175.2 291.9 L1175.3 292.5 L1175.4 293.4 L1175.5 293.7 L1175.6 293.6 L1175.7 296.0 L1175.8 297.6 L1175.9 296.3 L1176.0 298.9 L1176.0 300.7 L1176.1 300.6 L1176.2 302.5 L1176.3 299.5 L1176.4 302.5 L1176.5 302.4 L1176.7 303.9 L1176.8 303.5 L1177.0 307.8 L1177.1 306.5 L1177.3 307.8 L1177.4 306.3 L1177.6 307.6 L1177.7 309.5 L1177.9 310.0 L1178.0 310.6 L1178.1 311.5 L1178.2 307.9 L1178.3 308.1 L1178.4 307.3 L1178.5 306.3 L1178.5 306.6 L1178.6 305.7 L1178.7 304.4 L1178.8 304.4 L1178.9 303.0 L1179.0 302.7 L1179.1 302.9 L1179.2 301.3 L1179.2 300.0 L1179.3 298.3 L1179.4 299.4 L1179.5 297.7 L1179.6 297.5 L1179.7 296.3 L1179.8 294.0 L1179.9 293.7 L1180.0 293.3 L1180.1 291.0 L1180.2 289.8 L1180.3 289.9 L1180.4 291.7 L1180.5 290.0 L1180.7 286.8 L1180.8 287.6 L1180.8 287.8 L1180.9 286.9 L1181.0 284.6 L1181.1 283.8 L1181.2 285.7 L1181.3 284.6 L1181.4 287.7 L1181.5 280.8 L1181.5 278.2 L1181.6 278.1 L1181.7 276.9 L1181.8 276.3 L1181.9 277.2 L1182.0 277.7 L1182.1 274.1 L1182.2 274.7 L1182.2 273.9 L1182.4 275.1 L1182.5 277.0 L1182.7 278.1 L1182.8 276.6 L1182.9 277.8 L1183.1 278.9 L1183.2 278.1 L1183.4 279.5 L1183.5 281.3 L1183.7 281.0 L1183.9 279.7 L1184.1 281.7 L1184.3 279.5 L1184.5 278.6 L1184.7 276.0 L1185.1 276.6 L1185.4 274.5 L1185.7 273.6 L1186.0 272.5 L1186.3 271.9 L1187.0 273.2 L1187.6 272.6 L1188.2 275.0 L1188.3 274.8 L1188.4 277.6 L1188.5 278.0 L1188.6 279.7 L1188.7 278.1 L1188.7 280.0 L1188.8 281.4 L1188.9 281.9 L1189.0 282.1 L1189.1 282.2 L1189.2 279.6 L1189.3 283.6 L1189.4 283.4 L1189.5 285.5 L1189.8 285.0 L1190.2 281.3 L1190.6 281.7 L1190.9 283.0" fill="none" stroke="#be1a30" stroke-width="3.2" stroke-linejoin="round" stroke-linecap="butt"/>
<rect x="637.0" y="501.2" width="2" height="21.7" fill="#000"/>
<rect x="663.31" y="512.4" width="2" height="10.5" fill="#000"/>
<rect x="689.62" y="512.4" width="2" height="10.5" fill="#000"/>
<rect x="715.93" y="501.2" width="2" height="21.7" fill="#000"/>
<rect x="742.24" y="512.4" width="2" height="10.5" fill="#000"/>
<rect x="768.55" y="512.4" width="2" height="10.5" fill="#000"/>
<rect x="794.86" y="501.2" width="2" height="21.7" fill="#000"/>
<rect x="821.17" y="512.4" width="2" height="10.5" fill="#000"/>
<rect x="847.48" y="512.4" width="2" height="10.5" fill="#000"/>
<rect x="873.79" y="501.2" width="2" height="21.7" fill="#000"/>
<rect x="900.0999999999999" y="512.4" width="2" height="10.5" fill="#000"/>
<rect x="926.41" y="512.4" width="2" height="10.5" fill="#000"/>
<rect x="952.22" y="501.2" width="3" height="21.7" fill="#000"/>
<rect x="979.03" y="512.4" width="2" height="10.5" fill="#000"/>
<rect x="1005.3399999999999" y="512.4" width="2" height="10.5" fill="#000"/>
<rect x="1031.15" y="501.2" width="3" height="21.7" fill="#000"/>
<rect x="1057.96" y="512.4" width="2" height="10.5" fill="#000"/>
<rect x="1084.27" y="512.4" width="2" height="10.5" fill="#000"/>
<rect x="1110.58" y="501.2" width="2" height="21.7" fill="#000"/>
<rect x="1136.8899999999999" y="512.4" width="2" height="10.5" fill="#000"/>
<rect x="1163.1999999999998" y="512.4" width="2" height="10.5" fill="#000"/>
<rect x="1189.01" y="501.2" width="3" height="21.7" fill="#000"/>
<rect x="658" y="605.2" width="36" height="3.5" fill="#be1a30"/>
<rect x="845.8" y="605.2" width="36" height="3.5" fill="#0064b4"/>
</svg>
<div class="t" style="left:15.58px;top:49.10px;font-size:28.3px;transform:scaleX(1.0166)">Global</div>
<div class="t" style="left:107.89px;top:49.10px;font-size:28.3px;transform:scaleX(1.0108)">financial</div>
<div class="t" style="left:219.73px;top:49.10px;font-size:28.3px;transform:scaleX(1.0350)">market</div>
<div class="t" style="left:317.26px;top:49.10px;font-size:28.3px;transform:scaleX(0.9926)">connectedness</div>
<div class="t" style="left:506.61px;top:47.10px;font-size:17.6px;transform:scaleX(0.9548)">1</div>
<div class="t" style="left:17.10px;top:103.10px;font-size:22px;transform:scaleX(0.9280)">As</div>
<div class="t" style="left:48.08px;top:103.10px;font-size:22px;transform:scaleX(0.9156)">a</div>
<div class="t" style="left:67.01px;top:103.10px;font-size:22px;transform:scaleX(1.0589)">percentage</div>
<div class="t" style="left:190.76px;top:103.10px;font-size:22px;transform:scaleX(1.0400)">of</div>
<div class="t" style="left:218.24px;top:103.10px;font-size:22px;transform:scaleX(1.0256)">variance</div>
<div class="t" style="left:310.43px;top:103.10px;font-size:22px;transform:scaleX(1.0703)">explained</div>
<div class="t" style="left:1148.05px;top:103.10px;font-size:22px;transform:scaleX(1.0485)">Graph</div>
<div class="t" style="left:1217.88px;top:103.10px;font-size:22px;transform:scaleX(1.1220)">8</div>
<div class="t" style="left:16.80px;top:159.10px;font-size:22px;transform:scaleX(1.0453)">A.</div>
<div class="t" style="left:43.02px;top:159.10px;font-size:22px;transform:scaleX(0.9758)">Cross</div>
<div class="t" style="left:99.90px;top:159.10px;font-size:22px;transform:scaleX(1.2000)">-</div>
<div class="t" style="left:108.19px;top:159.10px;font-size:22px;transform:scaleX(1.1099)">country</div>
<div class="t" style="left:194.58px;top:159.10px;font-size:22px;transform:scaleX(1.1153)">co</div>
<div class="t" style="left:220.46px;top:159.10px;font-size:22px;transform:scaleX(1.1429)">-</div>
<div class="t" style="left:228.05px;top:159.10px;font-size:22px;transform:scaleX(1.0990)">movement</div>
<div class="t" style="left:634.50px;top:159.10px;font-size:22px;transform:scaleX(1.0294)">B.</div>
<div class="t" style="left:659.75px;top:159.10px;font-size:22px;transform:scaleX(1.0541)">Global</div>
<div class="t" style="left:734.64px;top:159.10px;font-size:22px;transform:scaleX(1.0532)">financial</div>
<div class="t" style="left:825.24px;top:159.10px;font-size:22px;transform:scaleX(1.1038)">market</div>
<div class="t" style="left:905.15px;top:159.10px;font-size:22px;transform:scaleX(1.0489)">connectedness</div>
<div class="t" style="left:341.19px;top:156.10px;font-size:16.3px;transform:scaleX(0.9467)">2</div>
<div class="t" style="left:1060.98px;top:156.10px;font-size:16.3px;transform:scaleX(0.9600)">3</div>
<div class="t" style="left:583.41px;top:202.10px;font-size:21.6px;transform:scaleX(0.9888)">80</div>
<div class="t" style="left:583.41px;top:277.10px;font-size:21.6px;transform:scaleX(0.9888)">60</div>
<div class="t" style="left:583.92px;top:352.10px;font-size:21.6px;transform:scaleX(0.9670)">40</div>
<div class="t" style="left:583.41px;top:427.10px;font-size:21.6px;transform:scaleX(0.9888)">20</div>
<div class="t" style="left:594.51px;top:502.10px;font-size:21.6px;transform:scaleX(1.0571)">0</div>
<div class="t" style="left:1203.92px;top:249.10px;font-size:21.6px;transform:scaleX(0.9798)">60</div>
<div class="t" style="left:1203.92px;top:333.10px;font-size:21.6px;transform:scaleX(0.9798)">50</div>
<div class="t" style="left:1204.42px;top:417.10px;font-size:21.6px;transform:scaleX(0.9582)">40</div>
<div class="t" style="left:1204.17px;top:500.10px;font-size:21.6px;transform:scaleX(0.9689)">30</div>
<div class="t" style="left:680.63px;top:531.10px;font-size:21.6px;transform:scaleX(0.9652)">2006</div>
<div class="t" style="left:759.56px;top:531.10px;font-size:21.6px;transform:scaleX(0.9652)">2009</div>
<div class="t" style="left:838.49px;top:531.10px;font-size:21.6px;transform:scaleX(0.9652)">2012</div>
<div class="t" style="left:917.42px;top:531.10px;font-size:21.6px;transform:scaleX(0.9652)">2015</div>
<div class="t" style="left:996.35px;top:531.10px;font-size:21.6px;transform:scaleX(0.9652)">2018</div>
<div class="t" style="left:1075.28px;top:531.10px;font-size:21.6px;transform:scaleX(0.9652)">2021</div>
<div class="t" style="left:1154.23px;top:531.10px;font-size:21.6px;transform:scaleX(0.9548)">2024</div>
<div class="t" style="left:49.98px;top:534.10px;font-size:21.4px;transform:scaleX(0.8207)">GS</div>
<div class="t" style="left:81.55px;top:534.10px;font-size:21.4px;transform:scaleX(0.8306)">FCIs</div>
<div class="t" style="left:173.76px;top:534.10px;font-size:20.8px;transform:scaleX(1.0439)">Govt bond</div>
<div class="t" style="left:197.00px;top:557.10px;font-size:20.8px;transform:scaleX(1.0000)">yields</div>
<div class="t" style="left:326.25px;top:534.10px;font-size:20.8px;transform:scaleX(1.0258)">IG debt</div>
<div class="t" style="left:325.77px;top:557.10px;font-size:20.8px;transform:scaleX(0.9724)">spreads</div>
<div class="t" style="left:471.22px;top:534.10px;font-size:20.8px;transform:scaleX(1.0179)">Equity</div>
<div class="t" style="left:467.46px;top:557.10px;font-size:20.8px;transform:scaleX(1.0240)">returns</div>
<div class="t" style="left:120.46px;top:601.10px;font-size:21.6px;transform:scaleX(0.9415)">2005–19</div>
<div class="t" style="left:362.02px;top:602.10px;font-size:20.8px;transform:scaleX(0.9803)">2020–latest</div>
<div class="t" style="left:657.47px;top:570.10px;font-size:21.2px;transform:scaleX(0.8736)">BIS FCIs:</div>
<div class="t" style="left:703.55px;top:595.10px;font-size:20.8px;transform:scaleX(1.0000)">Level factor</div>
<div class="t" style="left:891.26px;top:595.10px;font-size:20.8px;transform:scaleX(0.9922)">Risk factor</div>
<div class="t" style="left:15.18px;top:642.10px;font-size:19.2px;transform:scaleX(1.0159)">FCIs = financial conditions indices;</div>
<div class="t" style="left:318.01px;top:642.10px;font-size:19.2px;transform:scaleX(0.9854)">GS = Goldman Sachs;</div>
<div class="t" style="left:510.10px;top:642.10px;font-size:19.2px;transform:scaleX(1.0306)">IG = investment grade.</div>
<div class="t" style="left:16.69px;top:684.10px;font-size:12.5px;transform:scaleX(0.9143)">1</div>
<div class="t" style="left:268.02px;top:684.10px;font-size:12.5px;transform:scaleX(0.9565)">2</div>
<div class="t" style="left:1137.13px;top:684.10px;font-size:12.5px;transform:scaleX(0.9333)">3</div>
<div class="t" style="left:33.40px;top:684.10px;font-size:19.2px;transform:scaleX(1.0038)">See endnotes for details.</div>
<div class="t" style="left:284.71px;top:684.10px;font-size:19.2px;transform:scaleX(0.9859)">Share of variance</div>
<div class="t" style="left:437.64px;top:684.10px;font-size:19.2px;transform:scaleX(1.0160)">explained by the first</div>
<div class="t" style="left:622.51px;top:684.10px;font-size:19.2px;transform:scaleX(1.0308)">principal component</div>
<div class="t" style="left:805.62px;top:684.10px;font-size:19.2px;transform:scaleX(1.0237)">in the cross-section</div>
<div class="t" style="left:978.95px;top:684.10px;font-size:19.2px;transform:scaleX(1.0030)">of the variables.</div>
<div class="t" style="left:1154.58px;top:684.10px;font-size:19.2px;transform:scaleX(1.0337)">The total</div>
<div class="t" style="left:15.96px;top:710.10px;font-size:19.2px;transform:scaleX(0.9854)">connectedness is the share of variance</div>
<div class="t" style="left:347.75px;top:710.10px;font-size:19.2px;transform:scaleX(0.9971)">(over a 10-business day horizon)</div>
<div class="t" style="left:631.95px;top:710.10px;font-size:19.2px;transform:scaleX(0.9918)">that is not explained by</div>
<div class="t" style="left:834.24px;top:710.10px;font-size:19.2px;transform:scaleX(1.0079)">domestic market</div>
<div class="t" style="left:981.94px;top:710.10px;font-size:19.2px;transform:scaleX(1.0176)">developments,</div>
<div class="t" style="left:1113.25px;top:710.10px;font-size:19.2px;transform:scaleX(0.9983)">and is instead</div>
<div class="t" style="left:15.93px;top:736.10px;font-size:19.2px;transform:scaleX(1.0214)">attributed to transmission across countries.</div>
<div class="t" style="left:396.49px;top:736.10px;font-size:19.2px;transform:scaleX(1.0114)">The level factor reflects the</div>
<div class="t" style="left:634.23px;top:736.10px;font-size:19.2px;transform:scaleX(1.0170)">prevailing level of</div>
<div class="t" style="left:792.25px;top:736.10px;font-size:19.2px;transform:scaleX(1.0000)">various</div>
<div class="t" style="left:859.54px;top:736.10px;font-size:19.2px;transform:scaleX(1.0093)">interest rates,</div>
<div class="t" style="left:982.00px;top:736.10px;font-size:19.2px;transform:scaleX(1.0086)">while the risk</div>
<div class="t" style="left:1100.44px;top:736.10px;font-size:19.2px;transform:scaleX(1.0353)">factor loads on</div>
<div class="t" style="left:15.94px;top:762.10px;font-size:19.2px;transform:scaleX(1.0069)">corporate bonds, risky spreads and</div>
<div class="t" style="left:324.22px;top:762.10px;font-size:19.2px;transform:scaleX(1.0378)">equity returns.</div>
<div class="t" style="left:454.28px;top:762.10px;font-size:19.2px;transform:scaleX(1.0145)">For the construction of the factors, see Box B.</div>
<div class="t" style="left:15.71px;top:803.10px;font-size:19.2px;transform:scaleX(0.9875)">Sources: Korukmez et al (2025);</div>
<div class="t" style="left:290.74px;top:803.10px;font-size:19.2px;transform:scaleX(1.0400)">Bloomberg;</div>
<div class="t" style="left:397.00px;top:803.10px;font-size:19.2px;transform:scaleX(0.9990)">Goldman Sachs Global</div>
<div class="t" style="left:598.68px;top:803.10px;font-size:19.2px;transform:scaleX(0.9834)">Investment Research;</div>
<div class="t" style="left:787.07px;top:803.10px;font-size:19.2px;transform:scaleX(0.9566)">LSEG Datastream;</div>
<div class="t" style="left:945.64px;top:803.10px;font-size:19.2px;transform:scaleX(0.9091)">BIS.</div>
</body></html>
